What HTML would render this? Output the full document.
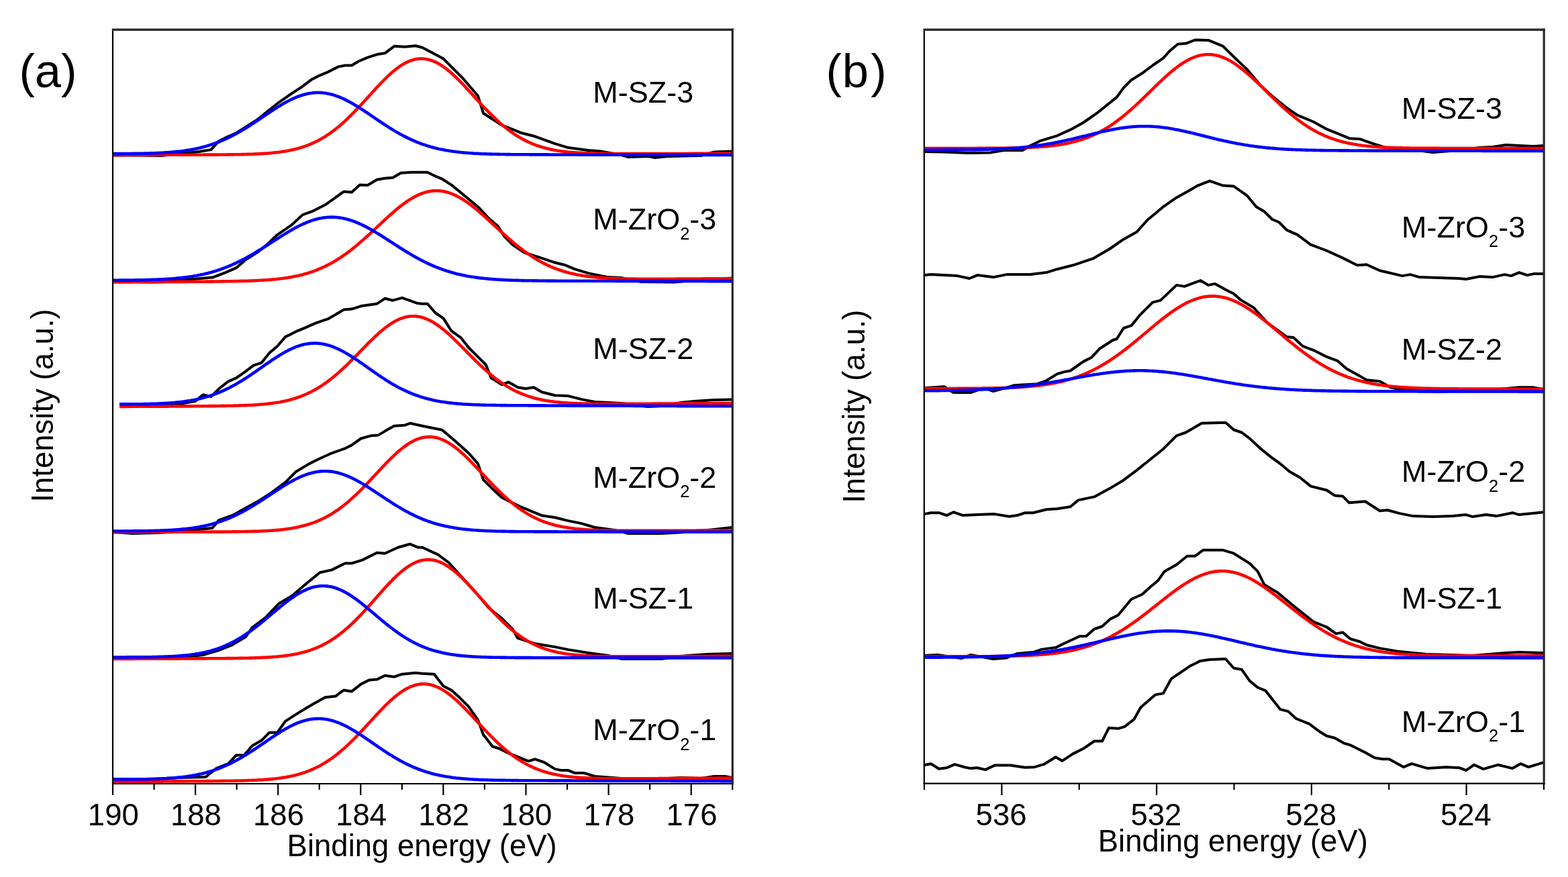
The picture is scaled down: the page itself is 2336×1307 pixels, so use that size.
<!DOCTYPE html>
<html><head><meta charset="utf-8"><title>XPS spectra</title>
<style>
html,body{margin:0;padding:0;background:#fff;}
svg{display:block;}
text{font-family:"Liberation Sans",Arial,sans-serif;fill:#000;}
.tk{font-size:45.5px;}
.lb{font-size:45px;}
.sub{font-size:25.5px;}
.ti{font-size:45.5px;}
.pl{font-size:70.5px;}
</style></head><body>
<svg width="2336" height="1307" viewBox="0 0 2336 1307">
<rect width="2336" height="1307" fill="#fff"/>
<g fill="none" stroke-width="4.0" stroke-linejoin="round" stroke-linecap="butt">
<path d="M168.0,231.6 L207.6,231.6 L241.2,232.0 L266.9,229.0 L296.6,226.0 L314.4,223.1 L326.2,210.2 L338.1,204.3 L351.9,198.3 L365.8,189.4 L381.6,179.5 L395.4,168.7 L415.2,152.8 L435.0,139.0 L448.8,130.1 L464.7,118.2 L476.5,112.3 L488.4,107.4 L504.2,99.4 L514.1,97.5 L524.0,97.5 L533.9,91.5 L547.7,85.6 L563.5,80.7 L573.4,79.3 L587.3,68.8 L603.1,69.8 L618.9,68.2 L629.0,70.8 L660.6,87.6 L688.3,115.3 L712.1,143.0 L720.0,168.7 L747.7,186.5 L777.3,198.3 L797.1,203.3 L826.8,214.2 L846.6,220.1 L876.2,224.0 L896.0,225.6 L925.7,231.0 L935.5,233.9 L965.2,232.9 L975.1,234.9 L994.9,232.9 L1044.3,232.0 L1064.1,226.4 L1091.0,225.6" stroke="#000"/>
<path d="M168.0,231.0 L170.0,231.0 L172.0,231.0 L174.0,231.0 L176.0,231.0 L178.0,231.0 L180.0,231.0 L182.0,231.0 L184.0,231.0 L186.0,231.0 L188.0,231.0 L190.0,230.9 L192.0,230.9 L194.0,230.9 L196.0,230.9 L198.0,230.9 L200.0,230.9 L202.0,230.9 L204.0,230.9 L206.0,230.9 L208.0,230.9 L210.0,230.9 L212.0,230.9 L214.0,230.9 L216.0,230.9 L218.0,230.9 L220.0,230.9 L222.0,230.9 L224.0,230.9 L226.0,230.9 L228.0,230.9 L230.0,230.9 L232.0,230.8 L234.0,230.8 L236.0,230.8 L238.0,230.8 L240.0,230.8 L242.0,230.8 L244.0,230.8 L246.0,230.8 L248.0,230.8 L250.0,230.8 L252.0,230.8 L254.0,230.8 L256.0,230.8 L258.0,230.8 L260.0,230.8 L262.0,230.8 L264.0,230.8 L266.0,230.8 L268.0,230.8 L270.0,230.8 L272.0,230.7 L274.0,230.7 L276.0,230.7 L278.0,230.7 L280.0,230.7 L282.0,230.7 L284.0,230.7 L286.0,230.7 L288.0,230.7 L290.0,230.7 L292.0,230.7 L294.0,230.7 L296.0,230.7 L298.0,230.7 L300.0,230.7 L302.0,230.7 L304.0,230.6 L306.0,230.6 L308.0,230.6 L310.0,230.6 L312.0,230.6 L314.0,230.6 L316.0,230.6 L318.0,230.6 L320.0,230.6 L322.0,230.6 L324.0,230.6 L326.0,230.5 L328.0,230.5 L330.0,230.5 L332.0,230.5 L334.0,230.5 L336.0,230.5 L338.0,230.4 L340.0,230.4 L342.0,230.4 L344.0,230.4 L346.0,230.4 L348.0,230.3 L350.0,230.3 L352.0,230.3 L354.0,230.2 L356.0,230.2 L358.0,230.2 L360.0,230.1 L362.0,230.1 L364.0,230.0 L366.0,230.0 L368.0,229.9 L370.0,229.9 L372.0,229.8 L374.0,229.8 L376.0,229.7 L378.0,229.6 L380.0,229.5 L382.0,229.4 L384.0,229.4 L386.0,229.3 L388.0,229.1 L390.0,229.0 L392.0,228.9 L394.0,228.8 L396.0,228.7 L398.0,228.5 L400.0,228.4 L402.0,228.2 L404.0,228.0 L406.0,227.8 L408.0,227.6 L410.0,227.4 L412.0,227.2 L414.0,226.9 L416.0,226.7 L418.0,226.4 L420.0,226.1 L422.0,225.8 L424.0,225.5 L426.0,225.2 L428.0,224.8 L430.0,224.5 L432.0,224.1 L434.0,223.6 L436.0,223.2 L438.0,222.7 L440.0,222.2 L442.0,221.7 L444.0,221.2 L446.0,220.6 L448.0,220.0 L450.0,219.4 L452.0,218.8 L454.0,218.1 L456.0,217.4 L458.0,216.6 L460.0,215.9 L462.0,215.0 L464.0,214.2 L466.0,213.3 L468.0,212.4 L470.0,211.4 L472.0,210.5 L474.0,209.4 L476.0,208.4 L478.0,207.2 L480.0,206.1 L482.0,204.9 L484.0,203.7 L486.0,202.4 L488.0,201.1 L490.0,199.8 L492.0,198.4 L494.0,196.9 L496.0,195.5 L498.0,193.9 L500.0,192.4 L502.0,190.8 L504.0,189.2 L506.0,187.5 L508.0,185.8 L510.0,184.0 L512.0,182.2 L514.0,180.4 L516.0,178.5 L518.0,176.6 L520.0,174.7 L522.0,172.7 L524.0,170.7 L526.0,168.7 L528.0,166.6 L530.0,164.6 L532.0,162.5 L534.0,160.3 L536.0,158.2 L538.0,156.0 L540.0,153.9 L542.0,151.7 L544.0,149.5 L546.0,147.3 L548.0,145.1 L550.0,142.9 L552.0,140.7 L554.0,138.4 L556.0,136.2 L558.0,134.1 L560.0,131.9 L562.0,129.7 L564.0,127.6 L566.0,125.5 L568.0,123.4 L570.0,121.3 L572.0,119.3 L574.0,117.3 L576.0,115.3 L578.0,113.4 L580.0,111.6 L582.0,109.8 L584.0,108.0 L586.0,106.3 L588.0,104.6 L590.0,103.0 L592.0,101.5 L594.0,100.0 L596.0,98.6 L598.0,97.3 L600.0,96.1 L602.0,94.9 L604.0,93.8 L606.0,92.8 L608.0,91.9 L610.0,91.0 L612.0,90.3 L614.0,89.6 L616.0,89.0 L618.0,88.5 L620.0,88.1 L622.0,87.8 L624.0,87.6 L626.0,87.5 L628.0,87.4 L630.0,87.5 L632.0,87.7 L634.0,87.9 L636.0,88.2 L638.0,88.7 L640.0,89.2 L642.0,89.8 L644.0,90.5 L646.0,91.3 L648.0,92.1 L650.0,93.1 L652.0,94.1 L654.0,95.2 L656.0,96.4 L658.0,97.7 L660.0,99.0 L662.0,100.5 L664.0,101.9 L666.0,103.5 L668.0,105.1 L670.0,106.8 L672.0,108.5 L674.0,110.3 L676.0,112.1 L678.0,114.0 L680.0,115.9 L682.0,117.8 L684.0,119.8 L686.0,121.9 L688.0,123.9 L690.0,126.0 L692.0,128.1 L694.0,130.3 L696.0,132.4 L698.0,134.6 L700.0,136.8 L702.0,139.0 L704.0,141.2 L706.0,143.4 L708.0,145.6 L710.0,147.8 L712.0,150.0 L714.0,152.2 L716.0,154.3 L718.0,156.5 L720.0,158.6 L722.0,160.8 L724.0,162.9 L726.0,164.9 L728.0,167.0 L730.0,169.0 L732.0,171.0 L734.0,173.0 L736.0,175.0 L738.0,176.9 L740.0,178.7 L742.0,180.6 L744.0,182.4 L746.0,184.2 L748.0,185.9 L750.0,187.6 L752.0,189.2 L754.0,190.8 L756.0,192.4 L758.0,193.9 L760.0,195.4 L762.0,196.9 L764.0,198.3 L766.0,199.7 L768.0,201.0 L770.0,202.3 L772.0,203.5 L774.0,204.7 L776.0,205.9 L778.0,207.0 L780.0,208.1 L782.0,209.1 L784.0,210.1 L786.0,211.1 L788.0,212.0 L790.0,212.9 L792.0,213.8 L794.0,214.6 L796.0,215.4 L798.0,216.1 L800.0,216.8 L802.0,217.5 L804.0,218.2 L806.0,218.8 L808.0,219.4 L810.0,220.0 L812.0,220.5 L814.0,221.1 L816.0,221.6 L818.0,222.0 L820.0,222.5 L822.0,222.9 L824.0,223.3 L826.0,223.7 L828.0,224.0 L830.0,224.4 L832.0,224.7 L834.0,225.0 L836.0,225.3 L838.0,225.5 L840.0,225.8 L842.0,226.0 L844.0,226.2 L846.0,226.5 L848.0,226.7 L850.0,226.8 L852.0,227.0 L854.0,227.2 L856.0,227.3 L858.0,227.5 L860.0,227.6 L862.0,227.7 L864.0,227.8 L866.0,227.9 L868.0,228.0 L870.0,228.1 L872.0,228.2 L874.0,228.3 L876.0,228.4 L878.0,228.4 L880.0,228.5 L882.0,228.6 L884.0,228.6 L886.0,228.7 L888.0,228.7 L890.0,228.8 L892.0,228.8 L894.0,228.8 L896.0,228.9 L898.0,228.9 L900.0,228.9 L902.0,228.9 L904.0,229.0 L906.0,229.0 L908.0,229.0 L910.0,229.0 L912.0,229.0 L914.0,229.0 L916.0,229.1 L918.0,229.1 L920.0,229.1 L922.0,229.1 L924.0,229.1 L926.0,229.1 L928.0,229.1 L930.0,229.1 L932.0,229.1 L934.0,229.1 L936.0,229.1 L938.0,229.1 L940.0,229.1 L942.0,229.1 L944.0,229.1 L946.0,229.1 L948.0,229.1 L950.0,229.1 L952.0,229.1 L954.0,229.1 L956.0,229.1 L958.0,229.1 L960.0,229.1 L962.0,229.1 L964.0,229.1 L966.0,229.1 L968.0,229.1 L970.0,229.1 L972.0,229.1 L974.0,229.1 L976.0,229.1 L978.0,229.1 L980.0,229.1 L982.0,229.1 L984.0,229.1 L986.0,229.0 L988.0,229.0 L990.0,229.0 L992.0,229.0 L994.0,229.0 L996.0,229.0 L998.0,229.0 L1000.0,229.0 L1002.0,229.0 L1004.0,229.0 L1006.0,229.0 L1008.0,229.0 L1010.0,229.0 L1012.0,229.0 L1014.0,229.0 L1016.0,229.0 L1018.0,229.0 L1020.0,229.0 L1022.0,229.0 L1024.0,229.0 L1026.0,229.0 L1028.0,228.9 L1030.0,228.9 L1032.0,228.9 L1034.0,228.9 L1036.0,228.9 L1038.0,228.9 L1040.0,228.9 L1042.0,228.9 L1044.0,228.9 L1046.0,228.9 L1048.0,228.9 L1050.0,228.9 L1052.0,228.9 L1054.0,228.9 L1056.0,228.9 L1058.0,228.9 L1060.0,228.9 L1062.0,228.9 L1064.0,228.9 L1066.0,228.9 L1068.0,228.9 L1070.0,228.9 L1072.0,228.8 L1074.0,228.8 L1076.0,228.8 L1078.0,228.8 L1080.0,228.8 L1082.0,228.8 L1084.0,228.8 L1086.0,228.8 L1088.0,228.8 L1090.0,228.8" stroke="#f00" stroke-width="4.6"/>
<path d="M168.0,229.1 L170.0,229.1 L172.0,229.1 L174.0,229.1 L176.0,229.1 L178.0,229.1 L180.0,229.1 L182.0,229.1 L184.0,229.1 L186.0,229.0 L188.0,229.0 L190.0,229.0 L192.0,229.0 L194.0,229.0 L196.0,229.0 L198.0,228.9 L200.0,228.9 L202.0,228.9 L204.0,228.9 L206.0,228.8 L208.0,228.8 L210.0,228.8 L212.0,228.7 L214.0,228.7 L216.0,228.6 L218.0,228.6 L220.0,228.5 L222.0,228.5 L224.0,228.4 L226.0,228.4 L228.0,228.3 L230.0,228.2 L232.0,228.1 L234.0,228.1 L236.0,228.0 L238.0,227.9 L240.0,227.8 L242.0,227.7 L244.0,227.5 L246.0,227.4 L248.0,227.3 L250.0,227.2 L252.0,227.0 L254.0,226.8 L256.0,226.7 L258.0,226.5 L260.0,226.3 L262.0,226.1 L264.0,225.9 L266.0,225.7 L268.0,225.5 L270.0,225.2 L272.0,225.0 L274.0,224.7 L276.0,224.4 L278.0,224.1 L280.0,223.8 L282.0,223.5 L284.0,223.1 L286.0,222.8 L288.0,222.4 L290.0,222.0 L292.0,221.6 L294.0,221.2 L296.0,220.7 L298.0,220.3 L300.0,219.8 L302.0,219.3 L304.0,218.7 L306.0,218.2 L308.0,217.6 L310.0,217.0 L312.0,216.4 L314.0,215.8 L316.0,215.1 L318.0,214.4 L320.0,213.7 L322.0,213.0 L324.0,212.2 L326.0,211.5 L328.0,210.7 L330.0,209.8 L332.0,209.0 L334.0,208.1 L336.0,207.2 L338.0,206.3 L340.0,205.3 L342.0,204.4 L344.0,203.4 L346.0,202.4 L348.0,201.3 L350.0,200.3 L352.0,199.2 L354.0,198.1 L356.0,196.9 L358.0,195.8 L360.0,194.6 L362.0,193.4 L364.0,192.2 L366.0,191.0 L368.0,189.7 L370.0,188.5 L372.0,187.2 L374.0,185.9 L376.0,184.6 L378.0,183.3 L380.0,182.0 L382.0,180.7 L384.0,179.3 L386.0,178.0 L388.0,176.6 L390.0,175.3 L392.0,173.9 L394.0,172.6 L396.0,171.2 L398.0,169.9 L400.0,168.5 L402.0,167.2 L404.0,165.9 L406.0,164.6 L408.0,163.2 L410.0,162.0 L412.0,160.7 L414.0,159.4 L416.0,158.2 L418.0,157.0 L420.0,155.8 L422.0,154.6 L424.0,153.5 L426.0,152.3 L428.0,151.3 L430.0,150.2 L432.0,149.2 L434.0,148.2 L436.0,147.3 L438.0,146.4 L440.0,145.5 L442.0,144.7 L444.0,143.9 L446.0,143.1 L448.0,142.5 L450.0,141.8 L452.0,141.2 L454.0,140.7 L456.0,140.2 L458.0,139.7 L460.0,139.3 L462.0,139.0 L464.0,138.7 L466.0,138.4 L468.0,138.2 L470.0,138.1 L472.0,138.0 L474.0,138.0 L476.0,138.0 L478.0,138.1 L480.0,138.3 L482.0,138.5 L484.0,138.7 L486.0,139.0 L488.0,139.4 L490.0,139.8 L492.0,140.2 L494.0,140.7 L496.0,141.3 L498.0,141.9 L500.0,142.6 L502.0,143.3 L504.0,144.0 L506.0,144.8 L508.0,145.6 L510.0,146.5 L512.0,147.4 L514.0,148.4 L516.0,149.4 L518.0,150.4 L520.0,151.5 L522.0,152.6 L524.0,153.7 L526.0,154.8 L528.0,156.0 L530.0,157.2 L532.0,158.4 L534.0,159.7 L536.0,160.9 L538.0,162.2 L540.0,163.5 L542.0,164.8 L544.0,166.2 L546.0,167.5 L548.0,168.8 L550.0,170.2 L552.0,171.6 L554.0,172.9 L556.0,174.3 L558.0,175.6 L560.0,177.0 L562.0,178.4 L564.0,179.7 L566.0,181.0 L568.0,182.4 L570.0,183.7 L572.0,185.0 L574.0,186.3 L576.0,187.6 L578.0,188.9 L580.0,190.2 L582.0,191.4 L584.0,192.7 L586.0,193.9 L588.0,195.1 L590.0,196.3 L592.0,197.4 L594.0,198.6 L596.0,199.7 L598.0,200.8 L600.0,201.8 L602.0,202.9 L604.0,203.9 L606.0,204.9 L608.0,205.9 L610.0,206.8 L612.0,207.8 L614.0,208.7 L616.0,209.6 L618.0,210.4 L620.0,211.3 L622.0,212.1 L624.0,212.8 L626.0,213.6 L628.0,214.3 L630.0,215.1 L632.0,215.7 L634.0,216.4 L636.0,217.1 L638.0,217.7 L640.0,218.3 L642.0,218.9 L644.0,219.4 L646.0,219.9 L648.0,220.5 L650.0,221.0 L652.0,221.4 L654.0,221.9 L656.0,222.3 L658.0,222.7 L660.0,223.1 L662.0,223.5 L664.0,223.9 L666.0,224.2 L668.0,224.6 L670.0,224.9 L672.0,225.2 L674.0,225.5 L676.0,225.8 L678.0,226.0 L680.0,226.3 L682.0,226.5 L684.0,226.7 L686.0,227.0 L688.0,227.2 L690.0,227.4 L692.0,227.5 L694.0,227.7 L696.0,227.9 L698.0,228.0 L700.0,228.2 L702.0,228.3 L704.0,228.4 L706.0,228.6 L708.0,228.7 L710.0,228.8 L712.0,228.9 L714.0,229.0 L716.0,229.1 L718.0,229.2 L720.0,229.3 L722.0,229.3 L724.0,229.4 L726.0,229.5 L728.0,229.5 L730.0,229.6 L732.0,229.6 L734.0,229.7 L736.0,229.7 L738.0,229.8 L740.0,229.8 L742.0,229.9 L744.0,229.9 L746.0,230.0 L748.0,230.0 L750.0,230.0 L752.0,230.0 L754.0,230.1 L756.0,230.1 L758.0,230.1 L760.0,230.1 L762.0,230.2 L764.0,230.2 L766.0,230.2 L768.0,230.2 L770.0,230.2 L772.0,230.3 L774.0,230.3 L776.0,230.3 L778.0,230.3 L780.0,230.3 L782.0,230.3 L784.0,230.3 L786.0,230.3 L788.0,230.3 L790.0,230.4 L792.0,230.4 L794.0,230.4 L796.0,230.4 L798.0,230.4 L800.0,230.4 L802.0,230.4 L804.0,230.4 L806.0,230.4 L808.0,230.4 L810.0,230.4 L812.0,230.4 L814.0,230.4 L816.0,230.4 L818.0,230.5 L820.0,230.5 L822.0,230.5 L824.0,230.5 L826.0,230.5 L828.0,230.5 L830.0,230.5 L832.0,230.5 L834.0,230.5 L836.0,230.5 L838.0,230.5 L840.0,230.5 L842.0,230.5 L844.0,230.5 L846.0,230.5 L848.0,230.5 L850.0,230.5 L852.0,230.5 L854.0,230.5 L856.0,230.5 L858.0,230.5 L860.0,230.5 L862.0,230.6 L864.0,230.6 L866.0,230.6 L868.0,230.6 L870.0,230.6 L872.0,230.6 L874.0,230.6 L876.0,230.6 L878.0,230.6 L880.0,230.6 L882.0,230.6 L884.0,230.6 L886.0,230.6 L888.0,230.6 L890.0,230.6 L892.0,230.6 L894.0,230.6 L896.0,230.6 L898.0,230.6 L900.0,230.6 L902.0,230.6 L904.0,230.6 L906.0,230.6 L908.0,230.6 L910.0,230.6 L912.0,230.7 L914.0,230.7 L916.0,230.7 L918.0,230.7 L920.0,230.7 L922.0,230.7 L924.0,230.7 L926.0,230.7 L928.0,230.7 L930.0,230.7 L932.0,230.7 L934.0,230.7 L936.0,230.7 L938.0,230.7 L940.0,230.7 L942.0,230.7 L944.0,230.7 L946.0,230.7 L948.0,230.7 L950.0,230.7 L952.0,230.7 L954.0,230.7 L956.0,230.7 L958.0,230.7 L960.0,230.7 L962.0,230.7 L964.0,230.8 L966.0,230.8 L968.0,230.8 L970.0,230.8 L972.0,230.8 L974.0,230.8 L976.0,230.8 L978.0,230.8 L980.0,230.8 L982.0,230.8 L984.0,230.8 L986.0,230.8 L988.0,230.8 L990.0,230.8 L992.0,230.8 L994.0,230.8 L996.0,230.8 L998.0,230.8 L1000.0,230.8 L1002.0,230.8 L1004.0,230.8 L1006.0,230.8 L1008.0,230.8 L1010.0,230.8 L1012.0,230.8 L1014.0,230.8 L1016.0,230.9 L1018.0,230.9 L1020.0,230.9 L1022.0,230.9 L1024.0,230.9 L1026.0,230.9 L1028.0,230.9 L1030.0,230.9 L1032.0,230.9 L1034.0,230.9 L1036.0,230.9 L1038.0,230.9 L1040.0,230.9 L1042.0,230.9 L1044.0,230.9 L1046.0,230.9 L1048.0,230.9 L1050.0,230.9 L1052.0,230.9 L1054.0,230.9 L1056.0,230.9 L1058.0,230.9 L1060.0,230.9 L1062.0,230.9 L1064.0,230.9 L1066.0,231.0 L1068.0,231.0 L1070.0,231.0 L1072.0,231.0 L1074.0,231.0 L1076.0,231.0 L1078.0,231.0 L1080.0,231.0 L1082.0,231.0 L1084.0,231.0 L1086.0,231.0 L1088.0,231.0 L1090.0,231.0" stroke="#00f" stroke-width="4.6"/>
<path d="M168.0,419.0 L197.7,420.0 L227.3,420.4 L257.0,419.0 L286.7,416.0 L316.3,413.6 L336.1,406.1 L351.9,399.2 L365.8,387.3 L385.6,374.5 L395.4,366.6 L413.2,349.8 L435.0,334.9 L450.8,320.1 L464.7,315.2 L484.4,305.3 L494.3,298.3 L512.1,285.5 L524.0,286.5 L535.9,275.6 L547.7,276.0 L561.6,267.7 L573.4,265.7 L585.3,264.7 L597.2,257.8 L613.0,256.8 L629.0,256.8 L636.9,256.8 L648.8,262.7 L658.7,266.7 L672.5,275.6 L688.3,288.5 L712.1,308.2 L727.9,325.0 L741.7,336.9 L751.6,352.7 L763.5,364.6 L781.3,376.5 L803.0,383.4 L826.8,391.3 L842.6,395.3 L856.4,401.2 L876.2,407.1 L905.9,413.1 L925.7,414.0 L955.3,420.0 L1004.8,420.4 L1054.2,416.0 L1091.0,414.4" stroke="#000"/>
<path d="M168.0,420.5 L170.0,420.5 L172.0,420.5 L174.0,420.5 L176.0,420.5 L178.0,420.4 L180.0,420.4 L182.0,420.4 L184.0,420.4 L186.0,420.4 L188.0,420.4 L190.0,420.4 L192.0,420.4 L194.0,420.4 L196.0,420.3 L198.0,420.3 L200.0,420.3 L202.0,420.3 L204.0,420.3 L206.0,420.3 L208.0,420.3 L210.0,420.3 L212.0,420.2 L214.0,420.2 L216.0,420.2 L218.0,420.2 L220.0,420.2 L222.0,420.2 L224.0,420.2 L226.0,420.2 L228.0,420.2 L230.0,420.1 L232.0,420.1 L234.0,420.1 L236.0,420.1 L238.0,420.1 L240.0,420.1 L242.0,420.1 L244.0,420.1 L246.0,420.0 L248.0,420.0 L250.0,420.0 L252.0,420.0 L254.0,420.0 L256.0,420.0 L258.0,420.0 L260.0,420.0 L262.0,420.0 L264.0,419.9 L266.0,419.9 L268.0,419.9 L270.0,419.9 L272.0,419.9 L274.0,419.9 L276.0,419.9 L278.0,419.9 L280.0,419.8 L282.0,419.8 L284.0,419.8 L286.0,419.8 L288.0,419.8 L290.0,419.8 L292.0,419.8 L294.0,419.7 L296.0,419.7 L298.0,419.7 L300.0,419.7 L302.0,419.7 L304.0,419.7 L306.0,419.7 L308.0,419.6 L310.0,419.6 L312.0,419.6 L314.0,419.6 L316.0,419.6 L318.0,419.5 L320.0,419.5 L322.0,419.5 L324.0,419.5 L326.0,419.5 L328.0,419.4 L330.0,419.4 L332.0,419.4 L334.0,419.4 L336.0,419.3 L338.0,419.3 L340.0,419.3 L342.0,419.3 L344.0,419.2 L346.0,419.2 L348.0,419.1 L350.0,419.1 L352.0,419.1 L354.0,419.0 L356.0,419.0 L358.0,418.9 L360.0,418.9 L362.0,418.8 L364.0,418.8 L366.0,418.7 L368.0,418.7 L370.0,418.6 L372.0,418.5 L374.0,418.5 L376.0,418.4 L378.0,418.3 L380.0,418.2 L382.0,418.1 L384.0,418.0 L386.0,417.9 L388.0,417.8 L390.0,417.7 L392.0,417.6 L394.0,417.5 L396.0,417.3 L398.0,417.2 L400.0,417.0 L402.0,416.9 L404.0,416.7 L406.0,416.5 L408.0,416.3 L410.0,416.2 L412.0,416.0 L414.0,415.7 L416.0,415.5 L418.0,415.3 L420.0,415.0 L422.0,414.8 L424.0,414.5 L426.0,414.2 L428.0,413.9 L430.0,413.6 L432.0,413.2 L434.0,412.9 L436.0,412.5 L438.0,412.1 L440.0,411.7 L442.0,411.3 L444.0,410.9 L446.0,410.4 L448.0,409.9 L450.0,409.4 L452.0,408.9 L454.0,408.3 L456.0,407.8 L458.0,407.2 L460.0,406.6 L462.0,405.9 L464.0,405.3 L466.0,404.6 L468.0,403.8 L470.0,403.1 L472.0,402.3 L474.0,401.5 L476.0,400.7 L478.0,399.8 L480.0,399.0 L482.0,398.0 L484.0,397.1 L486.0,396.1 L488.0,395.1 L490.0,394.1 L492.0,393.0 L494.0,391.9 L496.0,390.8 L498.0,389.6 L500.0,388.4 L502.0,387.2 L504.0,386.0 L506.0,384.7 L508.0,383.3 L510.0,382.0 L512.0,380.6 L514.0,379.2 L516.0,377.8 L518.0,376.3 L520.0,374.8 L522.0,373.3 L524.0,371.7 L526.0,370.1 L528.0,368.5 L530.0,366.9 L532.0,365.2 L534.0,363.5 L536.0,361.8 L538.0,360.1 L540.0,358.4 L542.0,356.6 L544.0,354.8 L546.0,353.0 L548.0,351.2 L550.0,349.4 L552.0,347.5 L554.0,345.7 L556.0,343.8 L558.0,341.9 L560.0,340.1 L562.0,338.2 L564.0,336.3 L566.0,334.4 L568.0,332.6 L570.0,330.7 L572.0,328.8 L574.0,327.0 L576.0,325.2 L578.0,323.3 L580.0,321.5 L582.0,319.7 L584.0,318.0 L586.0,316.2 L588.0,314.5 L590.0,312.8 L592.0,311.1 L594.0,309.5 L596.0,307.9 L598.0,306.3 L600.0,304.8 L602.0,303.3 L604.0,301.9 L606.0,300.5 L608.0,299.1 L610.0,297.8 L612.0,296.6 L614.0,295.4 L616.0,294.2 L618.0,293.1 L620.0,292.1 L622.0,291.1 L624.0,290.2 L626.0,289.3 L628.0,288.5 L630.0,287.8 L632.0,287.1 L634.0,286.5 L636.0,286.0 L638.0,285.6 L640.0,285.2 L642.0,284.8 L644.0,284.6 L646.0,284.4 L648.0,284.3 L650.0,284.2 L652.0,284.3 L654.0,284.4 L656.0,284.5 L658.0,284.8 L660.0,285.1 L662.0,285.5 L664.0,285.9 L666.0,286.4 L668.0,287.0 L670.0,287.7 L672.0,288.4 L674.0,289.2 L676.0,290.0 L678.0,290.9 L680.0,291.9 L682.0,292.9 L684.0,294.0 L686.0,295.1 L688.0,296.3 L690.0,297.5 L692.0,298.8 L694.0,300.1 L696.0,301.5 L698.0,302.9 L700.0,304.4 L702.0,305.9 L704.0,307.5 L706.0,309.0 L708.0,310.7 L710.0,312.3 L712.0,314.0 L714.0,315.7 L716.0,317.4 L718.0,319.2 L720.0,320.9 L722.0,322.7 L724.0,324.5 L726.0,326.3 L728.0,328.2 L730.0,330.0 L732.0,331.9 L734.0,333.7 L736.0,335.5 L738.0,337.4 L740.0,339.3 L742.0,341.1 L744.0,342.9 L746.0,344.8 L748.0,346.6 L750.0,348.4 L752.0,350.2 L754.0,352.0 L756.0,353.8 L758.0,355.6 L760.0,357.3 L762.0,359.0 L764.0,360.7 L766.0,362.4 L768.0,364.1 L770.0,365.7 L772.0,367.3 L774.0,368.9 L776.0,370.4 L778.0,372.0 L780.0,373.5 L782.0,375.0 L784.0,376.4 L786.0,377.8 L788.0,379.2 L790.0,380.6 L792.0,381.9 L794.0,383.2 L796.0,384.4 L798.0,385.7 L800.0,386.9 L802.0,388.0 L804.0,389.2 L806.0,390.3 L808.0,391.3 L810.0,392.4 L812.0,393.4 L814.0,394.4 L816.0,395.3 L818.0,396.2 L820.0,397.1 L822.0,398.0 L824.0,398.8 L826.0,399.6 L828.0,400.4 L830.0,401.1 L832.0,401.8 L834.0,402.5 L836.0,403.2 L838.0,403.8 L840.0,404.5 L842.0,405.0 L844.0,405.6 L846.0,406.2 L848.0,406.7 L850.0,407.2 L852.0,407.6 L854.0,408.1 L856.0,408.5 L858.0,409.0 L860.0,409.4 L862.0,409.7 L864.0,410.1 L866.0,410.4 L868.0,410.8 L870.0,411.1 L872.0,411.4 L874.0,411.6 L876.0,411.9 L878.0,412.2 L880.0,412.4 L882.0,412.6 L884.0,412.8 L886.0,413.0 L888.0,413.2 L890.0,413.4 L892.0,413.6 L894.0,413.8 L896.0,413.9 L898.0,414.0 L900.0,414.2 L902.0,414.3 L904.0,414.4 L906.0,414.5 L908.0,414.6 L910.0,414.7 L912.0,414.8 L914.0,414.9 L916.0,415.0 L918.0,415.1 L920.0,415.1 L922.0,415.2 L924.0,415.2 L926.0,415.3 L928.0,415.3 L930.0,415.4 L932.0,415.4 L934.0,415.5 L936.0,415.5 L938.0,415.5 L940.0,415.6 L942.0,415.6 L944.0,415.6 L946.0,415.6 L948.0,415.6 L950.0,415.7 L952.0,415.7 L954.0,415.7 L956.0,415.7 L958.0,415.7 L960.0,415.7 L962.0,415.7 L964.0,415.7 L966.0,415.7 L968.0,415.7 L970.0,415.7 L972.0,415.7 L974.0,415.7 L976.0,415.7 L978.0,415.7 L980.0,415.7 L982.0,415.7 L984.0,415.7 L986.0,415.7 L988.0,415.7 L990.0,415.7 L992.0,415.7 L994.0,415.7 L996.0,415.7 L998.0,415.7 L1000.0,415.7 L1002.0,415.7 L1004.0,415.7 L1006.0,415.7 L1008.0,415.6 L1010.0,415.6 L1012.0,415.6 L1014.0,415.6 L1016.0,415.6 L1018.0,415.6 L1020.0,415.6 L1022.0,415.6 L1024.0,415.6 L1026.0,415.6 L1028.0,415.6 L1030.0,415.5 L1032.0,415.5 L1034.0,415.5 L1036.0,415.5 L1038.0,415.5 L1040.0,415.5 L1042.0,415.5 L1044.0,415.5 L1046.0,415.5 L1048.0,415.4 L1050.0,415.4 L1052.0,415.4 L1054.0,415.4 L1056.0,415.4 L1058.0,415.4 L1060.0,415.4 L1062.0,415.4 L1064.0,415.4 L1066.0,415.3 L1068.0,415.3 L1070.0,415.3 L1072.0,415.3 L1074.0,415.3 L1076.0,415.3 L1078.0,415.3 L1080.0,415.3 L1082.0,415.3 L1084.0,415.2 L1086.0,415.2 L1088.0,415.2 L1090.0,415.2" stroke="#f00" stroke-width="4.6"/>
<path d="M168.0,417.7 L170.0,417.7 L172.0,417.7 L174.0,417.7 L176.0,417.7 L178.0,417.6 L180.0,417.6 L182.0,417.6 L184.0,417.6 L186.0,417.6 L188.0,417.6 L190.0,417.6 L192.0,417.5 L194.0,417.5 L196.0,417.5 L198.0,417.5 L200.0,417.5 L202.0,417.4 L204.0,417.4 L206.0,417.4 L208.0,417.3 L210.0,417.3 L212.0,417.3 L214.0,417.2 L216.0,417.2 L218.0,417.1 L220.0,417.1 L222.0,417.0 L224.0,417.0 L226.0,416.9 L228.0,416.8 L230.0,416.8 L232.0,416.7 L234.0,416.6 L236.0,416.5 L238.0,416.4 L240.0,416.3 L242.0,416.2 L244.0,416.1 L246.0,416.0 L248.0,415.9 L250.0,415.8 L252.0,415.6 L254.0,415.5 L256.0,415.3 L258.0,415.2 L260.0,415.0 L262.0,414.8 L264.0,414.6 L266.0,414.4 L268.0,414.2 L270.0,414.0 L272.0,413.8 L274.0,413.6 L276.0,413.3 L278.0,413.1 L280.0,412.8 L282.0,412.5 L284.0,412.2 L286.0,411.9 L288.0,411.6 L290.0,411.2 L292.0,410.9 L294.0,410.5 L296.0,410.1 L298.0,409.7 L300.0,409.3 L302.0,408.9 L304.0,408.4 L306.0,408.0 L308.0,407.5 L310.0,407.0 L312.0,406.4 L314.0,405.9 L316.0,405.4 L318.0,404.8 L320.0,404.2 L322.0,403.6 L324.0,402.9 L326.0,402.3 L328.0,401.6 L330.0,400.9 L332.0,400.2 L334.0,399.4 L336.0,398.7 L338.0,397.9 L340.0,397.1 L342.0,396.2 L344.0,395.4 L346.0,394.5 L348.0,393.6 L350.0,392.7 L352.0,391.8 L354.0,390.8 L356.0,389.8 L358.0,388.9 L360.0,387.8 L362.0,386.8 L364.0,385.7 L366.0,384.7 L368.0,383.6 L370.0,382.5 L372.0,381.3 L374.0,380.2 L376.0,379.0 L378.0,377.9 L380.0,376.7 L382.0,375.5 L384.0,374.3 L386.0,373.0 L388.0,371.8 L390.0,370.6 L392.0,369.3 L394.0,368.0 L396.0,366.8 L398.0,365.5 L400.0,364.2 L402.0,362.9 L404.0,361.6 L406.0,360.3 L408.0,359.0 L410.0,357.8 L412.0,356.5 L414.0,355.2 L416.0,353.9 L418.0,352.7 L420.0,351.4 L422.0,350.1 L424.0,348.9 L426.0,347.7 L428.0,346.5 L430.0,345.3 L432.0,344.1 L434.0,343.0 L436.0,341.8 L438.0,340.7 L440.0,339.6 L442.0,338.6 L444.0,337.5 L446.0,336.5 L448.0,335.5 L450.0,334.6 L452.0,333.7 L454.0,332.8 L456.0,331.9 L458.0,331.1 L460.0,330.3 L462.0,329.6 L464.0,328.9 L466.0,328.2 L468.0,327.6 L470.0,327.0 L472.0,326.5 L474.0,326.0 L476.0,325.6 L478.0,325.2 L480.0,324.8 L482.0,324.5 L484.0,324.2 L486.0,324.0 L488.0,323.8 L490.0,323.7 L492.0,323.6 L494.0,323.6 L496.0,323.6 L498.0,323.7 L500.0,323.8 L502.0,324.0 L504.0,324.2 L506.0,324.4 L508.0,324.8 L510.0,325.1 L512.0,325.5 L514.0,325.9 L516.0,326.4 L518.0,327.0 L520.0,327.5 L522.0,328.1 L524.0,328.8 L526.0,329.5 L528.0,330.2 L530.0,331.0 L532.0,331.8 L534.0,332.7 L536.0,333.6 L538.0,334.5 L540.0,335.4 L542.0,336.4 L544.0,337.4 L546.0,338.4 L548.0,339.5 L550.0,340.6 L552.0,341.7 L554.0,342.8 L556.0,344.0 L558.0,345.2 L560.0,346.4 L562.0,347.6 L564.0,348.8 L566.0,350.0 L568.0,351.3 L570.0,352.5 L572.0,353.8 L574.0,355.1 L576.0,356.4 L578.0,357.7 L580.0,359.0 L582.0,360.3 L584.0,361.5 L586.0,362.8 L588.0,364.1 L590.0,365.4 L592.0,366.7 L594.0,368.0 L596.0,369.3 L598.0,370.5 L600.0,371.8 L602.0,373.0 L604.0,374.3 L606.0,375.5 L608.0,376.7 L610.0,377.9 L612.0,379.1 L614.0,380.2 L616.0,381.4 L618.0,382.5 L620.0,383.7 L622.0,384.8 L624.0,385.8 L626.0,386.9 L628.0,388.0 L630.0,389.0 L632.0,390.0 L634.0,391.0 L636.0,391.9 L638.0,392.9 L640.0,393.8 L642.0,394.7 L644.0,395.6 L646.0,396.4 L648.0,397.3 L650.0,398.1 L652.0,398.9 L654.0,399.7 L656.0,400.4 L658.0,401.2 L660.0,401.9 L662.0,402.6 L664.0,403.2 L666.0,403.9 L668.0,404.5 L670.0,405.1 L672.0,405.7 L674.0,406.3 L676.0,406.8 L678.0,407.4 L680.0,407.9 L682.0,408.4 L684.0,408.8 L686.0,409.3 L688.0,409.7 L690.0,410.2 L692.0,410.6 L694.0,411.0 L696.0,411.4 L698.0,411.7 L700.0,412.1 L702.0,412.4 L704.0,412.7 L706.0,413.0 L708.0,413.3 L710.0,413.6 L712.0,413.9 L714.0,414.1 L716.0,414.4 L718.0,414.6 L720.0,414.8 L722.0,415.0 L724.0,415.2 L726.0,415.4 L728.0,415.6 L730.0,415.8 L732.0,416.0 L734.0,416.1 L736.0,416.3 L738.0,416.4 L740.0,416.5 L742.0,416.7 L744.0,416.8 L746.0,416.9 L748.0,417.0 L750.0,417.1 L752.0,417.2 L754.0,417.3 L756.0,417.4 L758.0,417.5 L760.0,417.6 L762.0,417.6 L764.0,417.7 L766.0,417.8 L768.0,417.8 L770.0,417.9 L772.0,417.9 L774.0,418.0 L776.0,418.0 L778.0,418.1 L780.0,418.1 L782.0,418.2 L784.0,418.2 L786.0,418.2 L788.0,418.3 L790.0,418.3 L792.0,418.3 L794.0,418.4 L796.0,418.4 L798.0,418.4 L800.0,418.4 L802.0,418.5 L804.0,418.5 L806.0,418.5 L808.0,418.5 L810.0,418.5 L812.0,418.5 L814.0,418.6 L816.0,418.6 L818.0,418.6 L820.0,418.6 L822.0,418.6 L824.0,418.6 L826.0,418.6 L828.0,418.6 L830.0,418.7 L832.0,418.7 L834.0,418.7 L836.0,418.7 L838.0,418.7 L840.0,418.7 L842.0,418.7 L844.0,418.7 L846.0,418.7 L848.0,418.7 L850.0,418.7 L852.0,418.7 L854.0,418.7 L856.0,418.7 L858.0,418.8 L860.0,418.8 L862.0,418.8 L864.0,418.8 L866.0,418.8 L868.0,418.8 L870.0,418.8 L872.0,418.8 L874.0,418.8 L876.0,418.8 L878.0,418.8 L880.0,418.8 L882.0,418.8 L884.0,418.8 L886.0,418.8 L888.0,418.8 L890.0,418.8 L892.0,418.8 L894.0,418.8 L896.0,418.8 L898.0,418.8 L900.0,418.8 L902.0,418.8 L904.0,418.8 L906.0,418.8 L908.0,418.8 L910.0,418.8 L912.0,418.8 L914.0,418.8 L916.0,418.9 L918.0,418.9 L920.0,418.9 L922.0,418.9 L924.0,418.9 L926.0,418.9 L928.0,418.9 L930.0,418.9 L932.0,418.9 L934.0,418.9 L936.0,418.9 L938.0,418.9 L940.0,418.9 L942.0,418.9 L944.0,418.9 L946.0,418.9 L948.0,418.9 L950.0,418.9 L952.0,418.9 L954.0,418.9 L956.0,418.9 L958.0,418.9 L960.0,418.9 L962.0,418.9 L964.0,418.9 L966.0,418.9 L968.0,418.9 L970.0,418.9 L972.0,418.9 L974.0,418.9 L976.0,418.9 L978.0,418.9 L980.0,418.9 L982.0,418.9 L984.0,418.9 L986.0,419.0 L988.0,419.0 L990.0,419.0 L992.0,419.0 L994.0,419.0 L996.0,419.0 L998.0,419.0 L1000.0,419.0 L1002.0,419.0 L1004.0,419.0 L1006.0,419.0 L1008.0,419.0 L1010.0,419.0 L1012.0,419.0 L1014.0,419.0 L1016.0,419.0 L1018.0,419.0 L1020.0,419.0 L1022.0,419.0 L1024.0,419.0 L1026.0,419.0 L1028.0,419.0 L1030.0,419.0 L1032.0,419.0 L1034.0,419.0 L1036.0,419.0 L1038.0,419.0 L1040.0,419.0 L1042.0,419.0 L1044.0,419.0 L1046.0,419.0 L1048.0,419.0 L1050.0,419.0 L1052.0,419.0 L1054.0,419.0 L1056.0,419.1 L1058.0,419.1 L1060.0,419.1 L1062.0,419.1 L1064.0,419.1 L1066.0,419.1 L1068.0,419.1 L1070.0,419.1 L1072.0,419.1 L1074.0,419.1 L1076.0,419.1 L1078.0,419.1 L1080.0,419.1 L1082.0,419.1 L1084.0,419.1 L1086.0,419.1 L1088.0,419.1 L1090.0,419.1" stroke="#00f" stroke-width="4.6"/>
<path d="M178.0,606.0 L197.7,606.0 L227.3,606.0 L247.1,605.0 L266.9,602.0 L290.6,598.1 L302.5,588.2 L314.4,591.1 L326.2,579.3 L340.1,568.4 L351.9,563.4 L365.8,553.6 L377.6,544.7 L389.5,540.7 L401.4,525.9 L413.2,516.0 L425.1,502.1 L440.9,494.2 L454.8,488.3 L470.6,481.4 L488.4,475.4 L512.1,461.6 L524.0,460.6 L539.8,455.7 L561.6,452.7 L573.4,444.8 L585.3,447.7 L599.1,443.8 L620.9,451.7 L629.0,452.7 L636.9,452.7 L648.8,466.5 L660.6,474.4 L672.5,493.2 L686.4,503.1 L698.2,518.0 L712.1,531.8 L723.9,543.7 L731.8,563.4 L747.7,573.3 L757.6,569.4 L771.4,577.3 L783.3,579.3 L795.1,577.3 L807.0,584.2 L826.8,589.2 L846.6,590.1 L866.3,595.1 L886.1,599.0 L925.7,601.0 L965.2,606.0 L985.0,605.0 L1014.7,600.0 L1034.4,598.1 L1064.1,596.1 L1091.0,595.5" stroke="#000"/>
<path d="M178.0,605.9 L180.0,605.9 L182.0,605.9 L184.0,605.9 L186.0,605.9 L188.0,605.9 L190.0,605.9 L192.0,605.9 L194.0,605.9 L196.0,605.8 L198.0,605.8 L200.0,605.8 L202.0,605.8 L204.0,605.8 L206.0,605.8 L208.0,605.8 L210.0,605.8 L212.0,605.8 L214.0,605.8 L216.0,605.7 L218.0,605.7 L220.0,605.7 L222.0,605.7 L224.0,605.7 L226.0,605.7 L228.0,605.7 L230.0,605.7 L232.0,605.7 L234.0,605.6 L236.0,605.6 L238.0,605.6 L240.0,605.6 L242.0,605.6 L244.0,605.6 L246.0,605.6 L248.0,605.6 L250.0,605.6 L252.0,605.5 L254.0,605.5 L256.0,605.5 L258.0,605.5 L260.0,605.5 L262.0,605.5 L264.0,605.5 L266.0,605.5 L268.0,605.5 L270.0,605.4 L272.0,605.4 L274.0,605.4 L276.0,605.4 L278.0,605.4 L280.0,605.4 L282.0,605.4 L284.0,605.4 L286.0,605.3 L288.0,605.3 L290.0,605.3 L292.0,605.3 L294.0,605.3 L296.0,605.3 L298.0,605.3 L300.0,605.2 L302.0,605.2 L304.0,605.2 L306.0,605.2 L308.0,605.2 L310.0,605.2 L312.0,605.1 L314.0,605.1 L316.0,605.1 L318.0,605.1 L320.0,605.1 L322.0,605.0 L324.0,605.0 L326.0,605.0 L328.0,605.0 L330.0,604.9 L332.0,604.9 L334.0,604.9 L336.0,604.9 L338.0,604.8 L340.0,604.8 L342.0,604.7 L344.0,604.7 L346.0,604.7 L348.0,604.6 L350.0,604.6 L352.0,604.5 L354.0,604.5 L356.0,604.4 L358.0,604.3 L360.0,604.3 L362.0,604.2 L364.0,604.1 L366.0,604.1 L368.0,604.0 L370.0,603.9 L372.0,603.8 L374.0,603.7 L376.0,603.6 L378.0,603.5 L380.0,603.4 L382.0,603.2 L384.0,603.1 L386.0,602.9 L388.0,602.8 L390.0,602.6 L392.0,602.5 L394.0,602.3 L396.0,602.1 L398.0,601.9 L400.0,601.6 L402.0,601.4 L404.0,601.2 L406.0,600.9 L408.0,600.6 L410.0,600.3 L412.0,600.0 L414.0,599.7 L416.0,599.4 L418.0,599.0 L420.0,598.6 L422.0,598.2 L424.0,597.8 L426.0,597.3 L428.0,596.9 L430.0,596.4 L432.0,595.9 L434.0,595.3 L436.0,594.8 L438.0,594.2 L440.0,593.5 L442.0,592.9 L444.0,592.2 L446.0,591.5 L448.0,590.8 L450.0,590.0 L452.0,589.2 L454.0,588.4 L456.0,587.5 L458.0,586.6 L460.0,585.6 L462.0,584.7 L464.0,583.7 L466.0,582.6 L468.0,581.5 L470.0,580.4 L472.0,579.3 L474.0,578.1 L476.0,576.8 L478.0,575.6 L480.0,574.3 L482.0,572.9 L484.0,571.5 L486.0,570.1 L488.0,568.6 L490.0,567.1 L492.0,565.6 L494.0,564.0 L496.0,562.4 L498.0,560.8 L500.0,559.1 L502.0,557.4 L504.0,555.6 L506.0,553.9 L508.0,552.1 L510.0,550.2 L512.0,548.4 L514.0,546.5 L516.0,544.6 L518.0,542.6 L520.0,540.7 L522.0,538.7 L524.0,536.7 L526.0,534.7 L528.0,532.6 L530.0,530.6 L532.0,528.6 L534.0,526.5 L536.0,524.5 L538.0,522.4 L540.0,520.4 L542.0,518.3 L544.0,516.3 L546.0,514.2 L548.0,512.2 L550.0,510.2 L552.0,508.2 L554.0,506.3 L556.0,504.3 L558.0,502.4 L560.0,500.5 L562.0,498.7 L564.0,496.9 L566.0,495.1 L568.0,493.4 L570.0,491.7 L572.0,490.1 L574.0,488.5 L576.0,487.0 L578.0,485.5 L580.0,484.1 L582.0,482.7 L584.0,481.5 L586.0,480.2 L588.0,479.1 L590.0,478.0 L592.0,477.0 L594.0,476.1 L596.0,475.2 L598.0,474.5 L600.0,473.8 L602.0,473.1 L604.0,472.6 L606.0,472.2 L608.0,471.8 L610.0,471.5 L612.0,471.3 L614.0,471.2 L616.0,471.2 L618.0,471.2 L620.0,471.4 L622.0,471.6 L624.0,471.9 L626.0,472.3 L628.0,472.8 L630.0,473.4 L632.0,474.0 L634.0,474.8 L636.0,475.6 L638.0,476.5 L640.0,477.4 L642.0,478.4 L644.0,479.5 L646.0,480.7 L648.0,482.0 L650.0,483.3 L652.0,484.6 L654.0,486.1 L656.0,487.6 L658.0,489.1 L660.0,490.7 L662.0,492.3 L664.0,494.0 L666.0,495.8 L668.0,497.5 L670.0,499.3 L672.0,501.2 L674.0,503.1 L676.0,505.0 L678.0,506.9 L680.0,508.9 L682.0,510.8 L684.0,512.8 L686.0,514.8 L688.0,516.8 L690.0,518.9 L692.0,520.9 L694.0,522.9 L696.0,525.0 L698.0,527.0 L700.0,529.0 L702.0,531.0 L704.0,533.0 L706.0,535.0 L708.0,537.0 L710.0,539.0 L712.0,540.9 L714.0,542.9 L716.0,544.8 L718.0,546.6 L720.0,548.5 L722.0,550.3 L724.0,552.1 L726.0,553.9 L728.0,555.6 L730.0,557.3 L732.0,559.0 L734.0,560.6 L736.0,562.2 L738.0,563.8 L740.0,565.3 L742.0,566.8 L744.0,568.2 L746.0,569.6 L748.0,571.0 L750.0,572.4 L752.0,573.7 L754.0,574.9 L756.0,576.1 L758.0,577.3 L760.0,578.5 L762.0,579.6 L764.0,580.7 L766.0,581.7 L768.0,582.7 L770.0,583.7 L772.0,584.6 L774.0,585.5 L776.0,586.3 L778.0,587.2 L780.0,587.9 L782.0,588.7 L784.0,589.4 L786.0,590.1 L788.0,590.8 L790.0,591.4 L792.0,592.0 L794.0,592.6 L796.0,593.2 L798.0,593.7 L800.0,594.2 L802.0,594.7 L804.0,595.1 L806.0,595.6 L808.0,596.0 L810.0,596.4 L812.0,596.7 L814.0,597.1 L816.0,597.4 L818.0,597.7 L820.0,598.0 L822.0,598.3 L824.0,598.5 L826.0,598.8 L828.0,599.0 L830.0,599.2 L832.0,599.4 L834.0,599.6 L836.0,599.8 L838.0,600.0 L840.0,600.1 L842.0,600.3 L844.0,600.4 L846.0,600.5 L848.0,600.7 L850.0,600.8 L852.0,600.9 L854.0,601.0 L856.0,601.1 L858.0,601.1 L860.0,601.2 L862.0,601.3 L864.0,601.3 L866.0,601.4 L868.0,601.5 L870.0,601.5 L872.0,601.5 L874.0,601.6 L876.0,601.6 L878.0,601.7 L880.0,601.7 L882.0,601.7 L884.0,601.7 L886.0,601.8 L888.0,601.8 L890.0,601.8 L892.0,601.8 L894.0,601.8 L896.0,601.8 L898.0,601.8 L900.0,601.8 L902.0,601.9 L904.0,601.9 L906.0,601.9 L908.0,601.9 L910.0,601.9 L912.0,601.9 L914.0,601.9 L916.0,601.9 L918.0,601.9 L920.0,601.9 L922.0,601.9 L924.0,601.8 L926.0,601.8 L928.0,601.8 L930.0,601.8 L932.0,601.8 L934.0,601.8 L936.0,601.8 L938.0,601.8 L940.0,601.8 L942.0,601.8 L944.0,601.8 L946.0,601.8 L948.0,601.8 L950.0,601.7 L952.0,601.7 L954.0,601.7 L956.0,601.7 L958.0,601.7 L960.0,601.7 L962.0,601.7 L964.0,601.7 L966.0,601.7 L968.0,601.7 L970.0,601.7 L972.0,601.6 L974.0,601.6 L976.0,601.6 L978.0,601.6 L980.0,601.6 L982.0,601.6 L984.0,601.6 L986.0,601.6 L988.0,601.6 L990.0,601.5 L992.0,601.5 L994.0,601.5 L996.0,601.5 L998.0,601.5 L1000.0,601.5 L1002.0,601.5 L1004.0,601.5 L1006.0,601.5 L1008.0,601.4 L1010.0,601.4 L1012.0,601.4 L1014.0,601.4 L1016.0,601.4 L1018.0,601.4 L1020.0,601.4 L1022.0,601.4 L1024.0,601.4 L1026.0,601.4 L1028.0,601.3 L1030.0,601.3 L1032.0,601.3 L1034.0,601.3 L1036.0,601.3 L1038.0,601.3 L1040.0,601.3 L1042.0,601.3 L1044.0,601.3 L1046.0,601.2 L1048.0,601.2 L1050.0,601.2 L1052.0,601.2 L1054.0,601.2 L1056.0,601.2 L1058.0,601.2 L1060.0,601.2 L1062.0,601.2 L1064.0,601.1 L1066.0,601.1 L1068.0,601.1 L1070.0,601.1 L1072.0,601.1 L1074.0,601.1 L1076.0,601.1 L1078.0,601.1 L1080.0,601.1 L1082.0,601.0 L1084.0,601.0 L1086.0,601.0 L1088.0,601.0 L1090.0,601.0" stroke="#f00" stroke-width="4.6"/>
<path d="M178.0,602.4 L180.0,602.4 L182.0,602.4 L184.0,602.4 L186.0,602.4 L188.0,602.4 L190.0,602.4 L192.0,602.4 L194.0,602.4 L196.0,602.3 L198.0,602.3 L200.0,602.3 L202.0,602.3 L204.0,602.3 L206.0,602.2 L208.0,602.2 L210.0,602.2 L212.0,602.2 L214.0,602.1 L216.0,602.1 L218.0,602.1 L220.0,602.0 L222.0,602.0 L224.0,601.9 L226.0,601.9 L228.0,601.8 L230.0,601.7 L232.0,601.7 L234.0,601.6 L236.0,601.5 L238.0,601.4 L240.0,601.3 L242.0,601.2 L244.0,601.1 L246.0,601.0 L248.0,600.9 L250.0,600.8 L252.0,600.6 L254.0,600.5 L256.0,600.3 L258.0,600.2 L260.0,600.0 L262.0,599.8 L264.0,599.6 L266.0,599.4 L268.0,599.2 L270.0,598.9 L272.0,598.7 L274.0,598.4 L276.0,598.1 L278.0,597.8 L280.0,597.5 L282.0,597.2 L284.0,596.9 L286.0,596.5 L288.0,596.2 L290.0,595.8 L292.0,595.4 L294.0,594.9 L296.0,594.5 L298.0,594.0 L300.0,593.5 L302.0,593.0 L304.0,592.5 L306.0,591.9 L308.0,591.3 L310.0,590.7 L312.0,590.1 L314.0,589.5 L316.0,588.8 L318.0,588.1 L320.0,587.4 L322.0,586.6 L324.0,585.8 L326.0,585.0 L328.0,584.2 L330.0,583.3 L332.0,582.5 L334.0,581.6 L336.0,580.6 L338.0,579.7 L340.0,578.7 L342.0,577.7 L344.0,576.6 L346.0,575.6 L348.0,574.5 L350.0,573.4 L352.0,572.3 L354.0,571.1 L356.0,569.9 L358.0,568.7 L360.0,567.5 L362.0,566.3 L364.0,565.0 L366.0,563.7 L368.0,562.4 L370.0,561.1 L372.0,559.8 L374.0,558.4 L376.0,557.1 L378.0,555.7 L380.0,554.3 L382.0,552.9 L384.0,551.5 L386.0,550.1 L388.0,548.7 L390.0,547.3 L392.0,545.9 L394.0,544.5 L396.0,543.1 L398.0,541.7 L400.0,540.4 L402.0,539.0 L404.0,537.6 L406.0,536.3 L408.0,534.9 L410.0,533.6 L412.0,532.3 L414.0,531.1 L416.0,529.8 L418.0,528.6 L420.0,527.4 L422.0,526.2 L424.0,525.1 L426.0,524.0 L428.0,522.9 L430.0,521.9 L432.0,520.9 L434.0,520.0 L436.0,519.1 L438.0,518.2 L440.0,517.4 L442.0,516.6 L444.0,515.9 L446.0,515.2 L448.0,514.6 L450.0,514.1 L452.0,513.6 L454.0,513.1 L456.0,512.7 L458.0,512.4 L460.0,512.1 L462.0,511.9 L464.0,511.7 L466.0,511.6 L468.0,511.5 L470.0,511.5 L472.0,511.6 L474.0,511.7 L476.0,511.9 L478.0,512.2 L480.0,512.4 L482.0,512.8 L484.0,513.2 L486.0,513.7 L488.0,514.2 L490.0,514.8 L492.0,515.4 L494.0,516.1 L496.0,516.8 L498.0,517.6 L500.0,518.4 L502.0,519.3 L504.0,520.2 L506.0,521.2 L508.0,522.2 L510.0,523.2 L512.0,524.3 L514.0,525.4 L516.0,526.6 L518.0,527.7 L520.0,529.0 L522.0,530.2 L524.0,531.5 L526.0,532.7 L528.0,534.1 L530.0,535.4 L532.0,536.7 L534.0,538.1 L536.0,539.5 L538.0,540.8 L540.0,542.2 L542.0,543.6 L544.0,545.1 L546.0,546.5 L548.0,547.9 L550.0,549.3 L552.0,550.7 L554.0,552.1 L556.0,553.5 L558.0,554.9 L560.0,556.3 L562.0,557.7 L564.0,559.1 L566.0,560.4 L568.0,561.8 L570.0,563.1 L572.0,564.4 L574.0,565.7 L576.0,567.0 L578.0,568.2 L580.0,569.5 L582.0,570.7 L584.0,571.9 L586.0,573.0 L588.0,574.2 L590.0,575.3 L592.0,576.4 L594.0,577.5 L596.0,578.5 L598.0,579.5 L600.0,580.5 L602.0,581.5 L604.0,582.4 L606.0,583.3 L608.0,584.2 L610.0,585.1 L612.0,585.9 L614.0,586.8 L616.0,587.5 L618.0,588.3 L620.0,589.0 L622.0,589.7 L624.0,590.4 L626.0,591.1 L628.0,591.7 L630.0,592.3 L632.0,592.9 L634.0,593.5 L636.0,594.0 L638.0,594.6 L640.0,595.1 L642.0,595.5 L644.0,596.0 L646.0,596.4 L648.0,596.9 L650.0,597.3 L652.0,597.7 L654.0,598.0 L656.0,598.4 L658.0,598.7 L660.0,599.0 L662.0,599.3 L664.0,599.6 L666.0,599.9 L668.0,600.1 L670.0,600.4 L672.0,600.6 L674.0,600.8 L676.0,601.1 L678.0,601.3 L680.0,601.4 L682.0,601.6 L684.0,601.8 L686.0,601.9 L688.0,602.1 L690.0,602.2 L692.0,602.4 L694.0,602.5 L696.0,602.6 L698.0,602.7 L700.0,602.8 L702.0,602.9 L704.0,603.0 L706.0,603.1 L708.0,603.2 L710.0,603.3 L712.0,603.3 L714.0,603.4 L716.0,603.5 L718.0,603.5 L720.0,603.6 L722.0,603.6 L724.0,603.7 L726.0,603.7 L728.0,603.8 L730.0,603.8 L732.0,603.8 L734.0,603.9 L736.0,603.9 L738.0,603.9 L740.0,604.0 L742.0,604.0 L744.0,604.0 L746.0,604.1 L748.0,604.1 L750.0,604.1 L752.0,604.1 L754.0,604.1 L756.0,604.2 L758.0,604.2 L760.0,604.2 L762.0,604.2 L764.0,604.2 L766.0,604.2 L768.0,604.2 L770.0,604.3 L772.0,604.3 L774.0,604.3 L776.0,604.3 L778.0,604.3 L780.0,604.3 L782.0,604.3 L784.0,604.3 L786.0,604.3 L788.0,604.4 L790.0,604.4 L792.0,604.4 L794.0,604.4 L796.0,604.4 L798.0,604.4 L800.0,604.4 L802.0,604.4 L804.0,604.4 L806.0,604.4 L808.0,604.4 L810.0,604.4 L812.0,604.4 L814.0,604.5 L816.0,604.5 L818.0,604.5 L820.0,604.5 L822.0,604.5 L824.0,604.5 L826.0,604.5 L828.0,604.5 L830.0,604.5 L832.0,604.5 L834.0,604.5 L836.0,604.5 L838.0,604.5 L840.0,604.5 L842.0,604.5 L844.0,604.5 L846.0,604.6 L848.0,604.6 L850.0,604.6 L852.0,604.6 L854.0,604.6 L856.0,604.6 L858.0,604.6 L860.0,604.6 L862.0,604.6 L864.0,604.6 L866.0,604.6 L868.0,604.6 L870.0,604.6 L872.0,604.6 L874.0,604.6 L876.0,604.6 L878.0,604.7 L880.0,604.7 L882.0,604.7 L884.0,604.7 L886.0,604.7 L888.0,604.7 L890.0,604.7 L892.0,604.7 L894.0,604.7 L896.0,604.7 L898.0,604.7 L900.0,604.7 L902.0,604.7 L904.0,604.7 L906.0,604.7 L908.0,604.7 L910.0,604.8 L912.0,604.8 L914.0,604.8 L916.0,604.8 L918.0,604.8 L920.0,604.8 L922.0,604.8 L924.0,604.8 L926.0,604.8 L928.0,604.8 L930.0,604.8 L932.0,604.8 L934.0,604.8 L936.0,604.8 L938.0,604.8 L940.0,604.8 L942.0,604.8 L944.0,604.9 L946.0,604.9 L948.0,604.9 L950.0,604.9 L952.0,604.9 L954.0,604.9 L956.0,604.9 L958.0,604.9 L960.0,604.9 L962.0,604.9 L964.0,604.9 L966.0,604.9 L968.0,604.9 L970.0,604.9 L972.0,604.9 L974.0,604.9 L976.0,605.0 L978.0,605.0 L980.0,605.0 L982.0,605.0 L984.0,605.0 L986.0,605.0 L988.0,605.0 L990.0,605.0 L992.0,605.0 L994.0,605.0 L996.0,605.0 L998.0,605.0 L1000.0,605.0 L1002.0,605.0 L1004.0,605.0 L1006.0,605.0 L1008.0,605.0 L1010.0,605.1 L1012.0,605.1 L1014.0,605.1 L1016.0,605.1 L1018.0,605.1 L1020.0,605.1 L1022.0,605.1 L1024.0,605.1 L1026.0,605.1 L1028.0,605.1 L1030.0,605.1 L1032.0,605.1 L1034.0,605.1 L1036.0,605.1 L1038.0,605.1 L1040.0,605.1 L1042.0,605.2 L1044.0,605.2 L1046.0,605.2 L1048.0,605.2 L1050.0,605.2 L1052.0,605.2 L1054.0,605.2 L1056.0,605.2 L1058.0,605.2 L1060.0,605.2 L1062.0,605.2 L1064.0,605.2 L1066.0,605.2 L1068.0,605.2 L1070.0,605.2 L1072.0,605.2 L1074.0,605.2 L1076.0,605.3 L1078.0,605.3 L1080.0,605.3 L1082.0,605.3 L1084.0,605.3 L1086.0,605.3 L1088.0,605.3 L1090.0,605.3" stroke="#00f" stroke-width="4.6"/>
<path d="M168.0,792.9 L197.7,794.9 L237.2,793.9 L266.9,791.6 L296.6,789.0 L316.3,787.0 L326.2,775.1 L346.0,768.2 L365.8,757.3 L385.6,746.5 L405.3,733.6 L425.1,718.8 L440.9,703.0 L460.7,691.1 L474.5,684.2 L494.3,675.3 L514.1,668.3 L524.0,663.4 L537.8,653.5 L551.7,649.6 L563.5,648.6 L573.4,642.6 L587.3,634.7 L603.1,633.7 L611.0,630.8 L629.0,634.7 L658.7,640.7 L678.4,657.5 L698.2,675.3 L712.1,691.1 L720.0,714.8 L731.8,726.7 L747.7,741.5 L773.4,754.4 L807.0,768.2 L826.8,771.2 L846.6,776.1 L866.3,780.1 L886.1,786.0 L915.8,790.0 L935.5,794.9 L985.0,794.9 L1024.5,792.9 L1064.1,789.0 L1091.0,786.0" stroke="#000"/>
<path d="M168.0,793.1 L170.0,793.1 L172.0,793.1 L174.0,793.1 L176.0,793.1 L178.0,793.1 L180.0,793.1 L182.0,793.1 L184.0,793.1 L186.0,793.0 L188.0,793.0 L190.0,793.0 L192.0,793.0 L194.0,793.0 L196.0,793.0 L198.0,793.0 L200.0,793.0 L202.0,793.0 L204.0,793.0 L206.0,793.0 L208.0,793.0 L210.0,793.0 L212.0,793.0 L214.0,793.0 L216.0,793.0 L218.0,793.0 L220.0,793.0 L222.0,792.9 L224.0,792.9 L226.0,792.9 L228.0,792.9 L230.0,792.9 L232.0,792.9 L234.0,792.9 L236.0,792.9 L238.0,792.9 L240.0,792.9 L242.0,792.9 L244.0,792.9 L246.0,792.9 L248.0,792.9 L250.0,792.9 L252.0,792.9 L254.0,792.9 L256.0,792.9 L258.0,792.8 L260.0,792.8 L262.0,792.8 L264.0,792.8 L266.0,792.8 L268.0,792.8 L270.0,792.8 L272.0,792.8 L274.0,792.8 L276.0,792.8 L278.0,792.8 L280.0,792.8 L282.0,792.8 L284.0,792.8 L286.0,792.8 L288.0,792.8 L290.0,792.7 L292.0,792.7 L294.0,792.7 L296.0,792.7 L298.0,792.7 L300.0,792.7 L302.0,792.7 L304.0,792.7 L306.0,792.7 L308.0,792.7 L310.0,792.7 L312.0,792.7 L314.0,792.7 L316.0,792.6 L318.0,792.6 L320.0,792.6 L322.0,792.6 L324.0,792.6 L326.0,792.6 L328.0,792.6 L330.0,792.6 L332.0,792.6 L334.0,792.5 L336.0,792.5 L338.0,792.5 L340.0,792.5 L342.0,792.5 L344.0,792.5 L346.0,792.4 L348.0,792.4 L350.0,792.4 L352.0,792.4 L354.0,792.4 L356.0,792.3 L358.0,792.3 L360.0,792.3 L362.0,792.2 L364.0,792.2 L366.0,792.2 L368.0,792.1 L370.0,792.1 L372.0,792.0 L374.0,792.0 L376.0,791.9 L378.0,791.9 L380.0,791.8 L382.0,791.8 L384.0,791.7 L386.0,791.6 L388.0,791.5 L390.0,791.5 L392.0,791.4 L394.0,791.3 L396.0,791.2 L398.0,791.1 L400.0,791.0 L402.0,790.8 L404.0,790.7 L406.0,790.6 L408.0,790.4 L410.0,790.3 L412.0,790.1 L414.0,789.9 L416.0,789.7 L418.0,789.5 L420.0,789.3 L422.0,789.1 L424.0,788.8 L426.0,788.6 L428.0,788.3 L430.0,788.0 L432.0,787.7 L434.0,787.4 L436.0,787.1 L438.0,786.7 L440.0,786.3 L442.0,785.9 L444.0,785.5 L446.0,785.1 L448.0,784.6 L450.0,784.1 L452.0,783.6 L454.0,783.1 L456.0,782.5 L458.0,781.9 L460.0,781.3 L462.0,780.7 L464.0,780.0 L466.0,779.3 L468.0,778.6 L470.0,777.8 L472.0,777.0 L474.0,776.2 L476.0,775.3 L478.0,774.4 L480.0,773.5 L482.0,772.5 L484.0,771.5 L486.0,770.4 L488.0,769.3 L490.0,768.2 L492.0,767.1 L494.0,765.9 L496.0,764.6 L498.0,763.3 L500.0,762.0 L502.0,760.7 L504.0,759.3 L506.0,757.8 L508.0,756.4 L510.0,754.8 L512.0,753.3 L514.0,751.7 L516.0,750.1 L518.0,748.4 L520.0,746.7 L522.0,744.9 L524.0,743.1 L526.0,741.3 L528.0,739.5 L530.0,737.6 L532.0,735.7 L534.0,733.8 L536.0,731.8 L538.0,729.8 L540.0,727.8 L542.0,725.7 L544.0,723.7 L546.0,721.6 L548.0,719.5 L550.0,717.4 L552.0,715.2 L554.0,713.1 L556.0,710.9 L558.0,708.8 L560.0,706.6 L562.0,704.5 L564.0,702.3 L566.0,700.2 L568.0,698.0 L570.0,695.9 L572.0,693.8 L574.0,691.7 L576.0,689.6 L578.0,687.6 L580.0,685.6 L582.0,683.6 L584.0,681.6 L586.0,679.7 L588.0,677.8 L590.0,675.9 L592.0,674.1 L594.0,672.4 L596.0,670.7 L598.0,669.0 L600.0,667.5 L602.0,665.9 L604.0,664.5 L606.0,663.1 L608.0,661.7 L610.0,660.5 L612.0,659.3 L614.0,658.1 L616.0,657.1 L618.0,656.1 L620.0,655.2 L622.0,654.4 L624.0,653.7 L626.0,653.1 L628.0,652.5 L630.0,652.1 L632.0,651.7 L634.0,651.4 L636.0,651.2 L638.0,651.1 L640.0,651.1 L642.0,651.1 L644.0,651.3 L646.0,651.5 L648.0,651.9 L650.0,652.3 L652.0,652.8 L654.0,653.4 L656.0,654.1 L658.0,654.8 L660.0,655.7 L662.0,656.6 L664.0,657.6 L666.0,658.7 L668.0,659.8 L670.0,661.1 L672.0,662.4 L674.0,663.7 L676.0,665.2 L678.0,666.7 L680.0,668.2 L682.0,669.8 L684.0,671.5 L686.0,673.2 L688.0,675.0 L690.0,676.8 L692.0,678.7 L694.0,680.6 L696.0,682.5 L698.0,684.5 L700.0,686.5 L702.0,688.5 L704.0,690.6 L706.0,692.7 L708.0,694.8 L710.0,696.9 L712.0,699.0 L714.0,701.1 L716.0,703.3 L718.0,705.4 L720.0,707.5 L722.0,709.7 L724.0,711.8 L726.0,714.0 L728.0,716.1 L730.0,718.2 L732.0,720.3 L734.0,722.4 L736.0,724.4 L738.0,726.5 L740.0,728.5 L742.0,730.5 L744.0,732.5 L746.0,734.4 L748.0,736.3 L750.0,738.2 L752.0,740.0 L754.0,741.8 L756.0,743.6 L758.0,745.4 L760.0,747.1 L762.0,748.8 L764.0,750.4 L766.0,752.0 L768.0,753.6 L770.0,755.1 L772.0,756.6 L774.0,758.0 L776.0,759.4 L778.0,760.8 L780.0,762.1 L782.0,763.4 L784.0,764.6 L786.0,765.8 L788.0,767.0 L790.0,768.1 L792.0,769.2 L794.0,770.2 L796.0,771.2 L798.0,772.2 L800.0,773.2 L802.0,774.1 L804.0,774.9 L806.0,775.8 L808.0,776.6 L810.0,777.3 L812.0,778.1 L814.0,778.8 L816.0,779.4 L818.0,780.1 L820.0,780.7 L822.0,781.3 L824.0,781.8 L826.0,782.4 L828.0,782.9 L830.0,783.4 L832.0,783.8 L834.0,784.3 L836.0,784.7 L838.0,785.1 L840.0,785.4 L842.0,785.8 L844.0,786.1 L846.0,786.4 L848.0,786.7 L850.0,787.0 L852.0,787.3 L854.0,787.5 L856.0,787.8 L858.0,788.0 L860.0,788.2 L862.0,788.4 L864.0,788.6 L866.0,788.7 L868.0,788.9 L870.0,789.1 L872.0,789.2 L874.0,789.3 L876.0,789.5 L878.0,789.6 L880.0,789.7 L882.0,789.8 L884.0,789.9 L886.0,789.9 L888.0,790.0 L890.0,790.1 L892.0,790.2 L894.0,790.2 L896.0,790.3 L898.0,790.3 L900.0,790.4 L902.0,790.4 L904.0,790.5 L906.0,790.5 L908.0,790.6 L910.0,790.6 L912.0,790.6 L914.0,790.6 L916.0,790.7 L918.0,790.7 L920.0,790.7 L922.0,790.7 L924.0,790.7 L926.0,790.8 L928.0,790.8 L930.0,790.8 L932.0,790.8 L934.0,790.8 L936.0,790.8 L938.0,790.8 L940.0,790.8 L942.0,790.8 L944.0,790.8 L946.0,790.8 L948.0,790.8 L950.0,790.8 L952.0,790.8 L954.0,790.8 L956.0,790.8 L958.0,790.8 L960.0,790.8 L962.0,790.8 L964.0,790.8 L966.0,790.8 L968.0,790.8 L970.0,790.8 L972.0,790.8 L974.0,790.8 L976.0,790.8 L978.0,790.8 L980.0,790.8 L982.0,790.8 L984.0,790.8 L986.0,790.8 L988.0,790.8 L990.0,790.8 L992.0,790.8 L994.0,790.8 L996.0,790.8 L998.0,790.8 L1000.0,790.8 L1002.0,790.7 L1004.0,790.7 L1006.0,790.7 L1008.0,790.7 L1010.0,790.7 L1012.0,790.7 L1014.0,790.7 L1016.0,790.7 L1018.0,790.7 L1020.0,790.7 L1022.0,790.7 L1024.0,790.7 L1026.0,790.7 L1028.0,790.7 L1030.0,790.7 L1032.0,790.7 L1034.0,790.7 L1036.0,790.7 L1038.0,790.6 L1040.0,790.6 L1042.0,790.6 L1044.0,790.6 L1046.0,790.6 L1048.0,790.6 L1050.0,790.6 L1052.0,790.6 L1054.0,790.6 L1056.0,790.6 L1058.0,790.6 L1060.0,790.6 L1062.0,790.6 L1064.0,790.6 L1066.0,790.6 L1068.0,790.6 L1070.0,790.6 L1072.0,790.6 L1074.0,790.5 L1076.0,790.5 L1078.0,790.5 L1080.0,790.5 L1082.0,790.5 L1084.0,790.5 L1086.0,790.5 L1088.0,790.5 L1090.0,790.5" stroke="#f00" stroke-width="4.6"/>
<path d="M168.0,791.5 L170.0,791.5 L172.0,791.5 L174.0,791.5 L176.0,791.5 L178.0,791.5 L180.0,791.5 L182.0,791.5 L184.0,791.5 L186.0,791.5 L188.0,791.5 L190.0,791.5 L192.0,791.5 L194.0,791.5 L196.0,791.5 L198.0,791.4 L200.0,791.4 L202.0,791.4 L204.0,791.4 L206.0,791.4 L208.0,791.3 L210.0,791.3 L212.0,791.3 L214.0,791.3 L216.0,791.2 L218.0,791.2 L220.0,791.2 L222.0,791.1 L224.0,791.1 L226.0,791.1 L228.0,791.0 L230.0,791.0 L232.0,790.9 L234.0,790.8 L236.0,790.8 L238.0,790.7 L240.0,790.6 L242.0,790.6 L244.0,790.5 L246.0,790.4 L248.0,790.3 L250.0,790.2 L252.0,790.1 L254.0,790.0 L256.0,789.9 L258.0,789.7 L260.0,789.6 L262.0,789.5 L264.0,789.3 L266.0,789.2 L268.0,789.0 L270.0,788.8 L272.0,788.6 L274.0,788.4 L276.0,788.2 L278.0,788.0 L280.0,787.7 L282.0,787.5 L284.0,787.2 L286.0,787.0 L288.0,786.7 L290.0,786.4 L292.0,786.1 L294.0,785.7 L296.0,785.4 L298.0,785.0 L300.0,784.6 L302.0,784.2 L304.0,783.8 L306.0,783.4 L308.0,782.9 L310.0,782.5 L312.0,782.0 L314.0,781.5 L316.0,780.9 L318.0,780.4 L320.0,779.8 L322.0,779.2 L324.0,778.6 L326.0,777.9 L328.0,777.3 L330.0,776.6 L332.0,775.9 L334.0,775.1 L336.0,774.4 L338.0,773.6 L340.0,772.8 L342.0,772.0 L344.0,771.1 L346.0,770.2 L348.0,769.3 L350.0,768.4 L352.0,767.5 L354.0,766.5 L356.0,765.5 L358.0,764.5 L360.0,763.5 L362.0,762.4 L364.0,761.3 L366.0,760.2 L368.0,759.1 L370.0,757.9 L372.0,756.8 L374.0,755.6 L376.0,754.4 L378.0,753.2 L380.0,751.9 L382.0,750.7 L384.0,749.4 L386.0,748.2 L388.0,746.9 L390.0,745.6 L392.0,744.3 L394.0,743.0 L396.0,741.6 L398.0,740.3 L400.0,739.0 L402.0,737.7 L404.0,736.3 L406.0,735.0 L408.0,733.7 L410.0,732.4 L412.0,731.1 L414.0,729.8 L416.0,728.5 L418.0,727.2 L420.0,725.9 L422.0,724.6 L424.0,723.4 L426.0,722.2 L428.0,721.0 L430.0,719.8 L432.0,718.7 L434.0,717.5 L436.0,716.4 L438.0,715.4 L440.0,714.3 L442.0,713.3 L444.0,712.4 L446.0,711.4 L448.0,710.5 L450.0,709.7 L452.0,708.8 L454.0,708.1 L456.0,707.3 L458.0,706.7 L460.0,706.0 L462.0,705.4 L464.0,704.9 L466.0,704.4 L468.0,703.9 L470.0,703.5 L472.0,703.2 L474.0,702.9 L476.0,702.6 L478.0,702.4 L480.0,702.3 L482.0,702.2 L484.0,702.2 L486.0,702.2 L488.0,702.3 L490.0,702.4 L492.0,702.6 L494.0,702.8 L496.0,703.1 L498.0,703.5 L500.0,703.9 L502.0,704.3 L504.0,704.8 L506.0,705.4 L508.0,705.9 L510.0,706.6 L512.0,707.3 L514.0,708.0 L516.0,708.8 L518.0,709.6 L520.0,710.4 L522.0,711.3 L524.0,712.3 L526.0,713.2 L528.0,714.2 L530.0,715.3 L532.0,716.3 L534.0,717.4 L536.0,718.6 L538.0,719.7 L540.0,720.9 L542.0,722.1 L544.0,723.3 L546.0,724.5 L548.0,725.8 L550.0,727.1 L552.0,728.4 L554.0,729.7 L556.0,731.0 L558.0,732.3 L560.0,733.6 L562.0,734.9 L564.0,736.3 L566.0,737.6 L568.0,738.9 L570.0,740.3 L572.0,741.6 L574.0,742.9 L576.0,744.2 L578.0,745.5 L580.0,746.8 L582.0,748.1 L584.0,749.4 L586.0,750.7 L588.0,751.9 L590.0,753.2 L592.0,754.4 L594.0,755.6 L596.0,756.8 L598.0,758.0 L600.0,759.1 L602.0,760.3 L604.0,761.4 L606.0,762.5 L608.0,763.5 L610.0,764.6 L612.0,765.6 L614.0,766.6 L616.0,767.6 L618.0,768.6 L620.0,769.5 L622.0,770.4 L624.0,771.3 L626.0,772.2 L628.0,773.0 L630.0,773.8 L632.0,774.6 L634.0,775.4 L636.0,776.1 L638.0,776.8 L640.0,777.5 L642.0,778.2 L644.0,778.9 L646.0,779.5 L648.0,780.1 L650.0,780.7 L652.0,781.2 L654.0,781.8 L656.0,782.3 L658.0,782.8 L660.0,783.3 L662.0,783.8 L664.0,784.2 L666.0,784.6 L668.0,785.0 L670.0,785.4 L672.0,785.8 L674.0,786.1 L676.0,786.5 L678.0,786.8 L680.0,787.1 L682.0,787.4 L684.0,787.7 L686.0,788.0 L688.0,788.2 L690.0,788.5 L692.0,788.7 L694.0,788.9 L696.0,789.1 L698.0,789.3 L700.0,789.5 L702.0,789.7 L704.0,789.9 L706.0,790.0 L708.0,790.2 L710.0,790.3 L712.0,790.4 L714.0,790.6 L716.0,790.7 L718.0,790.8 L720.0,790.9 L722.0,791.0 L724.0,791.1 L726.0,791.2 L728.0,791.3 L730.0,791.3 L732.0,791.4 L734.0,791.5 L736.0,791.5 L738.0,791.6 L740.0,791.7 L742.0,791.7 L744.0,791.8 L746.0,791.8 L748.0,791.9 L750.0,791.9 L752.0,791.9 L754.0,792.0 L756.0,792.0 L758.0,792.0 L760.0,792.1 L762.0,792.1 L764.0,792.1 L766.0,792.1 L768.0,792.2 L770.0,792.2 L772.0,792.2 L774.0,792.2 L776.0,792.2 L778.0,792.2 L780.0,792.3 L782.0,792.3 L784.0,792.3 L786.0,792.3 L788.0,792.3 L790.0,792.3 L792.0,792.3 L794.0,792.3 L796.0,792.4 L798.0,792.4 L800.0,792.4 L802.0,792.4 L804.0,792.4 L806.0,792.4 L808.0,792.4 L810.0,792.4 L812.0,792.4 L814.0,792.4 L816.0,792.4 L818.0,792.4 L820.0,792.4 L822.0,792.4 L824.0,792.4 L826.0,792.4 L828.0,792.4 L830.0,792.4 L832.0,792.5 L834.0,792.5 L836.0,792.5 L838.0,792.5 L840.0,792.5 L842.0,792.5 L844.0,792.5 L846.0,792.5 L848.0,792.5 L850.0,792.5 L852.0,792.5 L854.0,792.5 L856.0,792.5 L858.0,792.5 L860.0,792.5 L862.0,792.5 L864.0,792.5 L866.0,792.5 L868.0,792.5 L870.0,792.5 L872.0,792.5 L874.0,792.5 L876.0,792.5 L878.0,792.5 L880.0,792.5 L882.0,792.5 L884.0,792.5 L886.0,792.5 L888.0,792.5 L890.0,792.5 L892.0,792.5 L894.0,792.5 L896.0,792.5 L898.0,792.5 L900.0,792.6 L902.0,792.6 L904.0,792.6 L906.0,792.6 L908.0,792.6 L910.0,792.6 L912.0,792.6 L914.0,792.6 L916.0,792.6 L918.0,792.6 L920.0,792.6 L922.0,792.6 L924.0,792.6 L926.0,792.6 L928.0,792.6 L930.0,792.6 L932.0,792.6 L934.0,792.6 L936.0,792.6 L938.0,792.6 L940.0,792.6 L942.0,792.6 L944.0,792.6 L946.0,792.6 L948.0,792.6 L950.0,792.6 L952.0,792.6 L954.0,792.6 L956.0,792.6 L958.0,792.6 L960.0,792.6 L962.0,792.6 L964.0,792.6 L966.0,792.6 L968.0,792.6 L970.0,792.6 L972.0,792.6 L974.0,792.6 L976.0,792.7 L978.0,792.7 L980.0,792.7 L982.0,792.7 L984.0,792.7 L986.0,792.7 L988.0,792.7 L990.0,792.7 L992.0,792.7 L994.0,792.7 L996.0,792.7 L998.0,792.7 L1000.0,792.7 L1002.0,792.7 L1004.0,792.7 L1006.0,792.7 L1008.0,792.7 L1010.0,792.7 L1012.0,792.7 L1014.0,792.7 L1016.0,792.7 L1018.0,792.7 L1020.0,792.7 L1022.0,792.7 L1024.0,792.7 L1026.0,792.7 L1028.0,792.7 L1030.0,792.7 L1032.0,792.7 L1034.0,792.7 L1036.0,792.7 L1038.0,792.7 L1040.0,792.7 L1042.0,792.7 L1044.0,792.7 L1046.0,792.7 L1048.0,792.7 L1050.0,792.7 L1052.0,792.7 L1054.0,792.8 L1056.0,792.8 L1058.0,792.8 L1060.0,792.8 L1062.0,792.8 L1064.0,792.8 L1066.0,792.8 L1068.0,792.8 L1070.0,792.8 L1072.0,792.8 L1074.0,792.8 L1076.0,792.8 L1078.0,792.8 L1080.0,792.8 L1082.0,792.8 L1084.0,792.8 L1086.0,792.8 L1088.0,792.8 L1090.0,792.8" stroke="#00f" stroke-width="4.6"/>
<path d="M168.0,980.9 L227.3,981.9 L266.9,979.9 L302.5,976.0 L326.2,969.0 L346.0,961.1 L365.8,949.3 L375.7,935.4 L395.4,920.6 L415.2,899.8 L435.0,888.0 L454.8,871.1 L476.5,853.3 L494.3,849.4 L514.1,839.5 L524.0,839.5 L539.8,834.6 L561.6,823.7 L573.4,824.7 L593.2,815.8 L611.0,810.8 L622.9,815.8 L629.0,815.8 L652.7,826.6 L668.6,838.5 L688.3,860.3 L708.1,882.0 L727.9,905.8 L747.7,921.6 L763.5,937.4 L771.4,951.2 L797.1,959.2 L826.8,964.1 L846.6,968.1 L876.2,973.0 L905.9,977.0 L925.7,981.9 L985.0,981.9 L1024.5,977.0 L1054.2,975.0 L1091.0,974.0" stroke="#000"/>
<path d="M168.0,982.0 L170.0,982.0 L172.0,982.0 L174.0,982.0 L176.0,982.0 L178.0,982.0 L180.0,981.9 L182.0,981.9 L184.0,981.9 L186.0,981.9 L188.0,981.9 L190.0,981.9 L192.0,981.9 L194.0,981.9 L196.0,981.9 L198.0,981.9 L200.0,981.9 L202.0,981.8 L204.0,981.8 L206.0,981.8 L208.0,981.8 L210.0,981.8 L212.0,981.8 L214.0,981.8 L216.0,981.8 L218.0,981.8 L220.0,981.8 L222.0,981.8 L224.0,981.7 L226.0,981.7 L228.0,981.7 L230.0,981.7 L232.0,981.7 L234.0,981.7 L236.0,981.7 L238.0,981.7 L240.0,981.7 L242.0,981.7 L244.0,981.7 L246.0,981.6 L248.0,981.6 L250.0,981.6 L252.0,981.6 L254.0,981.6 L256.0,981.6 L258.0,981.6 L260.0,981.6 L262.0,981.6 L264.0,981.6 L266.0,981.6 L268.0,981.5 L270.0,981.5 L272.0,981.5 L274.0,981.5 L276.0,981.5 L278.0,981.5 L280.0,981.5 L282.0,981.5 L284.0,981.5 L286.0,981.5 L288.0,981.4 L290.0,981.4 L292.0,981.4 L294.0,981.4 L296.0,981.4 L298.0,981.4 L300.0,981.4 L302.0,981.4 L304.0,981.4 L306.0,981.4 L308.0,981.3 L310.0,981.3 L312.0,981.3 L314.0,981.3 L316.0,981.3 L318.0,981.3 L320.0,981.3 L322.0,981.3 L324.0,981.2 L326.0,981.2 L328.0,981.2 L330.0,981.2 L332.0,981.2 L334.0,981.2 L336.0,981.2 L338.0,981.1 L340.0,981.1 L342.0,981.1 L344.0,981.1 L346.0,981.1 L348.0,981.0 L350.0,981.0 L352.0,981.0 L354.0,981.0 L356.0,980.9 L358.0,980.9 L360.0,980.9 L362.0,980.8 L364.0,980.8 L366.0,980.8 L368.0,980.7 L370.0,980.7 L372.0,980.6 L374.0,980.6 L376.0,980.5 L378.0,980.5 L380.0,980.4 L382.0,980.3 L384.0,980.3 L386.0,980.2 L388.0,980.1 L390.0,980.0 L392.0,979.9 L394.0,979.9 L396.0,979.7 L398.0,979.6 L400.0,979.5 L402.0,979.4 L404.0,979.3 L406.0,979.1 L408.0,979.0 L410.0,978.8 L412.0,978.7 L414.0,978.5 L416.0,978.3 L418.0,978.1 L420.0,977.9 L422.0,977.6 L424.0,977.4 L426.0,977.1 L428.0,976.9 L430.0,976.6 L432.0,976.3 L434.0,975.9 L436.0,975.6 L438.0,975.2 L440.0,974.8 L442.0,974.4 L444.0,974.0 L446.0,973.6 L448.0,973.1 L450.0,972.6 L452.0,972.1 L454.0,971.5 L456.0,971.0 L458.0,970.4 L460.0,969.7 L462.0,969.1 L464.0,968.4 L466.0,967.6 L468.0,966.9 L470.0,966.1 L472.0,965.3 L474.0,964.4 L476.0,963.5 L478.0,962.6 L480.0,961.6 L482.0,960.6 L484.0,959.5 L486.0,958.5 L488.0,957.3 L490.0,956.2 L492.0,955.0 L494.0,953.7 L496.0,952.4 L498.0,951.1 L500.0,949.7 L502.0,948.3 L504.0,946.8 L506.0,945.3 L508.0,943.7 L510.0,942.2 L512.0,940.5 L514.0,938.8 L516.0,937.1 L518.0,935.4 L520.0,933.6 L522.0,931.7 L524.0,929.9 L526.0,928.0 L528.0,926.0 L530.0,924.0 L532.0,922.0 L534.0,920.0 L536.0,917.9 L538.0,915.8 L540.0,913.7 L542.0,911.5 L544.0,909.3 L546.0,907.1 L548.0,904.9 L550.0,902.7 L552.0,900.4 L554.0,898.2 L556.0,895.9 L558.0,893.6 L560.0,891.4 L562.0,889.1 L564.0,886.8 L566.0,884.5 L568.0,882.3 L570.0,880.1 L572.0,877.8 L574.0,875.6 L576.0,873.4 L578.0,871.3 L580.0,869.2 L582.0,867.1 L584.0,865.0 L586.0,863.0 L588.0,861.0 L590.0,859.1 L592.0,857.2 L594.0,855.4 L596.0,853.6 L598.0,851.9 L600.0,850.3 L602.0,848.7 L604.0,847.2 L606.0,845.7 L608.0,844.4 L610.0,843.1 L612.0,841.9 L614.0,840.7 L616.0,839.7 L618.0,838.7 L620.0,837.8 L622.0,837.0 L624.0,836.3 L626.0,835.7 L628.0,835.2 L630.0,834.8 L632.0,834.5 L634.0,834.2 L636.0,834.1 L638.0,834.0 L640.0,834.1 L642.0,834.2 L644.0,834.5 L646.0,834.8 L648.0,835.3 L650.0,835.8 L652.0,836.4 L654.0,837.1 L656.0,837.9 L658.0,838.8 L660.0,839.8 L662.0,840.8 L664.0,841.9 L666.0,843.2 L668.0,844.5 L670.0,845.8 L672.0,847.3 L674.0,848.8 L676.0,850.4 L678.0,852.0 L680.0,853.7 L682.0,855.5 L684.0,857.3 L686.0,859.2 L688.0,861.1 L690.0,863.1 L692.0,865.1 L694.0,867.1 L696.0,869.2 L698.0,871.3 L700.0,873.5 L702.0,875.6 L704.0,877.8 L706.0,880.0 L708.0,882.3 L710.0,884.5 L712.0,886.7 L714.0,889.0 L716.0,891.2 L718.0,893.5 L720.0,895.8 L722.0,898.0 L724.0,900.2 L726.0,902.5 L728.0,904.7 L730.0,906.9 L732.0,909.0 L734.0,911.2 L736.0,913.3 L738.0,915.4 L740.0,917.5 L742.0,919.6 L744.0,921.6 L746.0,923.6 L748.0,925.5 L750.0,927.5 L752.0,929.3 L754.0,931.2 L756.0,933.0 L758.0,934.8 L760.0,936.5 L762.0,938.2 L764.0,939.8 L766.0,941.4 L768.0,943.0 L770.0,944.5 L772.0,946.0 L774.0,947.4 L776.0,948.8 L778.0,950.2 L780.0,951.5 L782.0,952.7 L784.0,953.9 L786.0,955.1 L788.0,956.3 L790.0,957.4 L792.0,958.4 L794.0,959.4 L796.0,960.4 L798.0,961.4 L800.0,962.3 L802.0,963.1 L804.0,964.0 L806.0,964.8 L808.0,965.5 L810.0,966.3 L812.0,967.0 L814.0,967.6 L816.0,968.3 L818.0,968.9 L820.0,969.5 L822.0,970.0 L824.0,970.5 L826.0,971.0 L828.0,971.5 L830.0,971.9 L832.0,972.4 L834.0,972.8 L836.0,973.1 L838.0,973.5 L840.0,973.8 L842.0,974.2 L844.0,974.5 L846.0,974.7 L848.0,975.0 L850.0,975.3 L852.0,975.5 L854.0,975.7 L856.0,975.9 L858.0,976.1 L860.0,976.3 L862.0,976.5 L864.0,976.6 L866.0,976.8 L868.0,976.9 L870.0,977.1 L872.0,977.2 L874.0,977.3 L876.0,977.4 L878.0,977.5 L880.0,977.6 L882.0,977.7 L884.0,977.7 L886.0,977.8 L888.0,977.9 L890.0,977.9 L892.0,978.0 L894.0,978.0 L896.0,978.1 L898.0,978.1 L900.0,978.1 L902.0,978.2 L904.0,978.2 L906.0,978.2 L908.0,978.3 L910.0,978.3 L912.0,978.3 L914.0,978.3 L916.0,978.3 L918.0,978.4 L920.0,978.4 L922.0,978.4 L924.0,978.4 L926.0,978.4 L928.0,978.4 L930.0,978.4 L932.0,978.4 L934.0,978.4 L936.0,978.4 L938.0,978.4 L940.0,978.4 L942.0,978.4 L944.0,978.4 L946.0,978.4 L948.0,978.4 L950.0,978.4 L952.0,978.4 L954.0,978.4 L956.0,978.4 L958.0,978.4 L960.0,978.4 L962.0,978.4 L964.0,978.4 L966.0,978.3 L968.0,978.3 L970.0,978.3 L972.0,978.3 L974.0,978.3 L976.0,978.3 L978.0,978.3 L980.0,978.3 L982.0,978.3 L984.0,978.3 L986.0,978.3 L988.0,978.3 L990.0,978.3 L992.0,978.2 L994.0,978.2 L996.0,978.2 L998.0,978.2 L1000.0,978.2 L1002.0,978.2 L1004.0,978.2 L1006.0,978.2 L1008.0,978.2 L1010.0,978.2 L1012.0,978.2 L1014.0,978.1 L1016.0,978.1 L1018.0,978.1 L1020.0,978.1 L1022.0,978.1 L1024.0,978.1 L1026.0,978.1 L1028.0,978.1 L1030.0,978.1 L1032.0,978.1 L1034.0,978.1 L1036.0,978.0 L1038.0,978.0 L1040.0,978.0 L1042.0,978.0 L1044.0,978.0 L1046.0,978.0 L1048.0,978.0 L1050.0,978.0 L1052.0,978.0 L1054.0,978.0 L1056.0,978.0 L1058.0,978.0 L1060.0,977.9 L1062.0,977.9 L1064.0,977.9 L1066.0,977.9 L1068.0,977.9 L1070.0,977.9 L1072.0,977.9 L1074.0,977.9 L1076.0,977.9 L1078.0,977.9 L1080.0,977.9 L1082.0,977.8 L1084.0,977.8 L1086.0,977.8 L1088.0,977.8 L1090.0,977.8" stroke="#f00" stroke-width="4.6"/>
<path d="M168.0,979.5 L170.0,979.5 L172.0,979.5 L174.0,979.5 L176.0,979.5 L178.0,979.5 L180.0,979.5 L182.0,979.5 L184.0,979.5 L186.0,979.5 L188.0,979.5 L190.0,979.4 L192.0,979.4 L194.0,979.4 L196.0,979.4 L198.0,979.4 L200.0,979.4 L202.0,979.4 L204.0,979.4 L206.0,979.4 L208.0,979.4 L210.0,979.3 L212.0,979.3 L214.0,979.3 L216.0,979.3 L218.0,979.3 L220.0,979.2 L222.0,979.2 L224.0,979.2 L226.0,979.2 L228.0,979.1 L230.0,979.1 L232.0,979.0 L234.0,979.0 L236.0,978.9 L238.0,978.9 L240.0,978.8 L242.0,978.8 L244.0,978.7 L246.0,978.6 L248.0,978.6 L250.0,978.5 L252.0,978.4 L254.0,978.3 L256.0,978.2 L258.0,978.1 L260.0,978.0 L262.0,977.8 L264.0,977.7 L266.0,977.6 L268.0,977.4 L270.0,977.3 L272.0,977.1 L274.0,976.9 L276.0,976.7 L278.0,976.5 L280.0,976.3 L282.0,976.0 L284.0,975.8 L286.0,975.5 L288.0,975.2 L290.0,975.0 L292.0,974.6 L294.0,974.3 L296.0,974.0 L298.0,973.6 L300.0,973.2 L302.0,972.8 L304.0,972.4 L306.0,971.9 L308.0,971.5 L310.0,971.0 L312.0,970.4 L314.0,969.9 L316.0,969.3 L318.0,968.7 L320.0,968.1 L322.0,967.5 L324.0,966.8 L326.0,966.1 L328.0,965.4 L330.0,964.6 L332.0,963.8 L334.0,963.0 L336.0,962.1 L338.0,961.2 L340.0,960.3 L342.0,959.4 L344.0,958.4 L346.0,957.4 L348.0,956.3 L350.0,955.3 L352.0,954.1 L354.0,953.0 L356.0,951.8 L358.0,950.6 L360.0,949.4 L362.0,948.1 L364.0,946.8 L366.0,945.5 L368.0,944.1 L370.0,942.7 L372.0,941.3 L374.0,939.9 L376.0,938.4 L378.0,936.9 L380.0,935.4 L382.0,933.8 L384.0,932.3 L386.0,930.7 L388.0,929.1 L390.0,927.4 L392.0,925.8 L394.0,924.2 L396.0,922.5 L398.0,920.8 L400.0,919.1 L402.0,917.5 L404.0,915.8 L406.0,914.1 L408.0,912.4 L410.0,910.7 L412.0,909.0 L414.0,907.4 L416.0,905.7 L418.0,904.1 L420.0,902.4 L422.0,900.8 L424.0,899.3 L426.0,897.7 L428.0,896.2 L430.0,894.6 L432.0,893.2 L434.0,891.7 L436.0,890.3 L438.0,889.0 L440.0,887.6 L442.0,886.4 L444.0,885.1 L446.0,884.0 L448.0,882.8 L450.0,881.7 L452.0,880.7 L454.0,879.8 L456.0,878.9 L458.0,878.0 L460.0,877.2 L462.0,876.5 L464.0,875.9 L466.0,875.3 L468.0,874.8 L470.0,874.3 L472.0,874.0 L474.0,873.7 L476.0,873.4 L478.0,873.3 L480.0,873.2 L482.0,873.2 L484.0,873.3 L486.0,873.4 L488.0,873.6 L490.0,873.9 L492.0,874.2 L494.0,874.6 L496.0,875.1 L498.0,875.7 L500.0,876.3 L502.0,877.0 L504.0,877.8 L506.0,878.6 L508.0,879.5 L510.0,880.4 L512.0,881.4 L514.0,882.5 L516.0,883.6 L518.0,884.8 L520.0,886.0 L522.0,887.2 L524.0,888.5 L526.0,889.9 L528.0,891.3 L530.0,892.7 L532.0,894.2 L534.0,895.7 L536.0,897.2 L538.0,898.8 L540.0,900.4 L542.0,902.0 L544.0,903.6 L546.0,905.2 L548.0,906.9 L550.0,908.6 L552.0,910.2 L554.0,911.9 L556.0,913.6 L558.0,915.3 L560.0,917.0 L562.0,918.7 L564.0,920.4 L566.0,922.0 L568.0,923.7 L570.0,925.4 L572.0,927.0 L574.0,928.7 L576.0,930.3 L578.0,931.9 L580.0,933.4 L582.0,935.0 L584.0,936.5 L586.0,938.0 L588.0,939.5 L590.0,941.0 L592.0,942.4 L594.0,943.8 L596.0,945.2 L598.0,946.6 L600.0,947.9 L602.0,949.2 L604.0,950.4 L606.0,951.6 L608.0,952.8 L610.0,954.0 L612.0,955.1 L614.0,956.2 L616.0,957.3 L618.0,958.3 L620.0,959.3 L622.0,960.3 L624.0,961.2 L626.0,962.1 L628.0,963.0 L630.0,963.8 L632.0,964.6 L634.0,965.4 L636.0,966.1 L638.0,966.9 L640.0,967.6 L642.0,968.2 L644.0,968.9 L646.0,969.5 L648.0,970.0 L650.0,970.6 L652.0,971.1 L654.0,971.6 L656.0,972.1 L658.0,972.6 L660.0,973.0 L662.0,973.4 L664.0,973.8 L666.0,974.2 L668.0,974.6 L670.0,974.9 L672.0,975.2 L674.0,975.6 L676.0,975.8 L678.0,976.1 L680.0,976.4 L682.0,976.6 L684.0,976.9 L686.0,977.1 L688.0,977.3 L690.0,977.5 L692.0,977.6 L694.0,977.8 L696.0,978.0 L698.0,978.1 L700.0,978.3 L702.0,978.4 L704.0,978.5 L706.0,978.6 L708.0,978.8 L710.0,978.9 L712.0,979.0 L714.0,979.0 L716.0,979.1 L718.0,979.2 L720.0,979.3 L722.0,979.3 L724.0,979.4 L726.0,979.5 L728.0,979.5 L730.0,979.6 L732.0,979.6 L734.0,979.7 L736.0,979.7 L738.0,979.7 L740.0,979.8 L742.0,979.8 L744.0,979.8 L746.0,979.9 L748.0,979.9 L750.0,979.9 L752.0,979.9 L754.0,979.9 L756.0,980.0 L758.0,980.0 L760.0,980.0 L762.0,980.0 L764.0,980.0 L766.0,980.0 L768.0,980.1 L770.0,980.1 L772.0,980.1 L774.0,980.1 L776.0,980.1 L778.0,980.1 L780.0,980.1 L782.0,980.1 L784.0,980.1 L786.0,980.1 L788.0,980.1 L790.0,980.1 L792.0,980.1 L794.0,980.2 L796.0,980.2 L798.0,980.2 L800.0,980.2 L802.0,980.2 L804.0,980.2 L806.0,980.2 L808.0,980.2 L810.0,980.2 L812.0,980.2 L814.0,980.2 L816.0,980.2 L818.0,980.2 L820.0,980.2 L822.0,980.2 L824.0,980.2 L826.0,980.2 L828.0,980.2 L830.0,980.2 L832.0,980.2 L834.0,980.2 L836.0,980.2 L838.0,980.2 L840.0,980.2 L842.0,980.2 L844.0,980.2 L846.0,980.2 L848.0,980.2 L850.0,980.2 L852.0,980.2 L854.0,980.2 L856.0,980.2 L858.0,980.2 L860.0,980.2 L862.0,980.3 L864.0,980.3 L866.0,980.3 L868.0,980.3 L870.0,980.3 L872.0,980.3 L874.0,980.3 L876.0,980.3 L878.0,980.3 L880.0,980.3 L882.0,980.3 L884.0,980.3 L886.0,980.3 L888.0,980.3 L890.0,980.3 L892.0,980.3 L894.0,980.3 L896.0,980.3 L898.0,980.3 L900.0,980.3 L902.0,980.3 L904.0,980.3 L906.0,980.3 L908.0,980.3 L910.0,980.3 L912.0,980.3 L914.0,980.3 L916.0,980.3 L918.0,980.3 L920.0,980.3 L922.0,980.3 L924.0,980.3 L926.0,980.3 L928.0,980.3 L930.0,980.3 L932.0,980.3 L934.0,980.3 L936.0,980.3 L938.0,980.3 L940.0,980.3 L942.0,980.3 L944.0,980.3 L946.0,980.3 L948.0,980.3 L950.0,980.3 L952.0,980.3 L954.0,980.4 L956.0,980.4 L958.0,980.4 L960.0,980.4 L962.0,980.4 L964.0,980.4 L966.0,980.4 L968.0,980.4 L970.0,980.4 L972.0,980.4 L974.0,980.4 L976.0,980.4 L978.0,980.4 L980.0,980.4 L982.0,980.4 L984.0,980.4 L986.0,980.4 L988.0,980.4 L990.0,980.4 L992.0,980.4 L994.0,980.4 L996.0,980.4 L998.0,980.4 L1000.0,980.4 L1002.0,980.4 L1004.0,980.4 L1006.0,980.4 L1008.0,980.4 L1010.0,980.4 L1012.0,980.4 L1014.0,980.4 L1016.0,980.4 L1018.0,980.4 L1020.0,980.4 L1022.0,980.4 L1024.0,980.4 L1026.0,980.4 L1028.0,980.4 L1030.0,980.4 L1032.0,980.4 L1034.0,980.4 L1036.0,980.4 L1038.0,980.4 L1040.0,980.4 L1042.0,980.4 L1044.0,980.4 L1046.0,980.5 L1048.0,980.5 L1050.0,980.5 L1052.0,980.5 L1054.0,980.5 L1056.0,980.5 L1058.0,980.5 L1060.0,980.5 L1062.0,980.5 L1064.0,980.5 L1066.0,980.5 L1068.0,980.5 L1070.0,980.5 L1072.0,980.5 L1074.0,980.5 L1076.0,980.5 L1078.0,980.5 L1080.0,980.5 L1082.0,980.5 L1084.0,980.5 L1086.0,980.5 L1088.0,980.5 L1090.0,980.5" stroke="#00f" stroke-width="4.6"/>
<path d="M168.0,1161.0 L227.3,1161.0 L266.9,1159.0 L306.4,1158.0 L322.3,1145.1 L340.1,1138.2 L351.9,1125.4 L363.8,1125.4 L375.7,1111.5 L389.5,1103.6 L401.4,1091.7 L413.2,1091.7 L425.1,1074.9 L444.9,1062.1 L464.7,1050.2 L484.4,1039.3 L500.3,1037.4 L512.1,1028.5 L524.0,1030.4 L537.8,1019.6 L549.7,1013.6 L561.6,1012.6 L573.4,1006.7 L587.3,1008.7 L599.1,1004.7 L618.9,1002.7 L629.0,1003.7 L646.8,1004.7 L660.6,1022.5 L672.5,1028.5 L684.4,1039.3 L698.2,1053.2 L712.1,1073.0 L720.0,1094.7 L733.8,1112.5 L743.7,1115.5 L757.6,1122.4 L777.3,1130.3 L787.2,1134.3 L797.1,1131.3 L811.0,1136.2 L826.8,1146.1 L836.7,1148.1 L846.6,1148.1 L856.4,1152.1 L870.3,1152.1 L886.1,1157.0 L925.7,1160.0 L994.9,1160.0 L1014.7,1159.0 L1044.3,1160.0 L1064.1,1157.0 L1079.9,1157.0 L1091.0,1159.0" stroke="#000"/>
<path d="M168.0,1165.0 L170.0,1165.0 L172.0,1165.0 L174.0,1165.0 L176.0,1165.0 L178.0,1164.9 L180.0,1164.9 L182.0,1164.9 L184.0,1164.9 L186.0,1164.9 L188.0,1164.9 L190.0,1164.9 L192.0,1164.9 L194.0,1164.8 L196.0,1164.8 L198.0,1164.8 L200.0,1164.8 L202.0,1164.8 L204.0,1164.8 L206.0,1164.8 L208.0,1164.8 L210.0,1164.7 L212.0,1164.7 L214.0,1164.7 L216.0,1164.7 L218.0,1164.7 L220.0,1164.7 L222.0,1164.7 L224.0,1164.7 L226.0,1164.7 L228.0,1164.6 L230.0,1164.6 L232.0,1164.6 L234.0,1164.6 L236.0,1164.6 L238.0,1164.6 L240.0,1164.6 L242.0,1164.6 L244.0,1164.5 L246.0,1164.5 L248.0,1164.5 L250.0,1164.5 L252.0,1164.5 L254.0,1164.5 L256.0,1164.5 L258.0,1164.5 L260.0,1164.4 L262.0,1164.4 L264.0,1164.4 L266.0,1164.4 L268.0,1164.4 L270.0,1164.4 L272.0,1164.4 L274.0,1164.4 L276.0,1164.3 L278.0,1164.3 L280.0,1164.3 L282.0,1164.3 L284.0,1164.3 L286.0,1164.3 L288.0,1164.3 L290.0,1164.3 L292.0,1164.2 L294.0,1164.2 L296.0,1164.2 L298.0,1164.2 L300.0,1164.2 L302.0,1164.2 L304.0,1164.2 L306.0,1164.1 L308.0,1164.1 L310.0,1164.1 L312.0,1164.1 L314.0,1164.1 L316.0,1164.1 L318.0,1164.0 L320.0,1164.0 L322.0,1164.0 L324.0,1164.0 L326.0,1164.0 L328.0,1163.9 L330.0,1163.9 L332.0,1163.9 L334.0,1163.9 L336.0,1163.8 L338.0,1163.8 L340.0,1163.8 L342.0,1163.8 L344.0,1163.7 L346.0,1163.7 L348.0,1163.7 L350.0,1163.6 L352.0,1163.6 L354.0,1163.5 L356.0,1163.5 L358.0,1163.5 L360.0,1163.4 L362.0,1163.4 L364.0,1163.3 L366.0,1163.2 L368.0,1163.2 L370.0,1163.1 L372.0,1163.0 L374.0,1163.0 L376.0,1162.9 L378.0,1162.8 L380.0,1162.7 L382.0,1162.6 L384.0,1162.5 L386.0,1162.4 L388.0,1162.3 L390.0,1162.2 L392.0,1162.1 L394.0,1161.9 L396.0,1161.8 L398.0,1161.6 L400.0,1161.4 L402.0,1161.3 L404.0,1161.1 L406.0,1160.9 L408.0,1160.7 L410.0,1160.5 L412.0,1160.2 L414.0,1160.0 L416.0,1159.7 L418.0,1159.4 L420.0,1159.2 L422.0,1158.8 L424.0,1158.5 L426.0,1158.2 L428.0,1157.8 L430.0,1157.4 L432.0,1157.0 L434.0,1156.6 L436.0,1156.2 L438.0,1155.7 L440.0,1155.2 L442.0,1154.7 L444.0,1154.2 L446.0,1153.6 L448.0,1153.0 L450.0,1152.4 L452.0,1151.7 L454.0,1151.1 L456.0,1150.4 L458.0,1149.6 L460.0,1148.8 L462.0,1148.0 L464.0,1147.2 L466.0,1146.3 L468.0,1145.4 L470.0,1144.5 L472.0,1143.5 L474.0,1142.5 L476.0,1141.5 L478.0,1140.4 L480.0,1139.2 L482.0,1138.1 L484.0,1136.9 L486.0,1135.6 L488.0,1134.3 L490.0,1133.0 L492.0,1131.7 L494.0,1130.3 L496.0,1128.8 L498.0,1127.3 L500.0,1125.8 L502.0,1124.2 L504.0,1122.6 L506.0,1121.0 L508.0,1119.3 L510.0,1117.6 L512.0,1115.9 L514.0,1114.1 L516.0,1112.2 L518.0,1110.4 L520.0,1108.5 L522.0,1106.6 L524.0,1104.6 L526.0,1102.6 L528.0,1100.6 L530.0,1098.6 L532.0,1096.5 L534.0,1094.4 L536.0,1092.3 L538.0,1090.2 L540.0,1088.1 L542.0,1085.9 L544.0,1083.8 L546.0,1081.6 L548.0,1079.4 L550.0,1077.2 L552.0,1075.0 L554.0,1072.8 L556.0,1070.7 L558.0,1068.5 L560.0,1066.3 L562.0,1064.2 L564.0,1062.0 L566.0,1059.9 L568.0,1057.8 L570.0,1055.8 L572.0,1053.7 L574.0,1051.7 L576.0,1049.7 L578.0,1047.8 L580.0,1045.9 L582.0,1044.0 L584.0,1042.2 L586.0,1040.5 L588.0,1038.8 L590.0,1037.1 L592.0,1035.5 L594.0,1034.0 L596.0,1032.5 L598.0,1031.1 L600.0,1029.8 L602.0,1028.5 L604.0,1027.3 L606.0,1026.2 L608.0,1025.2 L610.0,1024.2 L612.0,1023.4 L614.0,1022.6 L616.0,1021.9 L618.0,1021.2 L620.0,1020.7 L622.0,1020.2 L624.0,1019.9 L626.0,1019.6 L628.0,1019.4 L630.0,1019.3 L632.0,1019.3 L634.0,1019.4 L636.0,1019.6 L638.0,1019.8 L640.0,1020.2 L642.0,1020.6 L644.0,1021.2 L646.0,1021.8 L648.0,1022.5 L650.0,1023.3 L652.0,1024.1 L654.0,1025.1 L656.0,1026.1 L658.0,1027.2 L660.0,1028.4 L662.0,1029.6 L664.0,1030.9 L666.0,1032.3 L668.0,1033.8 L670.0,1035.3 L672.0,1036.9 L674.0,1038.5 L676.0,1040.2 L678.0,1042.0 L680.0,1043.7 L682.0,1045.6 L684.0,1047.5 L686.0,1049.4 L688.0,1051.3 L690.0,1053.3 L692.0,1055.4 L694.0,1057.4 L696.0,1059.5 L698.0,1061.6 L700.0,1063.7 L702.0,1065.8 L704.0,1068.0 L706.0,1070.1 L708.0,1072.3 L710.0,1074.4 L712.0,1076.6 L714.0,1078.7 L716.0,1080.9 L718.0,1083.0 L720.0,1085.2 L722.0,1087.3 L724.0,1089.4 L726.0,1091.5 L728.0,1093.6 L730.0,1095.7 L732.0,1097.7 L734.0,1099.7 L736.0,1101.7 L738.0,1103.6 L740.0,1105.6 L742.0,1107.5 L744.0,1109.3 L746.0,1111.2 L748.0,1112.9 L750.0,1114.7 L752.0,1116.4 L754.0,1118.1 L756.0,1119.8 L758.0,1121.4 L760.0,1123.0 L762.0,1124.5 L764.0,1126.0 L766.0,1127.4 L768.0,1128.8 L770.0,1130.2 L772.0,1131.5 L774.0,1132.8 L776.0,1134.1 L778.0,1135.3 L780.0,1136.5 L782.0,1137.6 L784.0,1138.7 L786.0,1139.8 L788.0,1140.8 L790.0,1141.8 L792.0,1142.7 L794.0,1143.6 L796.0,1144.5 L798.0,1145.3 L800.0,1146.2 L802.0,1146.9 L804.0,1147.7 L806.0,1148.4 L808.0,1149.1 L810.0,1149.7 L812.0,1150.3 L814.0,1150.9 L816.0,1151.5 L818.0,1152.0 L820.0,1152.5 L822.0,1153.0 L824.0,1153.5 L826.0,1153.9 L828.0,1154.3 L830.0,1154.7 L832.0,1155.1 L834.0,1155.5 L836.0,1155.8 L838.0,1156.1 L840.0,1156.4 L842.0,1156.7 L844.0,1157.0 L846.0,1157.2 L848.0,1157.4 L850.0,1157.7 L852.0,1157.9 L854.0,1158.1 L856.0,1158.2 L858.0,1158.4 L860.0,1158.6 L862.0,1158.7 L864.0,1158.9 L866.0,1159.0 L868.0,1159.1 L870.0,1159.2 L872.0,1159.3 L874.0,1159.4 L876.0,1159.5 L878.0,1159.6 L880.0,1159.7 L882.0,1159.7 L884.0,1159.8 L886.0,1159.9 L888.0,1159.9 L890.0,1160.0 L892.0,1160.0 L894.0,1160.1 L896.0,1160.1 L898.0,1160.1 L900.0,1160.2 L902.0,1160.2 L904.0,1160.2 L906.0,1160.2 L908.0,1160.2 L910.0,1160.3 L912.0,1160.3 L914.0,1160.3 L916.0,1160.3 L918.0,1160.3 L920.0,1160.3 L922.0,1160.3 L924.0,1160.3 L926.0,1160.3 L928.0,1160.3 L930.0,1160.3 L932.0,1160.3 L934.0,1160.3 L936.0,1160.3 L938.0,1160.3 L940.0,1160.3 L942.0,1160.3 L944.0,1160.3 L946.0,1160.3 L948.0,1160.3 L950.0,1160.3 L952.0,1160.3 L954.0,1160.3 L956.0,1160.3 L958.0,1160.3 L960.0,1160.3 L962.0,1160.2 L964.0,1160.2 L966.0,1160.2 L968.0,1160.2 L970.0,1160.2 L972.0,1160.2 L974.0,1160.2 L976.0,1160.2 L978.0,1160.2 L980.0,1160.2 L982.0,1160.1 L984.0,1160.1 L986.0,1160.1 L988.0,1160.1 L990.0,1160.1 L992.0,1160.1 L994.0,1160.1 L996.0,1160.1 L998.0,1160.1 L1000.0,1160.0 L1002.0,1160.0 L1004.0,1160.0 L1006.0,1160.0 L1008.0,1160.0 L1010.0,1160.0 L1012.0,1160.0 L1014.0,1160.0 L1016.0,1159.9 L1018.0,1159.9 L1020.0,1159.9 L1022.0,1159.9 L1024.0,1159.9 L1026.0,1159.9 L1028.0,1159.9 L1030.0,1159.9 L1032.0,1159.9 L1034.0,1159.8 L1036.0,1159.8 L1038.0,1159.8 L1040.0,1159.8 L1042.0,1159.8 L1044.0,1159.8 L1046.0,1159.8 L1048.0,1159.8 L1050.0,1159.7 L1052.0,1159.7 L1054.0,1159.7 L1056.0,1159.7 L1058.0,1159.7 L1060.0,1159.7 L1062.0,1159.7 L1064.0,1159.7 L1066.0,1159.6 L1068.0,1159.6 L1070.0,1159.6 L1072.0,1159.6 L1074.0,1159.6 L1076.0,1159.6 L1078.0,1159.6 L1080.0,1159.6 L1082.0,1159.6 L1084.0,1159.5 L1086.0,1159.5 L1088.0,1159.5 L1090.0,1159.5" stroke="#f00" stroke-width="4.6"/>
<path d="M168.0,1161.5 L170.0,1161.5 L172.0,1161.5 L174.0,1161.5 L176.0,1161.5 L178.0,1161.5 L180.0,1161.5 L182.0,1161.5 L184.0,1161.5 L186.0,1161.5 L188.0,1161.5 L190.0,1161.5 L192.0,1161.5 L194.0,1161.5 L196.0,1161.4 L198.0,1161.4 L200.0,1161.4 L202.0,1161.4 L204.0,1161.4 L206.0,1161.3 L208.0,1161.3 L210.0,1161.3 L212.0,1161.3 L214.0,1161.2 L216.0,1161.2 L218.0,1161.2 L220.0,1161.1 L222.0,1161.1 L224.0,1161.0 L226.0,1161.0 L228.0,1160.9 L230.0,1160.8 L232.0,1160.8 L234.0,1160.7 L236.0,1160.6 L238.0,1160.6 L240.0,1160.5 L242.0,1160.4 L244.0,1160.3 L246.0,1160.2 L248.0,1160.1 L250.0,1159.9 L252.0,1159.8 L254.0,1159.7 L256.0,1159.5 L258.0,1159.4 L260.0,1159.2 L262.0,1159.0 L264.0,1158.8 L266.0,1158.6 L268.0,1158.4 L270.0,1158.2 L272.0,1158.0 L274.0,1157.7 L276.0,1157.5 L278.0,1157.2 L280.0,1156.9 L282.0,1156.6 L284.0,1156.3 L286.0,1156.0 L288.0,1155.6 L290.0,1155.3 L292.0,1154.9 L294.0,1154.5 L296.0,1154.1 L298.0,1153.6 L300.0,1153.2 L302.0,1152.7 L304.0,1152.2 L306.0,1151.7 L308.0,1151.1 L310.0,1150.6 L312.0,1150.0 L314.0,1149.4 L316.0,1148.8 L318.0,1148.1 L320.0,1147.4 L322.0,1146.7 L324.0,1146.0 L326.0,1145.3 L328.0,1144.5 L330.0,1143.7 L332.0,1142.9 L334.0,1142.0 L336.0,1141.1 L338.0,1140.3 L340.0,1139.3 L342.0,1138.4 L344.0,1137.4 L346.0,1136.4 L348.0,1135.4 L350.0,1134.3 L352.0,1133.3 L354.0,1132.2 L356.0,1131.1 L358.0,1129.9 L360.0,1128.8 L362.0,1127.6 L364.0,1126.4 L366.0,1125.2 L368.0,1123.9 L370.0,1122.7 L372.0,1121.4 L374.0,1120.1 L376.0,1118.8 L378.0,1117.5 L380.0,1116.2 L382.0,1114.8 L384.0,1113.5 L386.0,1112.1 L388.0,1110.8 L390.0,1109.4 L392.0,1108.0 L394.0,1106.7 L396.0,1105.3 L398.0,1103.9 L400.0,1102.6 L402.0,1101.2 L404.0,1099.8 L406.0,1098.5 L408.0,1097.2 L410.0,1095.9 L412.0,1094.6 L414.0,1093.3 L416.0,1092.0 L418.0,1090.7 L420.0,1089.5 L422.0,1088.3 L424.0,1087.1 L426.0,1086.0 L428.0,1084.9 L430.0,1083.8 L432.0,1082.7 L434.0,1081.7 L436.0,1080.7 L438.0,1079.8 L440.0,1078.9 L442.0,1078.0 L444.0,1077.2 L446.0,1076.5 L448.0,1075.7 L450.0,1075.1 L452.0,1074.4 L454.0,1073.9 L456.0,1073.3 L458.0,1072.9 L460.0,1072.4 L462.0,1072.1 L464.0,1071.8 L466.0,1071.5 L468.0,1071.3 L470.0,1071.1 L472.0,1071.1 L474.0,1071.0 L476.0,1071.0 L478.0,1071.1 L480.0,1071.3 L482.0,1071.4 L484.0,1071.7 L486.0,1072.0 L488.0,1072.3 L490.0,1072.8 L492.0,1073.2 L494.0,1073.7 L496.0,1074.3 L498.0,1074.9 L500.0,1075.6 L502.0,1076.3 L504.0,1077.0 L506.0,1077.9 L508.0,1078.7 L510.0,1079.6 L512.0,1080.5 L514.0,1081.5 L516.0,1082.5 L518.0,1083.6 L520.0,1084.6 L522.0,1085.8 L524.0,1086.9 L526.0,1088.1 L528.0,1089.3 L530.0,1090.5 L532.0,1091.8 L534.0,1093.0 L536.0,1094.3 L538.0,1095.6 L540.0,1096.9 L542.0,1098.3 L544.0,1099.6 L546.0,1101.0 L548.0,1102.4 L550.0,1103.7 L552.0,1105.1 L554.0,1106.5 L556.0,1107.9 L558.0,1109.3 L560.0,1110.6 L562.0,1112.0 L564.0,1113.4 L566.0,1114.7 L568.0,1116.1 L570.0,1117.4 L572.0,1118.8 L574.0,1120.1 L576.0,1121.4 L578.0,1122.7 L580.0,1124.0 L582.0,1125.2 L584.0,1126.4 L586.0,1127.7 L588.0,1128.9 L590.0,1130.0 L592.0,1131.2 L594.0,1132.3 L596.0,1133.5 L598.0,1134.5 L600.0,1135.6 L602.0,1136.7 L604.0,1137.7 L606.0,1138.7 L608.0,1139.6 L610.0,1140.6 L612.0,1141.5 L614.0,1142.4 L616.0,1143.3 L618.0,1144.1 L620.0,1144.9 L622.0,1145.7 L624.0,1146.5 L626.0,1147.2 L628.0,1148.0 L630.0,1148.7 L632.0,1149.3 L634.0,1150.0 L636.0,1150.6 L638.0,1151.2 L640.0,1151.8 L642.0,1152.4 L644.0,1152.9 L646.0,1153.4 L648.0,1153.9 L650.0,1154.4 L652.0,1154.8 L654.0,1155.3 L656.0,1155.7 L658.0,1156.1 L660.0,1156.5 L662.0,1156.8 L664.0,1157.2 L666.0,1157.5 L668.0,1157.8 L670.0,1158.1 L672.0,1158.4 L674.0,1158.7 L676.0,1159.0 L678.0,1159.2 L680.0,1159.5 L682.0,1159.7 L684.0,1159.9 L686.0,1160.1 L688.0,1160.3 L690.0,1160.5 L692.0,1160.6 L694.0,1160.8 L696.0,1160.9 L698.0,1161.1 L700.0,1161.2 L702.0,1161.3 L704.0,1161.5 L706.0,1161.6 L708.0,1161.7 L710.0,1161.8 L712.0,1161.9 L714.0,1162.0 L716.0,1162.1 L718.0,1162.1 L720.0,1162.2 L722.0,1162.3 L724.0,1162.3 L726.0,1162.4 L728.0,1162.5 L730.0,1162.5 L732.0,1162.6 L734.0,1162.6 L736.0,1162.7 L738.0,1162.7 L740.0,1162.7 L742.0,1162.8 L744.0,1162.8 L746.0,1162.9 L748.0,1162.9 L750.0,1162.9 L752.0,1162.9 L754.0,1163.0 L756.0,1163.0 L758.0,1163.0 L760.0,1163.0 L762.0,1163.1 L764.0,1163.1 L766.0,1163.1 L768.0,1163.1 L770.0,1163.1 L772.0,1163.1 L774.0,1163.2 L776.0,1163.2 L778.0,1163.2 L780.0,1163.2 L782.0,1163.2 L784.0,1163.2 L786.0,1163.2 L788.0,1163.2 L790.0,1163.2 L792.0,1163.3 L794.0,1163.3 L796.0,1163.3 L798.0,1163.3 L800.0,1163.3 L802.0,1163.3 L804.0,1163.3 L806.0,1163.3 L808.0,1163.3 L810.0,1163.3 L812.0,1163.3 L814.0,1163.3 L816.0,1163.3 L818.0,1163.4 L820.0,1163.4 L822.0,1163.4 L824.0,1163.4 L826.0,1163.4 L828.0,1163.4 L830.0,1163.4 L832.0,1163.4 L834.0,1163.4 L836.0,1163.4 L838.0,1163.4 L840.0,1163.4 L842.0,1163.4 L844.0,1163.4 L846.0,1163.4 L848.0,1163.4 L850.0,1163.4 L852.0,1163.5 L854.0,1163.5 L856.0,1163.5 L858.0,1163.5 L860.0,1163.5 L862.0,1163.5 L864.0,1163.5 L866.0,1163.5 L868.0,1163.5 L870.0,1163.5 L872.0,1163.5 L874.0,1163.5 L876.0,1163.5 L878.0,1163.5 L880.0,1163.5 L882.0,1163.5 L884.0,1163.5 L886.0,1163.5 L888.0,1163.5 L890.0,1163.6 L892.0,1163.6 L894.0,1163.6 L896.0,1163.6 L898.0,1163.6 L900.0,1163.6 L902.0,1163.6 L904.0,1163.6 L906.0,1163.6 L908.0,1163.6 L910.0,1163.6 L912.0,1163.6 L914.0,1163.6 L916.0,1163.6 L918.0,1163.6 L920.0,1163.6 L922.0,1163.6 L924.0,1163.6 L926.0,1163.7 L928.0,1163.7 L930.0,1163.7 L932.0,1163.7 L934.0,1163.7 L936.0,1163.7 L938.0,1163.7 L940.0,1163.7 L942.0,1163.7 L944.0,1163.7 L946.0,1163.7 L948.0,1163.7 L950.0,1163.7 L952.0,1163.7 L954.0,1163.7 L956.0,1163.7 L958.0,1163.7 L960.0,1163.7 L962.0,1163.8 L964.0,1163.8 L966.0,1163.8 L968.0,1163.8 L970.0,1163.8 L972.0,1163.8 L974.0,1163.8 L976.0,1163.8 L978.0,1163.8 L980.0,1163.8 L982.0,1163.8 L984.0,1163.8 L986.0,1163.8 L988.0,1163.8 L990.0,1163.8 L992.0,1163.8 L994.0,1163.8 L996.0,1163.8 L998.0,1163.8 L1000.0,1163.9 L1002.0,1163.9 L1004.0,1163.9 L1006.0,1163.9 L1008.0,1163.9 L1010.0,1163.9 L1012.0,1163.9 L1014.0,1163.9 L1016.0,1163.9 L1018.0,1163.9 L1020.0,1163.9 L1022.0,1163.9 L1024.0,1163.9 L1026.0,1163.9 L1028.0,1163.9 L1030.0,1163.9 L1032.0,1163.9 L1034.0,1163.9 L1036.0,1164.0 L1038.0,1164.0 L1040.0,1164.0 L1042.0,1164.0 L1044.0,1164.0 L1046.0,1164.0 L1048.0,1164.0 L1050.0,1164.0 L1052.0,1164.0 L1054.0,1164.0 L1056.0,1164.0 L1058.0,1164.0 L1060.0,1164.0 L1062.0,1164.0 L1064.0,1164.0 L1066.0,1164.0 L1068.0,1164.0 L1070.0,1164.0 L1072.0,1164.0 L1074.0,1164.1 L1076.0,1164.1 L1078.0,1164.1 L1080.0,1164.1 L1082.0,1164.1 L1084.0,1164.1 L1086.0,1164.1 L1088.0,1164.1 L1090.0,1164.1" stroke="#00f" stroke-width="4.6"/>
<path d="M1377.0,226.0 L1406.7,226.4 L1442.3,228.0 L1475.9,227.4 L1495.7,224.0 L1523.4,224.0 L1535.2,217.1 L1549.1,210.2 L1574.8,202.3 L1594.6,193.4 L1614.3,182.5 L1634.1,168.7 L1653.9,152.8 L1663.8,144.9 L1673.7,131.1 L1685.5,119.2 L1701.3,109.3 L1717.2,97.5 L1733.0,86.6 L1742.9,75.7 L1754.7,65.8 L1766.6,64.8 L1780.5,59.5 L1800.2,59.9 L1822.0,68.8 L1838.0,84.6 L1857.8,103.4 L1877.6,127.1 L1897.3,144.9 L1917.1,160.8 L1932.9,171.6 L1956.7,181.5 L1976.4,192.4 L1996.2,200.3 L2010.1,206.2 L2025.9,207.2 L2045.7,214.2 L2065.4,220.1 L2095.1,222.1 L2134.7,227.0 L2174.2,224.0 L2203.9,220.1 L2223.7,219.1 L2243.4,216.1 L2263.2,217.1 L2283.0,218.1 L2300.0,217.1" stroke="#000"/>
<path d="M1377.0,221.0 L1379.0,221.0 L1381.0,221.0 L1383.0,221.0 L1385.0,221.0 L1387.0,221.0 L1389.0,221.0 L1391.0,221.0 L1393.0,221.0 L1395.0,221.0 L1397.0,221.0 L1399.0,221.0 L1401.0,221.0 L1403.0,221.0 L1405.0,221.0 L1407.0,221.0 L1409.0,221.0 L1411.0,221.0 L1413.0,221.0 L1415.0,221.0 L1417.0,221.0 L1419.0,221.0 L1421.0,221.0 L1423.0,221.0 L1425.0,221.0 L1427.0,221.0 L1429.0,221.0 L1431.0,221.0 L1433.0,221.0 L1435.0,221.0 L1437.0,221.0 L1439.0,221.0 L1441.0,221.0 L1443.0,221.0 L1445.0,221.0 L1447.0,221.0 L1449.0,221.0 L1451.0,221.0 L1453.0,221.0 L1455.0,221.0 L1457.0,220.9 L1459.0,220.9 L1461.0,220.9 L1463.0,220.9 L1465.0,220.9 L1467.0,220.9 L1469.0,220.9 L1471.0,220.9 L1473.0,220.9 L1475.0,220.9 L1477.0,220.9 L1479.0,220.9 L1481.0,220.8 L1483.0,220.8 L1485.0,220.8 L1487.0,220.8 L1489.0,220.8 L1491.0,220.8 L1493.0,220.7 L1495.0,220.7 L1497.0,220.7 L1499.0,220.7 L1501.0,220.6 L1503.0,220.6 L1505.0,220.6 L1507.0,220.6 L1509.0,220.5 L1511.0,220.5 L1513.0,220.4 L1515.0,220.4 L1517.0,220.3 L1519.0,220.3 L1521.0,220.2 L1523.0,220.2 L1525.0,220.1 L1527.0,220.0 L1529.0,220.0 L1531.0,219.9 L1533.0,219.8 L1535.0,219.7 L1537.0,219.6 L1539.0,219.5 L1541.0,219.4 L1543.0,219.3 L1545.0,219.2 L1547.0,219.1 L1549.0,218.9 L1551.0,218.8 L1553.0,218.6 L1555.0,218.5 L1557.0,218.3 L1559.0,218.1 L1561.0,217.9 L1563.0,217.7 L1565.0,217.5 L1567.0,217.3 L1569.0,217.1 L1571.0,216.8 L1573.0,216.5 L1575.0,216.3 L1577.0,216.0 L1579.0,215.7 L1581.0,215.3 L1583.0,215.0 L1585.0,214.7 L1587.0,214.3 L1589.0,213.9 L1591.0,213.5 L1593.0,213.0 L1595.0,212.6 L1597.0,212.1 L1599.0,211.6 L1601.0,211.1 L1603.0,210.6 L1605.0,210.0 L1607.0,209.4 L1609.0,208.8 L1611.0,208.2 L1613.0,207.5 L1615.0,206.8 L1617.0,206.1 L1619.0,205.4 L1621.0,204.6 L1623.0,203.8 L1625.0,203.0 L1627.0,202.1 L1629.0,201.2 L1631.0,200.3 L1633.0,199.4 L1635.0,198.4 L1637.0,197.4 L1639.0,196.3 L1641.0,195.3 L1643.0,194.1 L1645.0,193.0 L1647.0,191.8 L1649.0,190.6 L1651.0,189.4 L1653.0,188.1 L1655.0,186.8 L1657.0,185.4 L1659.0,184.1 L1661.0,182.6 L1663.0,181.2 L1665.0,179.7 L1667.0,178.2 L1669.0,176.7 L1671.0,175.1 L1673.0,173.5 L1675.0,171.9 L1677.0,170.2 L1679.0,168.5 L1681.0,166.8 L1683.0,165.1 L1685.0,163.3 L1687.0,161.6 L1689.0,159.7 L1691.0,157.9 L1693.0,156.1 L1695.0,154.2 L1697.0,152.3 L1699.0,150.4 L1701.0,148.5 L1703.0,146.6 L1705.0,144.6 L1707.0,142.7 L1709.0,140.7 L1711.0,138.8 L1713.0,136.8 L1715.0,134.9 L1717.0,132.9 L1719.0,130.9 L1721.0,129.0 L1723.0,127.0 L1725.0,125.1 L1727.0,123.2 L1729.0,121.3 L1731.0,119.4 L1733.0,117.5 L1735.0,115.7 L1737.0,113.9 L1739.0,112.1 L1741.0,110.3 L1743.0,108.6 L1745.0,106.9 L1747.0,105.2 L1749.0,103.6 L1751.0,102.0 L1753.0,100.5 L1755.0,99.0 L1757.0,97.5 L1759.0,96.1 L1761.0,94.8 L1763.0,93.5 L1765.0,92.3 L1767.0,91.1 L1769.0,90.0 L1771.0,88.9 L1773.0,87.9 L1775.0,87.0 L1777.0,86.1 L1779.0,85.3 L1781.0,84.6 L1783.0,83.9 L1785.0,83.3 L1787.0,82.8 L1789.0,82.3 L1791.0,82.0 L1793.0,81.7 L1795.0,81.4 L1797.0,81.3 L1799.0,81.2 L1801.0,81.2 L1803.0,81.3 L1805.0,81.4 L1807.0,81.6 L1809.0,81.9 L1811.0,82.3 L1813.0,82.7 L1815.0,83.2 L1817.0,83.8 L1819.0,84.5 L1821.0,85.2 L1823.0,86.0 L1825.0,86.8 L1827.0,87.8 L1829.0,88.8 L1831.0,89.8 L1833.0,90.9 L1835.0,92.1 L1837.0,93.3 L1839.0,94.6 L1841.0,95.9 L1843.0,97.3 L1845.0,98.8 L1847.0,100.3 L1849.0,101.8 L1851.0,103.4 L1853.0,105.0 L1855.0,106.7 L1857.0,108.4 L1859.0,110.1 L1861.0,111.8 L1863.0,113.6 L1865.0,115.4 L1867.0,117.3 L1869.0,119.2 L1871.0,121.0 L1873.0,122.9 L1875.0,124.9 L1877.0,126.8 L1879.0,128.7 L1881.0,130.7 L1883.0,132.6 L1885.0,134.6 L1887.0,136.6 L1889.0,138.5 L1891.0,140.5 L1893.0,142.4 L1895.0,144.4 L1897.0,146.3 L1899.0,148.2 L1901.0,150.2 L1903.0,152.1 L1905.0,153.9 L1907.0,155.8 L1909.0,157.7 L1911.0,159.5 L1913.0,161.3 L1915.0,163.1 L1917.0,164.9 L1919.0,166.6 L1921.0,168.3 L1923.0,170.0 L1925.0,171.7 L1927.0,173.3 L1929.0,174.9 L1931.0,176.5 L1933.0,178.0 L1935.0,179.5 L1937.0,181.0 L1939.0,182.5 L1941.0,183.9 L1943.0,185.3 L1945.0,186.6 L1947.0,187.9 L1949.0,189.2 L1951.0,190.4 L1953.0,191.7 L1955.0,192.8 L1957.0,194.0 L1959.0,195.1 L1961.0,196.2 L1963.0,197.2 L1965.0,198.3 L1967.0,199.2 L1969.0,200.2 L1971.0,201.1 L1973.0,202.0 L1975.0,202.9 L1977.0,203.7 L1979.0,204.5 L1981.0,205.3 L1983.0,206.0 L1985.0,206.7 L1987.0,207.4 L1989.0,208.1 L1991.0,208.7 L1993.0,209.4 L1995.0,209.9 L1997.0,210.5 L1999.0,211.0 L2001.0,211.6 L2003.0,212.1 L2005.0,212.5 L2007.0,213.0 L2009.0,213.4 L2011.0,213.8 L2013.0,214.2 L2015.0,214.6 L2017.0,215.0 L2019.0,215.3 L2021.0,215.6 L2023.0,215.9 L2025.0,216.2 L2027.0,216.5 L2029.0,216.8 L2031.0,217.0 L2033.0,217.3 L2035.0,217.5 L2037.0,217.7 L2039.0,217.9 L2041.0,218.1 L2043.0,218.3 L2045.0,218.5 L2047.0,218.6 L2049.0,218.8 L2051.0,218.9 L2053.0,219.0 L2055.0,219.2 L2057.0,219.3 L2059.0,219.4 L2061.0,219.5 L2063.0,219.6 L2065.0,219.7 L2067.0,219.8 L2069.0,219.9 L2071.0,220.0 L2073.0,220.0 L2075.0,220.1 L2077.0,220.2 L2079.0,220.2 L2081.0,220.3 L2083.0,220.3 L2085.0,220.4 L2087.0,220.4 L2089.0,220.5 L2091.0,220.5 L2093.0,220.5 L2095.0,220.6 L2097.0,220.6 L2099.0,220.6 L2101.0,220.7 L2103.0,220.7 L2105.0,220.7 L2107.0,220.7 L2109.0,220.8 L2111.0,220.8 L2113.0,220.8 L2115.0,220.8 L2117.0,220.8 L2119.0,220.8 L2121.0,220.9 L2123.0,220.9 L2125.0,220.9 L2127.0,220.9 L2129.0,220.9 L2131.0,220.9 L2133.0,220.9 L2135.0,220.9 L2137.0,220.9 L2139.0,220.9 L2141.0,220.9 L2143.0,220.9 L2145.0,221.0 L2147.0,221.0 L2149.0,221.0 L2151.0,221.0 L2153.0,221.0 L2155.0,221.0 L2157.0,221.0 L2159.0,221.0 L2161.0,221.0 L2163.0,221.0 L2165.0,221.0 L2167.0,221.0 L2169.0,221.0 L2171.0,221.0 L2173.0,221.0 L2175.0,221.0 L2177.0,221.0 L2179.0,221.0 L2181.0,221.0 L2183.0,221.0 L2185.0,221.0 L2187.0,221.0 L2189.0,221.0 L2191.0,221.0 L2193.0,221.0 L2195.0,221.0 L2197.0,221.0 L2199.0,221.0 L2201.0,221.0 L2203.0,221.0 L2205.0,221.0 L2207.0,221.0 L2209.0,221.0 L2211.0,221.0 L2213.0,221.0 L2215.0,221.0 L2217.0,221.0 L2219.0,221.0 L2221.0,221.0 L2223.0,221.0 L2225.0,221.0 L2227.0,221.0 L2229.0,221.0 L2231.0,221.0 L2233.0,221.0 L2235.0,221.0 L2237.0,221.0 L2239.0,221.0 L2241.0,221.0 L2243.0,221.0 L2245.0,221.0 L2247.0,221.0 L2249.0,221.0 L2251.0,221.0 L2253.0,221.0 L2255.0,221.0 L2257.0,221.0 L2259.0,221.0 L2261.0,221.0 L2263.0,221.0 L2265.0,221.0 L2267.0,221.0 L2269.0,221.0 L2271.0,221.0 L2273.0,221.0 L2275.0,221.0 L2277.0,221.0 L2279.0,221.0 L2281.0,221.0 L2283.0,221.0 L2285.0,221.0 L2287.0,221.0 L2289.0,221.0 L2291.0,221.0 L2293.0,221.0 L2295.0,221.0 L2297.0,221.0 L2299.0,221.0" stroke="#f00" stroke-width="4.6"/>
<path d="M1377.0,223.5 L1379.0,223.5 L1381.0,223.5 L1383.0,223.5 L1385.0,223.5 L1387.0,223.5 L1389.0,223.5 L1391.0,223.5 L1393.0,223.5 L1395.0,223.5 L1397.0,223.5 L1399.0,223.5 L1401.0,223.5 L1403.0,223.5 L1405.0,223.4 L1407.0,223.4 L1409.0,223.4 L1411.0,223.4 L1413.0,223.4 L1415.0,223.4 L1417.0,223.4 L1419.0,223.4 L1421.0,223.4 L1423.0,223.4 L1425.0,223.4 L1427.0,223.4 L1429.0,223.3 L1431.0,223.3 L1433.0,223.3 L1435.0,223.3 L1437.0,223.3 L1439.0,223.3 L1441.0,223.2 L1443.0,223.2 L1445.0,223.2 L1447.0,223.2 L1449.0,223.1 L1451.0,223.1 L1453.0,223.1 L1455.0,223.0 L1457.0,223.0 L1459.0,223.0 L1461.0,222.9 L1463.0,222.9 L1465.0,222.8 L1467.0,222.8 L1469.0,222.7 L1471.0,222.7 L1473.0,222.6 L1475.0,222.5 L1477.0,222.5 L1479.0,222.4 L1481.0,222.3 L1483.0,222.3 L1485.0,222.2 L1487.0,222.1 L1489.0,222.0 L1491.0,221.9 L1493.0,221.8 L1495.0,221.7 L1497.0,221.6 L1499.0,221.5 L1501.0,221.4 L1503.0,221.2 L1505.0,221.1 L1507.0,221.0 L1509.0,220.8 L1511.0,220.7 L1513.0,220.5 L1515.0,220.4 L1517.0,220.2 L1519.0,220.0 L1521.0,219.8 L1523.0,219.7 L1525.0,219.5 L1527.0,219.3 L1529.0,219.0 L1531.0,218.8 L1533.0,218.6 L1535.0,218.4 L1537.0,218.1 L1539.0,217.9 L1541.0,217.6 L1543.0,217.4 L1545.0,217.1 L1547.0,216.8 L1549.0,216.5 L1551.0,216.2 L1553.0,215.9 L1555.0,215.6 L1557.0,215.3 L1559.0,214.9 L1561.0,214.6 L1563.0,214.3 L1565.0,213.9 L1567.0,213.5 L1569.0,213.2 L1571.0,212.8 L1573.0,212.4 L1575.0,212.0 L1577.0,211.6 L1579.0,211.2 L1581.0,210.8 L1583.0,210.3 L1585.0,209.9 L1587.0,209.5 L1589.0,209.0 L1591.0,208.6 L1593.0,208.1 L1595.0,207.7 L1597.0,207.2 L1599.0,206.7 L1601.0,206.3 L1603.0,205.8 L1605.0,205.3 L1607.0,204.8 L1609.0,204.3 L1611.0,203.8 L1613.0,203.3 L1615.0,202.8 L1617.0,202.4 L1619.0,201.9 L1621.0,201.4 L1623.0,200.9 L1625.0,200.4 L1627.0,199.9 L1629.0,199.4 L1631.0,198.9 L1633.0,198.4 L1635.0,198.0 L1637.0,197.5 L1639.0,197.0 L1641.0,196.6 L1643.0,196.1 L1645.0,195.7 L1647.0,195.2 L1649.0,194.8 L1651.0,194.4 L1653.0,194.0 L1655.0,193.6 L1657.0,193.2 L1659.0,192.8 L1661.0,192.4 L1663.0,192.1 L1665.0,191.7 L1667.0,191.4 L1669.0,191.1 L1671.0,190.8 L1673.0,190.5 L1675.0,190.2 L1677.0,190.0 L1679.0,189.7 L1681.0,189.5 L1683.0,189.3 L1685.0,189.1 L1687.0,188.9 L1689.0,188.8 L1691.0,188.6 L1693.0,188.5 L1695.0,188.4 L1697.0,188.3 L1699.0,188.3 L1701.0,188.2 L1703.0,188.2 L1705.0,188.2 L1707.0,188.2 L1709.0,188.2 L1711.0,188.3 L1713.0,188.3 L1715.0,188.4 L1717.0,188.5 L1719.0,188.7 L1721.0,188.8 L1723.0,189.0 L1725.0,189.1 L1727.0,189.3 L1729.0,189.5 L1731.0,189.8 L1733.0,190.0 L1735.0,190.3 L1737.0,190.5 L1739.0,190.8 L1741.0,191.1 L1743.0,191.4 L1745.0,191.8 L1747.0,192.1 L1749.0,192.5 L1751.0,192.9 L1753.0,193.2 L1755.0,193.6 L1757.0,194.0 L1759.0,194.5 L1761.0,194.9 L1763.0,195.3 L1765.0,195.8 L1767.0,196.2 L1769.0,196.7 L1771.0,197.1 L1773.0,197.6 L1775.0,198.1 L1777.0,198.6 L1779.0,199.0 L1781.0,199.5 L1783.0,200.0 L1785.0,200.5 L1787.0,201.0 L1789.0,201.5 L1791.0,202.0 L1793.0,202.5 L1795.0,203.0 L1797.0,203.5 L1799.0,204.0 L1801.0,204.5 L1803.0,205.0 L1805.0,205.5 L1807.0,206.0 L1809.0,206.5 L1811.0,207.0 L1813.0,207.4 L1815.0,207.9 L1817.0,208.4 L1819.0,208.8 L1821.0,209.3 L1823.0,209.8 L1825.0,210.2 L1827.0,210.6 L1829.0,211.1 L1831.0,211.5 L1833.0,211.9 L1835.0,212.3 L1837.0,212.7 L1839.0,213.1 L1841.0,213.5 L1843.0,213.9 L1845.0,214.3 L1847.0,214.6 L1849.0,215.0 L1851.0,215.3 L1853.0,215.7 L1855.0,216.0 L1857.0,216.3 L1859.0,216.6 L1861.0,217.0 L1863.0,217.3 L1865.0,217.5 L1867.0,217.8 L1869.0,218.1 L1871.0,218.4 L1873.0,218.6 L1875.0,218.9 L1877.0,219.1 L1879.0,219.3 L1881.0,219.6 L1883.0,219.8 L1885.0,220.0 L1887.0,220.2 L1889.0,220.4 L1891.0,220.6 L1893.0,220.8 L1895.0,220.9 L1897.0,221.1 L1899.0,221.3 L1901.0,221.4 L1903.0,221.6 L1905.0,221.7 L1907.0,221.9 L1909.0,222.0 L1911.0,222.1 L1913.0,222.2 L1915.0,222.4 L1917.0,222.5 L1919.0,222.6 L1921.0,222.7 L1923.0,222.8 L1925.0,222.9 L1927.0,223.0 L1929.0,223.0 L1931.0,223.1 L1933.0,223.2 L1935.0,223.3 L1937.0,223.3 L1939.0,223.4 L1941.0,223.5 L1943.0,223.5 L1945.0,223.6 L1947.0,223.6 L1949.0,223.7 L1951.0,223.7 L1953.0,223.8 L1955.0,223.8 L1957.0,223.9 L1959.0,223.9 L1961.0,224.0 L1963.0,224.0 L1965.0,224.0 L1967.0,224.1 L1969.0,224.1 L1971.0,224.1 L1973.0,224.1 L1975.0,224.2 L1977.0,224.2 L1979.0,224.2 L1981.0,224.2 L1983.0,224.3 L1985.0,224.3 L1987.0,224.3 L1989.0,224.3 L1991.0,224.3 L1993.0,224.3 L1995.0,224.4 L1997.0,224.4 L1999.0,224.4 L2001.0,224.4 L2003.0,224.4 L2005.0,224.4 L2007.0,224.4 L2009.0,224.4 L2011.0,224.5 L2013.0,224.5 L2015.0,224.5 L2017.0,224.5 L2019.0,224.5 L2021.0,224.5 L2023.0,224.5 L2025.0,224.5 L2027.0,224.5 L2029.0,224.5 L2031.0,224.5 L2033.0,224.5 L2035.0,224.5 L2037.0,224.5 L2039.0,224.6 L2041.0,224.6 L2043.0,224.6 L2045.0,224.6 L2047.0,224.6 L2049.0,224.6 L2051.0,224.6 L2053.0,224.6 L2055.0,224.6 L2057.0,224.6 L2059.0,224.6 L2061.0,224.6 L2063.0,224.6 L2065.0,224.6 L2067.0,224.6 L2069.0,224.6 L2071.0,224.6 L2073.0,224.6 L2075.0,224.6 L2077.0,224.6 L2079.0,224.6 L2081.0,224.6 L2083.0,224.6 L2085.0,224.6 L2087.0,224.7 L2089.0,224.7 L2091.0,224.7 L2093.0,224.7 L2095.0,224.7 L2097.0,224.7 L2099.0,224.7 L2101.0,224.7 L2103.0,224.7 L2105.0,224.7 L2107.0,224.7 L2109.0,224.7 L2111.0,224.7 L2113.0,224.7 L2115.0,224.7 L2117.0,224.7 L2119.0,224.7 L2121.0,224.7 L2123.0,224.7 L2125.0,224.7 L2127.0,224.7 L2129.0,224.7 L2131.0,224.7 L2133.0,224.7 L2135.0,224.7 L2137.0,224.7 L2139.0,224.7 L2141.0,224.7 L2143.0,224.7 L2145.0,224.7 L2147.0,224.8 L2149.0,224.8 L2151.0,224.8 L2153.0,224.8 L2155.0,224.8 L2157.0,224.8 L2159.0,224.8 L2161.0,224.8 L2163.0,224.8 L2165.0,224.8 L2167.0,224.8 L2169.0,224.8 L2171.0,224.8 L2173.0,224.8 L2175.0,224.8 L2177.0,224.8 L2179.0,224.8 L2181.0,224.8 L2183.0,224.8 L2185.0,224.8 L2187.0,224.8 L2189.0,224.8 L2191.0,224.8 L2193.0,224.8 L2195.0,224.8 L2197.0,224.8 L2199.0,224.8 L2201.0,224.8 L2203.0,224.8 L2205.0,224.8 L2207.0,224.8 L2209.0,224.9 L2211.0,224.9 L2213.0,224.9 L2215.0,224.9 L2217.0,224.9 L2219.0,224.9 L2221.0,224.9 L2223.0,224.9 L2225.0,224.9 L2227.0,224.9 L2229.0,224.9 L2231.0,224.9 L2233.0,224.9 L2235.0,224.9 L2237.0,224.9 L2239.0,224.9 L2241.0,224.9 L2243.0,224.9 L2245.0,224.9 L2247.0,224.9 L2249.0,224.9 L2251.0,224.9 L2253.0,224.9 L2255.0,224.9 L2257.0,224.9 L2259.0,224.9 L2261.0,224.9 L2263.0,224.9 L2265.0,224.9 L2267.0,224.9 L2269.0,224.9 L2271.0,225.0 L2273.0,225.0 L2275.0,225.0 L2277.0,225.0 L2279.0,225.0 L2281.0,225.0 L2283.0,225.0 L2285.0,225.0 L2287.0,225.0 L2289.0,225.0 L2291.0,225.0 L2293.0,225.0 L2295.0,225.0 L2297.0,225.0 L2299.0,225.0" stroke="#00f" stroke-width="4.6"/>
<path d="M1377.0,410.1 L1386.9,409.1 L1426.4,411.1 L1444.2,415.0 L1456.1,410.1 L1479.8,413.1 L1499.6,409.1 L1535.2,409.1 L1559.0,406.1 L1574.8,401.2 L1598.5,395.3 L1628.2,385.4 L1653.9,370.5 L1673.7,356.7 L1693.4,345.8 L1709.3,328.0 L1733.0,308.2 L1752.8,294.4 L1772.5,283.5 L1784.4,276.6 L1802.2,269.7 L1822.0,276.6 L1838.0,277.6 L1857.8,291.4 L1871.6,308.2 L1883.5,315.2 L1895.4,327.0 L1905.2,331.0 L1917.1,342.8 L1932.9,349.8 L1952.7,364.6 L1976.4,373.5 L2000.2,384.4 L2021.9,395.3 L2035.8,394.3 L2055.6,403.2 L2089.2,411.1 L2101.0,409.1 L2114.9,413.1 L2174.2,415.0 L2184.1,416.0 L2203.9,412.1 L2223.7,413.1 L2241.5,409.1 L2251.3,411.1 L2263.2,406.1 L2275.1,410.1 L2285.0,408.1 L2300.0,408.1" stroke="#000"/>
<path d="M1377.0,578.2 L1406.7,576.2 L1420.5,585.1 L1446.2,585.1 L1466.0,578.2 L1479.8,583.1 L1511.5,574.2 L1545.1,572.2 L1559.0,567.3 L1574.8,557.4 L1584.7,554.4 L1594.6,552.5 L1614.3,538.6 L1626.2,532.7 L1638.1,519.8 L1657.8,507.0 L1663.8,505.0 L1673.7,489.2 L1685.5,485.2 L1697.4,470.4 L1717.2,450.6 L1729.0,447.6 L1752.8,424.9 L1764.6,426.9 L1788.4,418.0 L1800.2,424.9 L1810.1,422.9 L1827.9,432.8 L1838.0,437.7 L1847.9,446.6 L1867.7,458.5 L1887.4,480.3 L1917.1,502.0 L1927.0,503.0 L1940.8,515.9 L1956.7,521.8 L1976.4,531.7 L1992.3,537.6 L2006.1,549.5 L2025.9,560.4 L2035.8,566.3 L2055.6,568.3 L2071.4,577.2 L2085.2,580.1 L2144.5,584.1 L2174.2,582.1 L2213.8,580.1 L2233.5,580.1 L2263.2,577.2 L2283.0,577.2 L2300.0,580.1" stroke="#000"/>
<path d="M1377.0,579.0 L1379.0,579.0 L1381.0,579.0 L1383.0,579.0 L1385.0,579.0 L1387.0,579.0 L1389.0,579.0 L1391.0,579.0 L1393.0,579.0 L1395.0,579.0 L1397.0,579.0 L1399.0,579.0 L1401.0,579.0 L1403.0,579.0 L1405.0,579.0 L1407.0,579.0 L1409.0,579.0 L1411.0,579.0 L1413.0,579.0 L1415.0,579.0 L1417.0,579.0 L1419.0,579.0 L1421.0,579.0 L1423.0,579.0 L1425.0,579.0 L1427.0,578.9 L1429.0,578.9 L1431.0,578.9 L1433.0,578.9 L1435.0,578.9 L1437.0,578.9 L1439.0,578.9 L1441.0,578.9 L1443.0,578.9 L1445.0,578.9 L1447.0,578.9 L1449.0,578.8 L1451.0,578.8 L1453.0,578.8 L1455.0,578.8 L1457.0,578.8 L1459.0,578.8 L1461.0,578.7 L1463.0,578.7 L1465.0,578.7 L1467.0,578.7 L1469.0,578.6 L1471.0,578.6 L1473.0,578.6 L1475.0,578.6 L1477.0,578.5 L1479.0,578.5 L1481.0,578.4 L1483.0,578.4 L1485.0,578.4 L1487.0,578.3 L1489.0,578.3 L1491.0,578.2 L1493.0,578.1 L1495.0,578.1 L1497.0,578.0 L1499.0,578.0 L1501.0,577.9 L1503.0,577.8 L1505.0,577.7 L1507.0,577.6 L1509.0,577.6 L1511.0,577.5 L1513.0,577.4 L1515.0,577.3 L1517.0,577.1 L1519.0,577.0 L1521.0,576.9 L1523.0,576.8 L1525.0,576.6 L1527.0,576.5 L1529.0,576.3 L1531.0,576.2 L1533.0,576.0 L1535.0,575.8 L1537.0,575.7 L1539.0,575.5 L1541.0,575.3 L1543.0,575.1 L1545.0,574.8 L1547.0,574.6 L1549.0,574.4 L1551.0,574.1 L1553.0,573.8 L1555.0,573.6 L1557.0,573.3 L1559.0,573.0 L1561.0,572.7 L1563.0,572.3 L1565.0,572.0 L1567.0,571.6 L1569.0,571.3 L1571.0,570.9 L1573.0,570.5 L1575.0,570.0 L1577.0,569.6 L1579.0,569.2 L1581.0,568.7 L1583.0,568.2 L1585.0,567.7 L1587.0,567.2 L1589.0,566.6 L1591.0,566.1 L1593.0,565.5 L1595.0,564.9 L1597.0,564.3 L1599.0,563.6 L1601.0,563.0 L1603.0,562.3 L1605.0,561.6 L1607.0,560.9 L1609.0,560.1 L1611.0,559.3 L1613.0,558.5 L1615.0,557.7 L1617.0,556.9 L1619.0,556.0 L1621.0,555.1 L1623.0,554.2 L1625.0,553.2 L1627.0,552.3 L1629.0,551.3 L1631.0,550.3 L1633.0,549.2 L1635.0,548.2 L1637.0,547.1 L1639.0,546.0 L1641.0,544.8 L1643.0,543.6 L1645.0,542.5 L1647.0,541.2 L1649.0,540.0 L1651.0,538.7 L1653.0,537.5 L1655.0,536.1 L1657.0,534.8 L1659.0,533.4 L1661.0,532.1 L1663.0,530.7 L1665.0,529.2 L1667.0,527.8 L1669.0,526.3 L1671.0,524.9 L1673.0,523.4 L1675.0,521.8 L1677.0,520.3 L1679.0,518.7 L1681.0,517.2 L1683.0,515.6 L1685.0,514.0 L1687.0,512.4 L1689.0,510.7 L1691.0,509.1 L1693.0,507.5 L1695.0,505.8 L1697.0,504.1 L1699.0,502.5 L1701.0,500.8 L1703.0,499.1 L1705.0,497.4 L1707.0,495.7 L1709.0,494.1 L1711.0,492.4 L1713.0,490.7 L1715.0,489.0 L1717.0,487.4 L1719.0,485.7 L1721.0,484.0 L1723.0,482.4 L1725.0,480.8 L1727.0,479.1 L1729.0,477.5 L1731.0,475.9 L1733.0,474.4 L1735.0,472.8 L1737.0,471.3 L1739.0,469.8 L1741.0,468.3 L1743.0,466.8 L1745.0,465.4 L1747.0,464.0 L1749.0,462.6 L1751.0,461.3 L1753.0,460.0 L1755.0,458.7 L1757.0,457.5 L1759.0,456.3 L1761.0,455.1 L1763.0,454.0 L1765.0,452.9 L1767.0,451.8 L1769.0,450.8 L1771.0,449.9 L1773.0,449.0 L1775.0,448.1 L1777.0,447.3 L1779.0,446.6 L1781.0,445.8 L1783.0,445.2 L1785.0,444.6 L1787.0,444.0 L1789.0,443.5 L1791.0,443.0 L1793.0,442.6 L1795.0,442.3 L1797.0,442.0 L1799.0,441.8 L1801.0,441.6 L1803.0,441.5 L1805.0,441.4 L1807.0,441.4 L1809.0,441.4 L1811.0,441.5 L1813.0,441.7 L1815.0,441.9 L1817.0,442.2 L1819.0,442.5 L1821.0,442.9 L1823.0,443.3 L1825.0,443.8 L1827.0,444.3 L1829.0,444.9 L1831.0,445.6 L1833.0,446.3 L1835.0,447.0 L1837.0,447.8 L1839.0,448.6 L1841.0,449.5 L1843.0,450.5 L1845.0,451.4 L1847.0,452.5 L1849.0,453.5 L1851.0,454.6 L1853.0,455.8 L1855.0,457.0 L1857.0,458.2 L1859.0,459.5 L1861.0,460.8 L1863.0,462.1 L1865.0,463.5 L1867.0,464.9 L1869.0,466.3 L1871.0,467.7 L1873.0,469.2 L1875.0,470.7 L1877.0,472.2 L1879.0,473.8 L1881.0,475.3 L1883.0,476.9 L1885.0,478.5 L1887.0,480.1 L1889.0,481.8 L1891.0,483.4 L1893.0,485.1 L1895.0,486.7 L1897.0,488.4 L1899.0,490.1 L1901.0,491.8 L1903.0,493.4 L1905.0,495.1 L1907.0,496.8 L1909.0,498.5 L1911.0,500.2 L1913.0,501.9 L1915.0,503.5 L1917.0,505.2 L1919.0,506.9 L1921.0,508.5 L1923.0,510.2 L1925.0,511.8 L1927.0,513.4 L1929.0,515.0 L1931.0,516.6 L1933.0,518.2 L1935.0,519.8 L1937.0,521.3 L1939.0,522.9 L1941.0,524.4 L1943.0,525.9 L1945.0,527.3 L1947.0,528.8 L1949.0,530.2 L1951.0,531.7 L1953.0,533.0 L1955.0,534.4 L1957.0,535.8 L1959.0,537.1 L1961.0,538.4 L1963.0,539.7 L1965.0,540.9 L1967.0,542.1 L1969.0,543.4 L1971.0,544.5 L1973.0,545.7 L1975.0,546.8 L1977.0,547.9 L1979.0,549.0 L1981.0,550.1 L1983.0,551.1 L1985.0,552.1 L1987.0,553.1 L1989.0,554.0 L1991.0,555.0 L1993.0,555.9 L1995.0,556.8 L1997.0,557.6 L1999.0,558.4 L2001.0,559.3 L2003.0,560.0 L2005.0,560.8 L2007.0,561.6 L2009.0,562.3 L2011.0,563.0 L2013.0,563.6 L2015.0,564.3 L2017.0,564.9 L2019.0,565.5 L2021.0,566.1 L2023.0,566.7 L2025.0,567.3 L2027.0,567.8 L2029.0,568.3 L2031.0,568.8 L2033.0,569.3 L2035.0,569.8 L2037.0,570.2 L2039.0,570.6 L2041.0,571.0 L2043.0,571.4 L2045.0,571.8 L2047.0,572.2 L2049.0,572.5 L2051.0,572.9 L2053.0,573.2 L2055.0,573.5 L2057.0,573.8 L2059.0,574.1 L2061.0,574.4 L2063.0,574.6 L2065.0,574.9 L2067.0,575.1 L2069.0,575.3 L2071.0,575.6 L2073.0,575.8 L2075.0,576.0 L2077.0,576.2 L2079.0,576.3 L2081.0,576.5 L2083.0,576.7 L2085.0,576.8 L2087.0,577.0 L2089.0,577.1 L2091.0,577.3 L2093.0,577.4 L2095.0,577.5 L2097.0,577.6 L2099.0,577.8 L2101.0,577.9 L2103.0,578.0 L2105.0,578.1 L2107.0,578.1 L2109.0,578.2 L2111.0,578.3 L2113.0,578.4 L2115.0,578.5 L2117.0,578.5 L2119.0,578.6 L2121.0,578.7 L2123.0,578.7 L2125.0,578.8 L2127.0,578.8 L2129.0,578.9 L2131.0,578.9 L2133.0,579.0 L2135.0,579.0 L2137.0,579.0 L2139.0,579.1 L2141.0,579.1 L2143.0,579.1 L2145.0,579.2 L2147.0,579.2 L2149.0,579.2 L2151.0,579.3 L2153.0,579.3 L2155.0,579.3 L2157.0,579.3 L2159.0,579.3 L2161.0,579.4 L2163.0,579.4 L2165.0,579.4 L2167.0,579.4 L2169.0,579.4 L2171.0,579.4 L2173.0,579.5 L2175.0,579.5 L2177.0,579.5 L2179.0,579.5 L2181.0,579.5 L2183.0,579.5 L2185.0,579.5 L2187.0,579.5 L2189.0,579.5 L2191.0,579.5 L2193.0,579.5 L2195.0,579.6 L2197.0,579.6 L2199.0,579.6 L2201.0,579.6 L2203.0,579.6 L2205.0,579.6 L2207.0,579.6 L2209.0,579.6 L2211.0,579.6 L2213.0,579.6 L2215.0,579.6 L2217.0,579.6 L2219.0,579.6 L2221.0,579.6 L2223.0,579.6 L2225.0,579.6 L2227.0,579.6 L2229.0,579.6 L2231.0,579.6 L2233.0,579.6 L2235.0,579.6 L2237.0,579.6 L2239.0,579.6 L2241.0,579.6 L2243.0,579.6 L2245.0,579.7 L2247.0,579.7 L2249.0,579.7 L2251.0,579.7 L2253.0,579.7 L2255.0,579.7 L2257.0,579.7 L2259.0,579.7 L2261.0,579.7 L2263.0,579.7 L2265.0,579.7 L2267.0,579.7 L2269.0,579.7 L2271.0,579.7 L2273.0,579.7 L2275.0,579.7 L2277.0,579.7 L2279.0,579.7 L2281.0,579.7 L2283.0,579.7 L2285.0,579.7 L2287.0,579.7 L2289.0,579.7 L2291.0,579.7 L2293.0,579.7 L2295.0,579.7 L2297.0,579.7 L2299.0,579.7" stroke="#f00" stroke-width="4.6"/>
<path d="M1377.0,582.2 L1379.0,582.2 L1381.0,582.2 L1383.0,582.2 L1385.0,582.2 L1387.0,582.2 L1389.0,582.1 L1391.0,582.1 L1393.0,582.1 L1395.0,582.1 L1397.0,582.1 L1399.0,582.1 L1401.0,582.0 L1403.0,582.0 L1405.0,582.0 L1407.0,582.0 L1409.0,582.0 L1411.0,581.9 L1413.0,581.9 L1415.0,581.9 L1417.0,581.8 L1419.0,581.8 L1421.0,581.8 L1423.0,581.7 L1425.0,581.7 L1427.0,581.7 L1429.0,581.6 L1431.0,581.6 L1433.0,581.5 L1435.0,581.5 L1437.0,581.4 L1439.0,581.4 L1441.0,581.3 L1443.0,581.3 L1445.0,581.2 L1447.0,581.1 L1449.0,581.1 L1451.0,581.0 L1453.0,580.9 L1455.0,580.9 L1457.0,580.8 L1459.0,580.7 L1461.0,580.6 L1463.0,580.5 L1465.0,580.4 L1467.0,580.3 L1469.0,580.2 L1471.0,580.1 L1473.0,580.0 L1475.0,579.9 L1477.0,579.8 L1479.0,579.7 L1481.0,579.6 L1483.0,579.4 L1485.0,579.3 L1487.0,579.2 L1489.0,579.0 L1491.0,578.9 L1493.0,578.7 L1495.0,578.6 L1497.0,578.4 L1499.0,578.3 L1501.0,578.1 L1503.0,577.9 L1505.0,577.7 L1507.0,577.6 L1509.0,577.4 L1511.0,577.2 L1513.0,577.0 L1515.0,576.8 L1517.0,576.6 L1519.0,576.3 L1521.0,576.1 L1523.0,575.9 L1525.0,575.7 L1527.0,575.4 L1529.0,575.2 L1531.0,574.9 L1533.0,574.7 L1535.0,574.4 L1537.0,574.2 L1539.0,573.9 L1541.0,573.6 L1543.0,573.3 L1545.0,573.0 L1547.0,572.8 L1549.0,572.5 L1551.0,572.2 L1553.0,571.9 L1555.0,571.5 L1557.0,571.2 L1559.0,570.9 L1561.0,570.6 L1563.0,570.3 L1565.0,569.9 L1567.0,569.6 L1569.0,569.3 L1571.0,568.9 L1573.0,568.6 L1575.0,568.2 L1577.0,567.9 L1579.0,567.5 L1581.0,567.2 L1583.0,566.8 L1585.0,566.5 L1587.0,566.1 L1589.0,565.7 L1591.0,565.4 L1593.0,565.0 L1595.0,564.7 L1597.0,564.3 L1599.0,563.9 L1601.0,563.6 L1603.0,563.2 L1605.0,562.8 L1607.0,562.5 L1609.0,562.1 L1611.0,561.7 L1613.0,561.4 L1615.0,561.0 L1617.0,560.7 L1619.0,560.3 L1621.0,560.0 L1623.0,559.6 L1625.0,559.3 L1627.0,559.0 L1629.0,558.6 L1631.0,558.3 L1633.0,558.0 L1635.0,557.7 L1637.0,557.4 L1639.0,557.1 L1641.0,556.8 L1643.0,556.5 L1645.0,556.2 L1647.0,555.9 L1649.0,555.7 L1651.0,555.4 L1653.0,555.2 L1655.0,554.9 L1657.0,554.7 L1659.0,554.5 L1661.0,554.3 L1663.0,554.1 L1665.0,553.9 L1667.0,553.7 L1669.0,553.5 L1671.0,553.4 L1673.0,553.2 L1675.0,553.1 L1677.0,552.9 L1679.0,552.8 L1681.0,552.7 L1683.0,552.6 L1685.0,552.6 L1687.0,552.5 L1689.0,552.4 L1691.0,552.4 L1693.0,552.3 L1695.0,552.3 L1697.0,552.3 L1699.0,552.3 L1701.0,552.3 L1703.0,552.3 L1705.0,552.4 L1707.0,552.4 L1709.0,552.5 L1711.0,552.6 L1713.0,552.7 L1715.0,552.8 L1717.0,552.9 L1719.0,553.0 L1721.0,553.1 L1723.0,553.3 L1725.0,553.4 L1727.0,553.6 L1729.0,553.7 L1731.0,553.9 L1733.0,554.1 L1735.0,554.3 L1737.0,554.5 L1739.0,554.8 L1741.0,555.0 L1743.0,555.2 L1745.0,555.5 L1747.0,555.8 L1749.0,556.0 L1751.0,556.3 L1753.0,556.6 L1755.0,556.9 L1757.0,557.2 L1759.0,557.5 L1761.0,557.8 L1763.0,558.1 L1765.0,558.4 L1767.0,558.8 L1769.0,559.1 L1771.0,559.4 L1773.0,559.8 L1775.0,560.1 L1777.0,560.5 L1779.0,560.8 L1781.0,561.2 L1783.0,561.5 L1785.0,561.9 L1787.0,562.3 L1789.0,562.6 L1791.0,563.0 L1793.0,563.4 L1795.0,563.7 L1797.0,564.1 L1799.0,564.5 L1801.0,564.9 L1803.0,565.2 L1805.0,565.6 L1807.0,566.0 L1809.0,566.3 L1811.0,566.7 L1813.0,567.1 L1815.0,567.4 L1817.0,567.8 L1819.0,568.1 L1821.0,568.5 L1823.0,568.8 L1825.0,569.2 L1827.0,569.5 L1829.0,569.9 L1831.0,570.2 L1833.0,570.6 L1835.0,570.9 L1837.0,571.2 L1839.0,571.5 L1841.0,571.9 L1843.0,572.2 L1845.0,572.5 L1847.0,572.8 L1849.0,573.1 L1851.0,573.4 L1853.0,573.7 L1855.0,574.0 L1857.0,574.2 L1859.0,574.5 L1861.0,574.8 L1863.0,575.1 L1865.0,575.3 L1867.0,575.6 L1869.0,575.8 L1871.0,576.1 L1873.0,576.3 L1875.0,576.5 L1877.0,576.8 L1879.0,577.0 L1881.0,577.2 L1883.0,577.4 L1885.0,577.6 L1887.0,577.8 L1889.0,578.0 L1891.0,578.2 L1893.0,578.4 L1895.0,578.6 L1897.0,578.7 L1899.0,578.9 L1901.0,579.1 L1903.0,579.2 L1905.0,579.4 L1907.0,579.5 L1909.0,579.7 L1911.0,579.8 L1913.0,580.0 L1915.0,580.1 L1917.0,580.2 L1919.0,580.4 L1921.0,580.5 L1923.0,580.6 L1925.0,580.7 L1927.0,580.8 L1929.0,580.9 L1931.0,581.0 L1933.0,581.1 L1935.0,581.2 L1937.0,581.3 L1939.0,581.4 L1941.0,581.5 L1943.0,581.6 L1945.0,581.6 L1947.0,581.7 L1949.0,581.8 L1951.0,581.8 L1953.0,581.9 L1955.0,582.0 L1957.0,582.0 L1959.0,582.1 L1961.0,582.2 L1963.0,582.2 L1965.0,582.3 L1967.0,582.3 L1969.0,582.4 L1971.0,582.4 L1973.0,582.4 L1975.0,582.5 L1977.0,582.5 L1979.0,582.6 L1981.0,582.6 L1983.0,582.6 L1985.0,582.7 L1987.0,582.7 L1989.0,582.7 L1991.0,582.8 L1993.0,582.8 L1995.0,582.8 L1997.0,582.8 L1999.0,582.9 L2001.0,582.9 L2003.0,582.9 L2005.0,582.9 L2007.0,582.9 L2009.0,583.0 L2011.0,583.0 L2013.0,583.0 L2015.0,583.0 L2017.0,583.0 L2019.0,583.0 L2021.0,583.1 L2023.0,583.1 L2025.0,583.1 L2027.0,583.1 L2029.0,583.1 L2031.0,583.1 L2033.0,583.1 L2035.0,583.1 L2037.0,583.2 L2039.0,583.2 L2041.0,583.2 L2043.0,583.2 L2045.0,583.2 L2047.0,583.2 L2049.0,583.2 L2051.0,583.2 L2053.0,583.2 L2055.0,583.2 L2057.0,583.2 L2059.0,583.2 L2061.0,583.2 L2063.0,583.2 L2065.0,583.3 L2067.0,583.3 L2069.0,583.3 L2071.0,583.3 L2073.0,583.3 L2075.0,583.3 L2077.0,583.3 L2079.0,583.3 L2081.0,583.3 L2083.0,583.3 L2085.0,583.3 L2087.0,583.3 L2089.0,583.3 L2091.0,583.3 L2093.0,583.3 L2095.0,583.3 L2097.0,583.3 L2099.0,583.3 L2101.0,583.3 L2103.0,583.3 L2105.0,583.3 L2107.0,583.3 L2109.0,583.3 L2111.0,583.3 L2113.0,583.4 L2115.0,583.4 L2117.0,583.4 L2119.0,583.4 L2121.0,583.4 L2123.0,583.4 L2125.0,583.4 L2127.0,583.4 L2129.0,583.4 L2131.0,583.4 L2133.0,583.4 L2135.0,583.4 L2137.0,583.4 L2139.0,583.4 L2141.0,583.4 L2143.0,583.4 L2145.0,583.4 L2147.0,583.4 L2149.0,583.4 L2151.0,583.4 L2153.0,583.4 L2155.0,583.4 L2157.0,583.4 L2159.0,583.4 L2161.0,583.4 L2163.0,583.4 L2165.0,583.4 L2167.0,583.4 L2169.0,583.4 L2171.0,583.4 L2173.0,583.4 L2175.0,583.4 L2177.0,583.4 L2179.0,583.4 L2181.0,583.4 L2183.0,583.4 L2185.0,583.5 L2187.0,583.5 L2189.0,583.5 L2191.0,583.5 L2193.0,583.5 L2195.0,583.5 L2197.0,583.5 L2199.0,583.5 L2201.0,583.5 L2203.0,583.5 L2205.0,583.5 L2207.0,583.5 L2209.0,583.5 L2211.0,583.5 L2213.0,583.5 L2215.0,583.5 L2217.0,583.5 L2219.0,583.5 L2221.0,583.5 L2223.0,583.5 L2225.0,583.5 L2227.0,583.5 L2229.0,583.5 L2231.0,583.5 L2233.0,583.5 L2235.0,583.5 L2237.0,583.5 L2239.0,583.5 L2241.0,583.5 L2243.0,583.5 L2245.0,583.5 L2247.0,583.5 L2249.0,583.5 L2251.0,583.5 L2253.0,583.5 L2255.0,583.5 L2257.0,583.5 L2259.0,583.5 L2261.0,583.5 L2263.0,583.6 L2265.0,583.6 L2267.0,583.6 L2269.0,583.6 L2271.0,583.6 L2273.0,583.6 L2275.0,583.6 L2277.0,583.6 L2279.0,583.6 L2281.0,583.6 L2283.0,583.6 L2285.0,583.6 L2287.0,583.6 L2289.0,583.6 L2291.0,583.6 L2293.0,583.6 L2295.0,583.6 L2297.0,583.6 L2299.0,583.6" stroke="#00f" stroke-width="4.6"/>
<path d="M1377.0,766.1 L1386.9,764.2 L1398.8,764.2 L1410.6,768.1 L1420.5,763.2 L1434.4,768.1 L1456.1,767.1 L1481.8,766.1 L1503.6,769.7 L1515.4,768.1 L1527.3,764.2 L1539.2,764.2 L1559.0,759.2 L1574.8,758.2 L1594.6,755.3 L1606.4,745.4 L1630.2,740.4 L1653.9,727.6 L1673.7,715.7 L1693.4,700.9 L1713.2,685.0 L1733.0,669.2 L1752.8,649.4 L1766.6,644.5 L1790.3,630.7 L1825.9,629.7 L1838.0,640.5 L1849.9,644.5 L1861.7,653.4 L1877.6,668.2 L1893.4,681.1 L1907.2,691.0 L1921.1,702.8 L1936.9,711.7 L1952.7,724.6 L1976.4,730.5 L1988.3,738.4 L2000.2,739.4 L2010.1,749.3 L2033.8,747.3 L2055.6,761.2 L2067.4,760.2 L2085.2,765.1 L2105.0,769.1 L2134.7,770.1 L2164.3,769.1 L2184.1,767.1 L2194.0,770.1 L2213.8,767.1 L2229.6,769.1 L2253.3,764.2 L2263.2,767.1 L2300.0,763.2" stroke="#000"/>
<path d="M1377.0,977.0 L1396.8,976.0 L1432.4,981.0 L1446.2,976.0 L1479.8,982.0 L1499.6,980.4 L1515.4,974.0 L1539.2,972.1 L1551.0,968.1 L1572.8,965.1 L1584.7,959.2 L1608.4,948.3 L1618.3,947.9 L1630.2,937.5 L1642.0,933.5 L1653.9,922.6 L1665.8,916.7 L1685.5,893.0 L1701.3,886.0 L1713.2,875.2 L1725.1,865.3 L1735.0,851.4 L1752.8,841.5 L1768.6,828.7 L1780.5,828.7 L1792.3,819.8 L1822.0,819.8 L1838.0,824.7 L1861.7,839.6 L1873.6,851.4 L1883.5,871.2 L1903.3,883.1 L1927.0,902.8 L1956.7,926.6 L1976.4,934.5 L1990.3,944.4 L2000.2,942.4 L2012.0,952.3 L2025.9,956.2 L2035.8,961.2 L2055.6,966.1 L2085.2,971.1 L2124.8,975.0 L2194.0,977.0 L2243.4,973.1 L2263.2,972.1 L2300.0,973.1" stroke="#000"/>
<path d="M1377.0,978.5 L1379.0,978.5 L1381.0,978.5 L1383.0,978.5 L1385.0,978.5 L1387.0,978.5 L1389.0,978.5 L1391.0,978.5 L1393.0,978.5 L1395.0,978.5 L1397.0,978.5 L1399.0,978.5 L1401.0,978.5 L1403.0,978.5 L1405.0,978.5 L1407.0,978.4 L1409.0,978.4 L1411.0,978.4 L1413.0,978.4 L1415.0,978.4 L1417.0,978.4 L1419.0,978.4 L1421.0,978.4 L1423.0,978.4 L1425.0,978.4 L1427.0,978.4 L1429.0,978.4 L1431.0,978.4 L1433.0,978.4 L1435.0,978.4 L1437.0,978.4 L1439.0,978.4 L1441.0,978.4 L1443.0,978.4 L1445.0,978.3 L1447.0,978.3 L1449.0,978.3 L1451.0,978.3 L1453.0,978.3 L1455.0,978.3 L1457.0,978.3 L1459.0,978.3 L1461.0,978.3 L1463.0,978.2 L1465.0,978.2 L1467.0,978.2 L1469.0,978.2 L1471.0,978.2 L1473.0,978.2 L1475.0,978.2 L1477.0,978.1 L1479.0,978.1 L1481.0,978.1 L1483.0,978.1 L1485.0,978.0 L1487.0,978.0 L1489.0,978.0 L1491.0,978.0 L1493.0,977.9 L1495.0,977.9 L1497.0,977.9 L1499.0,977.8 L1501.0,977.8 L1503.0,977.7 L1505.0,977.7 L1507.0,977.7 L1509.0,977.6 L1511.0,977.6 L1513.0,977.5 L1515.0,977.4 L1517.0,977.4 L1519.0,977.3 L1521.0,977.2 L1523.0,977.2 L1525.0,977.1 L1527.0,977.0 L1529.0,976.9 L1531.0,976.8 L1533.0,976.7 L1535.0,976.6 L1537.0,976.5 L1539.0,976.4 L1541.0,976.3 L1543.0,976.2 L1545.0,976.1 L1547.0,975.9 L1549.0,975.8 L1551.0,975.6 L1553.0,975.5 L1555.0,975.3 L1557.0,975.1 L1559.0,975.0 L1561.0,974.8 L1563.0,974.6 L1565.0,974.3 L1567.0,974.1 L1569.0,973.9 L1571.0,973.7 L1573.0,973.4 L1575.0,973.1 L1577.0,972.9 L1579.0,972.6 L1581.0,972.3 L1583.0,972.0 L1585.0,971.6 L1587.0,971.3 L1589.0,970.9 L1591.0,970.6 L1593.0,970.2 L1595.0,969.8 L1597.0,969.4 L1599.0,968.9 L1601.0,968.5 L1603.0,968.0 L1605.0,967.5 L1607.0,967.0 L1609.0,966.5 L1611.0,966.0 L1613.0,965.4 L1615.0,964.8 L1617.0,964.2 L1619.0,963.6 L1621.0,963.0 L1623.0,962.3 L1625.0,961.6 L1627.0,960.9 L1629.0,960.2 L1631.0,959.5 L1633.0,958.7 L1635.0,957.9 L1637.0,957.1 L1639.0,956.3 L1641.0,955.4 L1643.0,954.5 L1645.0,953.6 L1647.0,952.7 L1649.0,951.7 L1651.0,950.7 L1653.0,949.7 L1655.0,948.7 L1657.0,947.6 L1659.0,946.6 L1661.0,945.5 L1663.0,944.3 L1665.0,943.2 L1667.0,942.0 L1669.0,940.8 L1671.0,939.6 L1673.0,938.4 L1675.0,937.1 L1677.0,935.8 L1679.0,934.5 L1681.0,933.2 L1683.0,931.8 L1685.0,930.5 L1687.0,929.1 L1689.0,927.7 L1691.0,926.2 L1693.0,924.8 L1695.0,923.3 L1697.0,921.9 L1699.0,920.4 L1701.0,918.9 L1703.0,917.3 L1705.0,915.8 L1707.0,914.3 L1709.0,912.7 L1711.0,911.2 L1713.0,909.6 L1715.0,908.0 L1717.0,906.4 L1719.0,904.8 L1721.0,903.3 L1723.0,901.7 L1725.0,900.1 L1727.0,898.5 L1729.0,896.9 L1731.0,895.3 L1733.0,893.7 L1735.0,892.2 L1737.0,890.6 L1739.0,889.0 L1741.0,887.5 L1743.0,886.0 L1745.0,884.4 L1747.0,882.9 L1749.0,881.5 L1751.0,880.0 L1753.0,878.5 L1755.0,877.1 L1757.0,875.7 L1759.0,874.3 L1761.0,873.0 L1763.0,871.7 L1765.0,870.4 L1767.0,869.1 L1769.0,867.9 L1771.0,866.7 L1773.0,865.5 L1775.0,864.4 L1777.0,863.3 L1779.0,862.3 L1781.0,861.2 L1783.0,860.3 L1785.0,859.4 L1787.0,858.5 L1789.0,857.6 L1791.0,856.8 L1793.0,856.1 L1795.0,855.4 L1797.0,854.8 L1799.0,854.2 L1801.0,853.6 L1803.0,853.1 L1805.0,852.7 L1807.0,852.3 L1809.0,851.9 L1811.0,851.6 L1813.0,851.4 L1815.0,851.2 L1817.0,851.1 L1819.0,851.0 L1821.0,851.0 L1823.0,851.0 L1825.0,851.1 L1827.0,851.3 L1829.0,851.5 L1831.0,851.7 L1833.0,852.0 L1835.0,852.4 L1837.0,852.8 L1839.0,853.2 L1841.0,853.8 L1843.0,854.3 L1845.0,854.9 L1847.0,855.6 L1849.0,856.3 L1851.0,857.1 L1853.0,857.9 L1855.0,858.7 L1857.0,859.6 L1859.0,860.5 L1861.0,861.5 L1863.0,862.5 L1865.0,863.6 L1867.0,864.7 L1869.0,865.8 L1871.0,867.0 L1873.0,868.2 L1875.0,869.4 L1877.0,870.7 L1879.0,872.0 L1881.0,873.3 L1883.0,874.7 L1885.0,876.1 L1887.0,877.5 L1889.0,878.9 L1891.0,880.3 L1893.0,881.8 L1895.0,883.3 L1897.0,884.8 L1899.0,886.3 L1901.0,887.8 L1903.0,889.4 L1905.0,890.9 L1907.0,892.5 L1909.0,894.1 L1911.0,895.7 L1913.0,897.2 L1915.0,898.8 L1917.0,900.4 L1919.0,902.0 L1921.0,903.6 L1923.0,905.2 L1925.0,906.7 L1927.0,908.3 L1929.0,909.9 L1931.0,911.4 L1933.0,913.0 L1935.0,914.5 L1937.0,916.1 L1939.0,917.6 L1941.0,919.1 L1943.0,920.6 L1945.0,922.1 L1947.0,923.5 L1949.0,925.0 L1951.0,926.4 L1953.0,927.8 L1955.0,929.2 L1957.0,930.6 L1959.0,932.0 L1961.0,933.3 L1963.0,934.6 L1965.0,935.9 L1967.0,937.2 L1969.0,938.4 L1971.0,939.7 L1973.0,940.9 L1975.0,942.1 L1977.0,943.2 L1979.0,944.3 L1981.0,945.5 L1983.0,946.5 L1985.0,947.6 L1987.0,948.6 L1989.0,949.7 L1991.0,950.7 L1993.0,951.6 L1995.0,952.6 L1997.0,953.5 L1999.0,954.4 L2001.0,955.2 L2003.0,956.1 L2005.0,956.9 L2007.0,957.7 L2009.0,958.5 L2011.0,959.3 L2013.0,960.0 L2015.0,960.7 L2017.0,961.4 L2019.0,962.1 L2021.0,962.7 L2023.0,963.3 L2025.0,963.9 L2027.0,964.5 L2029.0,965.1 L2031.0,965.6 L2033.0,966.2 L2035.0,966.7 L2037.0,967.2 L2039.0,967.6 L2041.0,968.1 L2043.0,968.5 L2045.0,968.9 L2047.0,969.3 L2049.0,969.7 L2051.0,970.1 L2053.0,970.5 L2055.0,970.8 L2057.0,971.1 L2059.0,971.5 L2061.0,971.8 L2063.0,972.1 L2065.0,972.3 L2067.0,972.6 L2069.0,972.9 L2071.0,973.1 L2073.0,973.3 L2075.0,973.5 L2077.0,973.8 L2079.0,974.0 L2081.0,974.2 L2083.0,974.3 L2085.0,974.5 L2087.0,974.7 L2089.0,974.8 L2091.0,975.0 L2093.0,975.1 L2095.0,975.3 L2097.0,975.4 L2099.0,975.5 L2101.0,975.6 L2103.0,975.7 L2105.0,975.8 L2107.0,975.9 L2109.0,976.0 L2111.0,976.1 L2113.0,976.2 L2115.0,976.3 L2117.0,976.4 L2119.0,976.4 L2121.0,976.5 L2123.0,976.6 L2125.0,976.6 L2127.0,976.7 L2129.0,976.7 L2131.0,976.8 L2133.0,976.8 L2135.0,976.9 L2137.0,976.9 L2139.0,976.9 L2141.0,977.0 L2143.0,977.0 L2145.0,977.0 L2147.0,977.1 L2149.0,977.1 L2151.0,977.1 L2153.0,977.1 L2155.0,977.2 L2157.0,977.2 L2159.0,977.2 L2161.0,977.2 L2163.0,977.2 L2165.0,977.2 L2167.0,977.3 L2169.0,977.3 L2171.0,977.3 L2173.0,977.3 L2175.0,977.3 L2177.0,977.3 L2179.0,977.3 L2181.0,977.3 L2183.0,977.3 L2185.0,977.3 L2187.0,977.3 L2189.0,977.4 L2191.0,977.4 L2193.0,977.4 L2195.0,977.4 L2197.0,977.4 L2199.0,977.4 L2201.0,977.4 L2203.0,977.4 L2205.0,977.4 L2207.0,977.4 L2209.0,977.4 L2211.0,977.4 L2213.0,977.4 L2215.0,977.4 L2217.0,977.4 L2219.0,977.4 L2221.0,977.4 L2223.0,977.4 L2225.0,977.4 L2227.0,977.4 L2229.0,977.4 L2231.0,977.4 L2233.0,977.4 L2235.0,977.4 L2237.0,977.4 L2239.0,977.4 L2241.0,977.4 L2243.0,977.4 L2245.0,977.4 L2247.0,977.4 L2249.0,977.4 L2251.0,977.4 L2253.0,977.4 L2255.0,977.4 L2257.0,977.4 L2259.0,977.3 L2261.0,977.3 L2263.0,977.3 L2265.0,977.3 L2267.0,977.3 L2269.0,977.3 L2271.0,977.3 L2273.0,977.3 L2275.0,977.3 L2277.0,977.3 L2279.0,977.3 L2281.0,977.3 L2283.0,977.3 L2285.0,977.3 L2287.0,977.3 L2289.0,977.3 L2291.0,977.3 L2293.0,977.3 L2295.0,977.3 L2297.0,977.3 L2299.0,977.3" stroke="#f00" stroke-width="4.6"/>
<path d="M1377.0,979.6 L1379.0,979.6 L1381.0,979.6 L1383.0,979.6 L1385.0,979.6 L1387.0,979.6 L1389.0,979.6 L1391.0,979.6 L1393.0,979.6 L1395.0,979.6 L1397.0,979.6 L1399.0,979.6 L1401.0,979.6 L1403.0,979.6 L1405.0,979.5 L1407.0,979.5 L1409.0,979.5 L1411.0,979.5 L1413.0,979.5 L1415.0,979.5 L1417.0,979.5 L1419.0,979.5 L1421.0,979.4 L1423.0,979.4 L1425.0,979.4 L1427.0,979.4 L1429.0,979.4 L1431.0,979.3 L1433.0,979.3 L1435.0,979.3 L1437.0,979.3 L1439.0,979.2 L1441.0,979.2 L1443.0,979.2 L1445.0,979.2 L1447.0,979.1 L1449.0,979.1 L1451.0,979.0 L1453.0,979.0 L1455.0,979.0 L1457.0,978.9 L1459.0,978.9 L1461.0,978.8 L1463.0,978.8 L1465.0,978.7 L1467.0,978.7 L1469.0,978.6 L1471.0,978.6 L1473.0,978.5 L1475.0,978.4 L1477.0,978.4 L1479.0,978.3 L1481.0,978.2 L1483.0,978.1 L1485.0,978.1 L1487.0,978.0 L1489.0,977.9 L1491.0,977.8 L1493.0,977.7 L1495.0,977.6 L1497.0,977.5 L1499.0,977.4 L1501.0,977.3 L1503.0,977.2 L1505.0,977.0 L1507.0,976.9 L1509.0,976.8 L1511.0,976.7 L1513.0,976.5 L1515.0,976.4 L1517.0,976.2 L1519.0,976.1 L1521.0,975.9 L1523.0,975.7 L1525.0,975.6 L1527.0,975.4 L1529.0,975.2 L1531.0,975.0 L1533.0,974.8 L1535.0,974.6 L1537.0,974.4 L1539.0,974.2 L1541.0,974.0 L1543.0,973.8 L1545.0,973.5 L1547.0,973.3 L1549.0,973.0 L1551.0,972.8 L1553.0,972.5 L1555.0,972.3 L1557.0,972.0 L1559.0,971.7 L1561.0,971.4 L1563.0,971.2 L1565.0,970.9 L1567.0,970.5 L1569.0,970.2 L1571.0,969.9 L1573.0,969.6 L1575.0,969.3 L1577.0,968.9 L1579.0,968.6 L1581.0,968.2 L1583.0,967.9 L1585.0,967.5 L1587.0,967.1 L1589.0,966.8 L1591.0,966.4 L1593.0,966.0 L1595.0,965.6 L1597.0,965.2 L1599.0,964.8 L1601.0,964.4 L1603.0,964.0 L1605.0,963.5 L1607.0,963.1 L1609.0,962.7 L1611.0,962.2 L1613.0,961.8 L1615.0,961.4 L1617.0,960.9 L1619.0,960.5 L1621.0,960.0 L1623.0,959.5 L1625.0,959.1 L1627.0,958.6 L1629.0,958.2 L1631.0,957.7 L1633.0,957.2 L1635.0,956.8 L1637.0,956.3 L1639.0,955.8 L1641.0,955.4 L1643.0,954.9 L1645.0,954.4 L1647.0,954.0 L1649.0,953.5 L1651.0,953.0 L1653.0,952.6 L1655.0,952.1 L1657.0,951.7 L1659.0,951.2 L1661.0,950.8 L1663.0,950.3 L1665.0,949.9 L1667.0,949.4 L1669.0,949.0 L1671.0,948.6 L1673.0,948.2 L1675.0,947.8 L1677.0,947.4 L1679.0,947.0 L1681.0,946.6 L1683.0,946.2 L1685.0,945.8 L1687.0,945.5 L1689.0,945.1 L1691.0,944.8 L1693.0,944.5 L1695.0,944.1 L1697.0,943.8 L1699.0,943.5 L1701.0,943.2 L1703.0,943.0 L1705.0,942.7 L1707.0,942.5 L1709.0,942.2 L1711.0,942.0 L1713.0,941.8 L1715.0,941.6 L1717.0,941.4 L1719.0,941.2 L1721.0,941.1 L1723.0,940.9 L1725.0,940.8 L1727.0,940.7 L1729.0,940.6 L1731.0,940.5 L1733.0,940.5 L1735.0,940.4 L1737.0,940.4 L1739.0,940.4 L1741.0,940.3 L1743.0,940.4 L1745.0,940.4 L1747.0,940.4 L1749.0,940.5 L1751.0,940.5 L1753.0,940.6 L1755.0,940.7 L1757.0,940.8 L1759.0,941.0 L1761.0,941.1 L1763.0,941.3 L1765.0,941.4 L1767.0,941.6 L1769.0,941.8 L1771.0,942.0 L1773.0,942.3 L1775.0,942.5 L1777.0,942.8 L1779.0,943.0 L1781.0,943.3 L1783.0,943.6 L1785.0,943.9 L1787.0,944.2 L1789.0,944.5 L1791.0,944.8 L1793.0,945.2 L1795.0,945.5 L1797.0,945.9 L1799.0,946.3 L1801.0,946.7 L1803.0,947.0 L1805.0,947.4 L1807.0,947.8 L1809.0,948.3 L1811.0,948.7 L1813.0,949.1 L1815.0,949.5 L1817.0,950.0 L1819.0,950.4 L1821.0,950.9 L1823.0,951.3 L1825.0,951.8 L1827.0,952.2 L1829.0,952.7 L1831.0,953.1 L1833.0,953.6 L1835.0,954.1 L1837.0,954.5 L1839.0,955.0 L1841.0,955.5 L1843.0,956.0 L1845.0,956.4 L1847.0,956.9 L1849.0,957.4 L1851.0,957.8 L1853.0,958.3 L1855.0,958.8 L1857.0,959.2 L1859.0,959.7 L1861.0,960.2 L1863.0,960.6 L1865.0,961.1 L1867.0,961.5 L1869.0,962.0 L1871.0,962.4 L1873.0,962.9 L1875.0,963.3 L1877.0,963.7 L1879.0,964.1 L1881.0,964.6 L1883.0,965.0 L1885.0,965.4 L1887.0,965.8 L1889.0,966.2 L1891.0,966.6 L1893.0,967.0 L1895.0,967.4 L1897.0,967.7 L1899.0,968.1 L1901.0,968.5 L1903.0,968.8 L1905.0,969.2 L1907.0,969.5 L1909.0,969.8 L1911.0,970.2 L1913.0,970.5 L1915.0,970.8 L1917.0,971.1 L1919.0,971.4 L1921.0,971.7 L1923.0,972.0 L1925.0,972.3 L1927.0,972.5 L1929.0,972.8 L1931.0,973.1 L1933.0,973.3 L1935.0,973.6 L1937.0,973.8 L1939.0,974.1 L1941.0,974.3 L1943.0,974.5 L1945.0,974.7 L1947.0,974.9 L1949.0,975.1 L1951.0,975.3 L1953.0,975.5 L1955.0,975.7 L1957.0,975.9 L1959.0,976.1 L1961.0,976.2 L1963.0,976.4 L1965.0,976.6 L1967.0,976.7 L1969.0,976.9 L1971.0,977.0 L1973.0,977.1 L1975.0,977.3 L1977.0,977.4 L1979.0,977.5 L1981.0,977.6 L1983.0,977.8 L1985.0,977.9 L1987.0,978.0 L1989.0,978.1 L1991.0,978.2 L1993.0,978.3 L1995.0,978.4 L1997.0,978.4 L1999.0,978.5 L2001.0,978.6 L2003.0,978.7 L2005.0,978.8 L2007.0,978.8 L2009.0,978.9 L2011.0,979.0 L2013.0,979.0 L2015.0,979.1 L2017.0,979.2 L2019.0,979.2 L2021.0,979.3 L2023.0,979.3 L2025.0,979.4 L2027.0,979.4 L2029.0,979.4 L2031.0,979.5 L2033.0,979.5 L2035.0,979.6 L2037.0,979.6 L2039.0,979.6 L2041.0,979.7 L2043.0,979.7 L2045.0,979.7 L2047.0,979.8 L2049.0,979.8 L2051.0,979.8 L2053.0,979.8 L2055.0,979.9 L2057.0,979.9 L2059.0,979.9 L2061.0,979.9 L2063.0,979.9 L2065.0,980.0 L2067.0,980.0 L2069.0,980.0 L2071.0,980.0 L2073.0,980.0 L2075.0,980.0 L2077.0,980.1 L2079.0,980.1 L2081.0,980.1 L2083.0,980.1 L2085.0,980.1 L2087.0,980.1 L2089.0,980.1 L2091.0,980.1 L2093.0,980.1 L2095.0,980.1 L2097.0,980.2 L2099.0,980.2 L2101.0,980.2 L2103.0,980.2 L2105.0,980.2 L2107.0,980.2 L2109.0,980.2 L2111.0,980.2 L2113.0,980.2 L2115.0,980.2 L2117.0,980.2 L2119.0,980.2 L2121.0,980.2 L2123.0,980.2 L2125.0,980.2 L2127.0,980.2 L2129.0,980.2 L2131.0,980.2 L2133.0,980.2 L2135.0,980.3 L2137.0,980.3 L2139.0,980.3 L2141.0,980.3 L2143.0,980.3 L2145.0,980.3 L2147.0,980.3 L2149.0,980.3 L2151.0,980.3 L2153.0,980.3 L2155.0,980.3 L2157.0,980.3 L2159.0,980.3 L2161.0,980.3 L2163.0,980.3 L2165.0,980.3 L2167.0,980.3 L2169.0,980.3 L2171.0,980.3 L2173.0,980.3 L2175.0,980.3 L2177.0,980.3 L2179.0,980.3 L2181.0,980.3 L2183.0,980.3 L2185.0,980.3 L2187.0,980.3 L2189.0,980.3 L2191.0,980.3 L2193.0,980.3 L2195.0,980.3 L2197.0,980.3 L2199.0,980.3 L2201.0,980.3 L2203.0,980.3 L2205.0,980.3 L2207.0,980.3 L2209.0,980.3 L2211.0,980.3 L2213.0,980.3 L2215.0,980.3 L2217.0,980.3 L2219.0,980.3 L2221.0,980.3 L2223.0,980.3 L2225.0,980.3 L2227.0,980.3 L2229.0,980.3 L2231.0,980.3 L2233.0,980.3 L2235.0,980.4 L2237.0,980.4 L2239.0,980.4 L2241.0,980.4 L2243.0,980.4 L2245.0,980.4 L2247.0,980.4 L2249.0,980.4 L2251.0,980.4 L2253.0,980.4 L2255.0,980.4 L2257.0,980.4 L2259.0,980.4 L2261.0,980.4 L2263.0,980.4 L2265.0,980.4 L2267.0,980.4 L2269.0,980.4 L2271.0,980.4 L2273.0,980.4 L2275.0,980.4 L2277.0,980.4 L2279.0,980.4 L2281.0,980.4 L2283.0,980.4 L2285.0,980.4 L2287.0,980.4 L2289.0,980.4 L2291.0,980.4 L2293.0,980.4 L2295.0,980.4 L2297.0,980.4 L2299.0,980.4" stroke="#00f" stroke-width="4.6"/>
<path d="M1377.0,1140.2 L1386.9,1138.2 L1398.8,1145.7 L1410.6,1144.2 L1422.5,1139.2 L1436.3,1143.2 L1446.2,1145.1 L1456.1,1144.2 L1468.0,1147.1 L1481.8,1140.6 L1505.6,1140.6 L1527.3,1143.8 L1541.2,1143.2 L1555.0,1139.2 L1572.8,1128.3 L1582.7,1133.9 L1598.5,1123.4 L1614.3,1115.5 L1630.2,1104.6 L1642.0,1104.6 L1651.9,1084.8 L1665.8,1085.8 L1675.6,1082.8 L1689.5,1072.0 L1699.4,1054.2 L1721.1,1035.4 L1733.0,1033.4 L1744.9,1011.6 L1756.7,1003.7 L1772.5,992.9 L1788.4,984.9 L1802.2,983.0 L1825.9,982.0 L1838.0,995.8 L1849.9,997.8 L1861.7,1014.6 L1873.6,1024.5 L1885.5,1029.4 L1907.2,1057.1 L1919.1,1060.1 L1931.0,1071.0 L1950.7,1078.9 L1966.6,1090.8 L1976.4,1096.7 L1988.3,1099.7 L2002.2,1107.6 L2012.0,1110.5 L2035.8,1122.4 L2047.6,1129.3 L2059.5,1131.3 L2069.4,1131.3 L2091.2,1143.2 L2103.0,1138.2 L2126.8,1145.1 L2154.4,1143.2 L2174.2,1144.2 L2184.1,1148.1 L2196.0,1139.8 L2209.8,1146.1 L2231.6,1139.8 L2253.3,1145.1 L2265.2,1138.2 L2277.1,1143.2 L2300.0,1136.2" stroke="#000"/>
</g>
<g fill="none" stroke="#000" stroke-width="2.2">
<line x1="168" y1="43" x2="168" y2="1169.1" stroke-width="2.2"/>
<line x1="166.9" y1="1168" x2="1092.8" y2="1168" stroke-width="2.2"/>
<line x1="166.9" y1="44.3" x2="1092.8" y2="44.3" stroke-width="3.4" stroke="#2e2e2e"/>
<line x1="1091.3" y1="42.6" x2="1091.3" y2="1169.1" stroke-width="3.2" stroke="#2a2a2a"/>
<line x1="1376.8" y1="43" x2="1376.8" y2="1168.7" stroke-width="2.2"/>
<line x1="1375.7" y1="1167.6" x2="2301.8" y2="1167.6" stroke-width="2.2"/>
<line x1="1375.7" y1="44.3" x2="2301.8" y2="44.3" stroke-width="3.4" stroke="#2e2e2e"/>
<line x1="2300.2" y1="42.6" x2="2300.2" y2="1168.7" stroke-width="3.2" stroke="#2a2a2a"/>
<line x1="168.00" y1="1168" x2="168.00" y2="1185"/>
<line x1="229.55" y1="1168" x2="229.55" y2="1177"/>
<line x1="291.10" y1="1168" x2="291.10" y2="1185"/>
<line x1="352.65" y1="1168" x2="352.65" y2="1177"/>
<line x1="414.20" y1="1168" x2="414.20" y2="1185"/>
<line x1="475.75" y1="1168" x2="475.75" y2="1177"/>
<line x1="537.30" y1="1168" x2="537.30" y2="1185"/>
<line x1="598.85" y1="1168" x2="598.85" y2="1177"/>
<line x1="660.40" y1="1168" x2="660.40" y2="1185"/>
<line x1="721.95" y1="1168" x2="721.95" y2="1177"/>
<line x1="783.50" y1="1168" x2="783.50" y2="1185"/>
<line x1="845.05" y1="1168" x2="845.05" y2="1177"/>
<line x1="906.60" y1="1168" x2="906.60" y2="1185"/>
<line x1="968.15" y1="1168" x2="968.15" y2="1177"/>
<line x1="1029.70" y1="1168" x2="1029.70" y2="1185"/>
<line x1="1091.25" y1="1168" x2="1091.25" y2="1177"/>
<line x1="1377.00" y1="1167.5" x2="1377.00" y2="1177"/>
<line x1="1492.38" y1="1167.5" x2="1492.38" y2="1185"/>
<line x1="1607.76" y1="1167.5" x2="1607.76" y2="1177"/>
<line x1="1723.14" y1="1167.5" x2="1723.14" y2="1185"/>
<line x1="1838.52" y1="1167.5" x2="1838.52" y2="1177"/>
<line x1="1953.90" y1="1167.5" x2="1953.90" y2="1185"/>
<line x1="2069.28" y1="1167.5" x2="2069.28" y2="1177"/>
<line x1="2184.66" y1="1167.5" x2="2184.66" y2="1185"/>
<line x1="2300.04" y1="1167.5" x2="2300.04" y2="1177"/>
</g>
<text x="168.80" y="1229.6" text-anchor="middle" class="tk">190</text>
<text x="291.90" y="1229.6" text-anchor="middle" class="tk">188</text>
<text x="415.00" y="1229.6" text-anchor="middle" class="tk">186</text>
<text x="538.10" y="1229.6" text-anchor="middle" class="tk">184</text>
<text x="661.20" y="1229.6" text-anchor="middle" class="tk">182</text>
<text x="784.30" y="1229.6" text-anchor="middle" class="tk">180</text>
<text x="907.40" y="1229.6" text-anchor="middle" class="tk">178</text>
<text x="1030.50" y="1229.6" text-anchor="middle" class="tk">176</text>
<text x="1491.58" y="1229.6" text-anchor="middle" class="tk">536</text>
<text x="1722.34" y="1229.6" text-anchor="middle" class="tk">532</text>
<text x="1953.10" y="1229.6" text-anchor="middle" class="tk">528</text>
<text x="2183.86" y="1229.6" text-anchor="middle" class="tk">524</text>
<text x="427.6" y="1276.4" class="ti">Binding energy (eV)</text>
<text x="1635.7" y="1268.6" class="ti">Binding energy (eV)</text>
<text transform="translate(79,748.6) rotate(-90)" class="ti">Intensity (a.u.)</text>
<text transform="translate(1287.7,749.8) rotate(-90)" class="ti">Intensity (a.u.)</text>
<text x="28.4" y="129.6" class="pl">(a)</text>
<text x="1230.5" y="129.6" class="pl">(<tspan dx="0.8">b</tspan><tspan dx="3.2">)</tspan></text>
<text x="883.2" y="152.7" class="lb">M-SZ-3</text>
<text x="883.2" y="342.1" class="lb">M-ZrO<tspan class="sub" dy="14.6">2</tspan><tspan dy="-14.6">-3</tspan></text>
<text x="883.2" y="534.5" class="lb">M-SZ-2</text>
<text x="883.2" y="726.7" class="lb">M-ZrO<tspan class="sub" dy="14.6">2</tspan><tspan dy="-14.6">-2</tspan></text>
<text x="883.2" y="906.7" class="lb">M-SZ-1</text>
<text x="883.2" y="1103.2" class="lb">M-ZrO<tspan class="sub" dy="14.6">2</tspan><tspan dy="-14.6">-1</tspan></text>
<text x="2088.0" y="177.1" class="lb">M-SZ-3</text>
<text x="2088.0" y="353.8" class="lb">M-ZrO<tspan class="sub" dy="14.6">2</tspan><tspan dy="-14.6">-3</tspan></text>
<text x="2088.0" y="536.4" class="lb">M-SZ-2</text>
<text x="2088.0" y="718.4" class="lb">M-ZrO<tspan class="sub" dy="14.6">2</tspan><tspan dy="-14.6">-2</tspan></text>
<text x="2088.0" y="906.8" class="lb">M-SZ-1</text>
<text x="2088.0" y="1090.7" class="lb">M-ZrO<tspan class="sub" dy="14.6">2</tspan><tspan dy="-14.6">-1</tspan></text>
</svg>
</body></html>
